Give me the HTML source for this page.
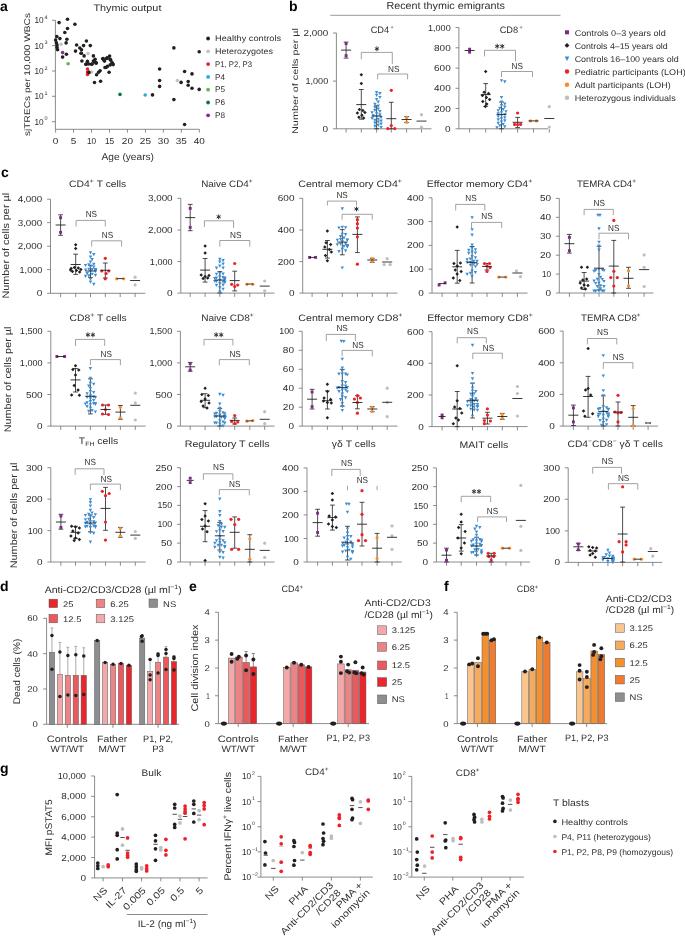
<!DOCTYPE html>
<html><head><meta charset="utf-8"><style>
html,body{margin:0;padding:0;background:#fff;}
svg{display:block;font-family:"Liberation Sans",sans-serif;text-rendering:geometricPrecision;will-change:transform;}
</style></head><body>
<svg width="685" height="937" viewBox="0 0 685 937">
<rect width="685" height="937" fill="#fff"/>
<text x="0.00" y="10.90" font-size="14" text-anchor="start" fill="#000" font-weight="bold">a</text>
<text x="93.40" y="11.30" font-size="9.3" text-anchor="start" fill="#2f2d2e" textLength="68.00" lengthAdjust="spacingAndGlyphs">Thymic output</text>
<text x="29.60" y="74.50" font-size="8.3" text-anchor="middle" fill="#2f2d2e" textLength="123.00" lengthAdjust="spacingAndGlyphs" transform="rotate(-90 29.60 74.50)">sjTRECs per 10,000 WBCs</text>
<line x1="55.40" y1="20.30" x2="55.40" y2="129.30" stroke="#6d6e71" stroke-width="0.8"/>
<line x1="55.40" y1="129.30" x2="199.40" y2="129.30" stroke="#6d6e71" stroke-width="0.8"/>
<line x1="52.00" y1="20.30" x2="55.40" y2="20.30" stroke="#6d6e71" stroke-width="0.8"/>
<text x="43.60" y="23.30" font-size="8.7" text-anchor="end" fill="#2f2d2e" textLength="9.22" lengthAdjust="spacingAndGlyphs">10</text>
<text x="44.40" y="19.00" font-size="5.2" text-anchor="start" fill="#2f2d2e" textLength="3.04" lengthAdjust="spacingAndGlyphs">4</text>
<line x1="52.00" y1="45.60" x2="55.40" y2="45.60" stroke="#6d6e71" stroke-width="0.8"/>
<text x="43.60" y="48.60" font-size="8.7" text-anchor="end" fill="#2f2d2e" textLength="9.22" lengthAdjust="spacingAndGlyphs">10</text>
<text x="44.40" y="44.30" font-size="5.2" text-anchor="start" fill="#2f2d2e" textLength="3.04" lengthAdjust="spacingAndGlyphs">3</text>
<line x1="52.00" y1="71.00" x2="55.40" y2="71.00" stroke="#6d6e71" stroke-width="0.8"/>
<text x="43.60" y="74.00" font-size="8.7" text-anchor="end" fill="#2f2d2e" textLength="9.22" lengthAdjust="spacingAndGlyphs">10</text>
<text x="44.40" y="69.70" font-size="5.2" text-anchor="start" fill="#2f2d2e" textLength="3.04" lengthAdjust="spacingAndGlyphs">2</text>
<line x1="52.00" y1="96.30" x2="55.40" y2="96.30" stroke="#6d6e71" stroke-width="0.8"/>
<text x="43.60" y="99.30" font-size="8.7" text-anchor="end" fill="#2f2d2e" textLength="9.22" lengthAdjust="spacingAndGlyphs">10</text>
<text x="44.40" y="95.00" font-size="5.2" text-anchor="start" fill="#2f2d2e" textLength="3.04" lengthAdjust="spacingAndGlyphs">1</text>
<line x1="52.00" y1="121.70" x2="55.40" y2="121.70" stroke="#6d6e71" stroke-width="0.8"/>
<text x="43.60" y="124.70" font-size="8.7" text-anchor="end" fill="#2f2d2e" textLength="9.22" lengthAdjust="spacingAndGlyphs">10</text>
<text x="44.40" y="120.40" font-size="5.2" text-anchor="start" fill="#2f2d2e" textLength="3.04" lengthAdjust="spacingAndGlyphs">0</text>
<line x1="55.60" y1="129.30" x2="55.60" y2="132.60" stroke="#6d6e71" stroke-width="0.8"/>
<text x="55.60" y="144.20" font-size="8.7" text-anchor="middle" fill="#2f2d2e" textLength="5.57" lengthAdjust="spacingAndGlyphs">0</text>
<line x1="73.56" y1="129.30" x2="73.56" y2="132.60" stroke="#6d6e71" stroke-width="0.8"/>
<text x="73.56" y="144.20" font-size="8.7" text-anchor="middle" fill="#2f2d2e" textLength="5.57" lengthAdjust="spacingAndGlyphs">5</text>
<line x1="91.53" y1="129.30" x2="91.53" y2="132.60" stroke="#6d6e71" stroke-width="0.8"/>
<text x="91.53" y="144.20" font-size="8.7" text-anchor="middle" fill="#2f2d2e" textLength="9.22" lengthAdjust="spacingAndGlyphs">10</text>
<line x1="109.50" y1="129.30" x2="109.50" y2="132.60" stroke="#6d6e71" stroke-width="0.8"/>
<text x="109.50" y="144.20" font-size="8.7" text-anchor="middle" fill="#2f2d2e" textLength="9.22" lengthAdjust="spacingAndGlyphs">15</text>
<line x1="127.46" y1="129.30" x2="127.46" y2="132.60" stroke="#6d6e71" stroke-width="0.8"/>
<text x="127.46" y="144.20" font-size="8.7" text-anchor="middle" fill="#2f2d2e" textLength="11.14" lengthAdjust="spacingAndGlyphs">20</text>
<line x1="145.43" y1="129.30" x2="145.43" y2="132.60" stroke="#6d6e71" stroke-width="0.8"/>
<text x="145.43" y="144.20" font-size="8.7" text-anchor="middle" fill="#2f2d2e" textLength="11.14" lengthAdjust="spacingAndGlyphs">25</text>
<line x1="163.39" y1="129.30" x2="163.39" y2="132.60" stroke="#6d6e71" stroke-width="0.8"/>
<text x="163.39" y="144.20" font-size="8.7" text-anchor="middle" fill="#2f2d2e" textLength="11.14" lengthAdjust="spacingAndGlyphs">30</text>
<line x1="181.35" y1="129.30" x2="181.35" y2="132.60" stroke="#6d6e71" stroke-width="0.8"/>
<text x="181.35" y="144.20" font-size="8.7" text-anchor="middle" fill="#2f2d2e" textLength="11.14" lengthAdjust="spacingAndGlyphs">35</text>
<line x1="199.32" y1="129.30" x2="199.32" y2="132.60" stroke="#6d6e71" stroke-width="0.8"/>
<text x="199.32" y="144.20" font-size="8.7" text-anchor="middle" fill="#2f2d2e" textLength="11.14" lengthAdjust="spacingAndGlyphs">40</text>
<text x="101.50" y="159.60" font-size="9.8" text-anchor="start" fill="#2f2d2e" textLength="52.50" lengthAdjust="spacingAndGlyphs">Age (years)</text>
<circle cx="59.10" cy="22.60" r="1.8" fill="#231f20"/>
<circle cx="67.50" cy="19.30" r="1.8" fill="#231f20"/>
<circle cx="74.90" cy="24.30" r="1.8" fill="#231f20"/>
<circle cx="67.50" cy="28.50" r="1.8" fill="#231f20"/>
<circle cx="64.80" cy="32.50" r="1.8" fill="#231f20"/>
<circle cx="56.80" cy="36.60" r="1.8" fill="#231f20"/>
<circle cx="59.90" cy="38.60" r="1.8" fill="#231f20"/>
<circle cx="66.90" cy="39.20" r="1.8" fill="#231f20"/>
<circle cx="66.10" cy="42.90" r="1.8" fill="#231f20"/>
<circle cx="55.60" cy="40.10" r="1.8" fill="#231f20"/>
<circle cx="56.40" cy="42.70" r="1.8" fill="#231f20"/>
<circle cx="57.00" cy="45.00" r="1.8" fill="#231f20"/>
<circle cx="57.00" cy="47.40" r="1.8" fill="#231f20"/>
<circle cx="57.60" cy="49.70" r="1.8" fill="#231f20"/>
<circle cx="66.40" cy="54.20" r="1.8" fill="#231f20"/>
<circle cx="62.60" cy="57.10" r="1.8" fill="#231f20"/>
<circle cx="76.60" cy="45.00" r="1.8" fill="#231f20"/>
<circle cx="86.40" cy="41.00" r="1.8" fill="#231f20"/>
<circle cx="90.30" cy="45.60" r="1.8" fill="#231f20"/>
<circle cx="83.60" cy="45.60" r="1.8" fill="#231f20"/>
<circle cx="79.80" cy="48.00" r="1.8" fill="#231f20"/>
<circle cx="81.50" cy="49.70" r="1.8" fill="#231f20"/>
<circle cx="75.50" cy="51.10" r="1.8" fill="#231f20"/>
<circle cx="81.30" cy="53.20" r="1.8" fill="#231f20"/>
<circle cx="84.10" cy="55.90" r="1.8" fill="#231f20"/>
<circle cx="93.40" cy="55.90" r="1.8" fill="#231f20"/>
<circle cx="81.90" cy="61.00" r="1.8" fill="#231f20"/>
<circle cx="87.40" cy="61.40" r="1.8" fill="#231f20"/>
<circle cx="86.20" cy="64.30" r="1.8" fill="#231f20"/>
<circle cx="91.50" cy="64.30" r="1.8" fill="#231f20"/>
<circle cx="94.40" cy="61.40" r="1.8" fill="#231f20"/>
<circle cx="96.10" cy="63.20" r="1.8" fill="#231f20"/>
<circle cx="103.20" cy="58.50" r="1.8" fill="#231f20"/>
<circle cx="107.20" cy="57.90" r="1.8" fill="#231f20"/>
<circle cx="109.60" cy="56.10" r="1.8" fill="#231f20"/>
<circle cx="110.70" cy="60.20" r="1.8" fill="#231f20"/>
<circle cx="112.50" cy="63.20" r="1.8" fill="#231f20"/>
<circle cx="110.20" cy="64.90" r="1.8" fill="#231f20"/>
<circle cx="106.00" cy="67.50" r="1.8" fill="#231f20"/>
<circle cx="104.10" cy="60.20" r="1.8" fill="#231f20"/>
<circle cx="81.10" cy="53.30" r="1.8" fill="#231f20"/>
<circle cx="85.80" cy="64.30" r="1.8" fill="#231f20"/>
<circle cx="88.70" cy="64.00" r="1.8" fill="#231f20"/>
<circle cx="92.20" cy="64.00" r="1.8" fill="#231f20"/>
<circle cx="93.40" cy="61.10" r="1.8" fill="#231f20"/>
<circle cx="95.10" cy="59.30" r="1.8" fill="#231f20"/>
<circle cx="96.30" cy="62.80" r="1.8" fill="#231f20"/>
<circle cx="102.70" cy="58.80" r="1.8" fill="#231f20"/>
<circle cx="104.50" cy="61.10" r="1.8" fill="#231f20"/>
<circle cx="106.80" cy="58.40" r="1.8" fill="#231f20"/>
<circle cx="110.30" cy="59.30" r="1.8" fill="#231f20"/>
<circle cx="112.00" cy="62.80" r="1.8" fill="#231f20"/>
<circle cx="113.20" cy="64.60" r="1.8" fill="#231f20"/>
<circle cx="107.40" cy="66.40" r="1.8" fill="#231f20"/>
<circle cx="105.00" cy="67.50" r="1.8" fill="#231f20"/>
<circle cx="88.90" cy="72.40" r="1.8" fill="#231f20"/>
<circle cx="96.60" cy="74.80" r="1.8" fill="#231f20"/>
<circle cx="100.10" cy="70.80" r="1.8" fill="#231f20"/>
<circle cx="98.60" cy="72.20" r="1.8" fill="#231f20"/>
<circle cx="109.10" cy="72.20" r="1.8" fill="#231f20"/>
<circle cx="94.50" cy="82.50" r="1.8" fill="#231f20"/>
<circle cx="100.60" cy="81.20" r="1.8" fill="#231f20"/>
<circle cx="173.90" cy="47.90" r="1.8" fill="#231f20"/>
<circle cx="199.20" cy="51.70" r="1.8" fill="#231f20"/>
<circle cx="159.60" cy="69.00" r="1.8" fill="#231f20"/>
<circle cx="184.60" cy="71.50" r="1.8" fill="#231f20"/>
<circle cx="192.00" cy="73.90" r="1.8" fill="#231f20"/>
<circle cx="159.60" cy="80.50" r="1.8" fill="#231f20"/>
<circle cx="159.60" cy="86.40" r="1.8" fill="#231f20"/>
<circle cx="181.10" cy="82.40" r="1.8" fill="#231f20"/>
<circle cx="188.20" cy="81.50" r="1.8" fill="#231f20"/>
<circle cx="188.20" cy="85.20" r="1.8" fill="#231f20"/>
<circle cx="192.00" cy="88.20" r="1.8" fill="#231f20"/>
<circle cx="199.20" cy="89.40" r="1.8" fill="#231f20"/>
<circle cx="152.50" cy="94.90" r="1.8" fill="#231f20"/>
<circle cx="173.90" cy="99.60" r="1.8" fill="#231f20"/>
<circle cx="184.60" cy="124.50" r="1.8" fill="#231f20"/>
<circle cx="61.10" cy="44.20" r="1.8" fill="#c2c3c5"/>
<circle cx="88.00" cy="53.60" r="1.8" fill="#c2c3c5"/>
<circle cx="91.60" cy="72.00" r="1.8" fill="#c2c3c5"/>
<circle cx="177.40" cy="80.50" r="1.8" fill="#c2c3c5"/>
<circle cx="62.60" cy="52.60" r="1.8" fill="#8b2a8b"/>
<circle cx="68.10" cy="63.70" r="1.8" fill="#62b657"/>
<circle cx="87.50" cy="69.00" r="1.8" fill="#ec2227"/>
<circle cx="87.50" cy="72.00" r="1.8" fill="#ec2227"/>
<circle cx="87.50" cy="74.50" r="1.8" fill="#ec2227"/>
<circle cx="88.90" cy="72.40" r="1.8" fill="#231f20"/>
<circle cx="120.00" cy="94.40" r="1.8" fill="#0b7a3e"/>
<circle cx="145.20" cy="95.00" r="1.8" fill="#27aae1"/>
<circle cx="208.10" cy="38.50" r="1.9" fill="#231f20"/>
<text x="215.10" y="41.20" font-size="8.2" text-anchor="start" fill="#2f2d2e" textLength="66.00" lengthAdjust="spacingAndGlyphs">Healthy controls</text>
<circle cx="208.10" cy="51.30" r="1.9" fill="#c2c3c5"/>
<text x="215.10" y="54.00" font-size="8.2" text-anchor="start" fill="#2f2d2e" textLength="58.00" lengthAdjust="spacingAndGlyphs">Heterozygotes</text>
<circle cx="208.10" cy="64.10" r="1.9" fill="#ec2227"/>
<text x="215.10" y="66.80" font-size="8.2" text-anchor="start" fill="#2f2d2e" textLength="37.00" lengthAdjust="spacingAndGlyphs">P1, P2, P3</text>
<circle cx="208.10" cy="76.90" r="1.9" fill="#27aae1"/>
<text x="215.10" y="79.60" font-size="8.2" text-anchor="start" fill="#2f2d2e">P4</text>
<circle cx="208.10" cy="89.70" r="1.9" fill="#62b657"/>
<text x="215.10" y="92.40" font-size="8.2" text-anchor="start" fill="#2f2d2e">P5</text>
<circle cx="208.10" cy="102.50" r="1.9" fill="#0b7a3e"/>
<text x="215.10" y="105.20" font-size="8.2" text-anchor="start" fill="#2f2d2e">P6</text>
<circle cx="208.10" cy="115.30" r="1.9" fill="#8b2a8b"/>
<text x="215.10" y="118.00" font-size="8.2" text-anchor="start" fill="#2f2d2e">P8</text>
<text x="289.00" y="10.90" font-size="14" text-anchor="start" fill="#000" font-weight="bold">b</text>
<text x="386.40" y="9.40" font-size="10.2" text-anchor="start" fill="#2f2d2e" textLength="118.60" lengthAdjust="spacingAndGlyphs">Recent thymic emigrants</text>
<line x1="330.30" y1="15.30" x2="560.50" y2="15.30" stroke="#808285" stroke-width="0.8"/>
<text x="298.40" y="81.00" font-size="8.3" text-anchor="middle" fill="#2f2d2e" textLength="106.00" lengthAdjust="spacingAndGlyphs" transform="rotate(-90 298.40 81.00)">Number of cells per µl</text>
<text x="370.70" y="33.30" font-size="9.3" text-anchor="start" fill="#2f2d2e" textLength="18.50" lengthAdjust="spacingAndGlyphs">CD4</text>
<text x="390.20" y="28.60" font-size="5.5" text-anchor="start" fill="#2f2d2e" textLength="3.60" lengthAdjust="spacingAndGlyphs">+</text>
<line x1="336.40" y1="33.00" x2="336.40" y2="128.80" stroke="#6d6e71" stroke-width="0.8"/>
<line x1="336.40" y1="128.80" x2="431.50" y2="128.80" stroke="#6d6e71" stroke-width="0.8"/>
<line x1="333.00" y1="33.00" x2="336.40" y2="33.00" stroke="#6d6e71" stroke-width="0.8"/>
<text x="328.20" y="36.05" font-size="8.7" text-anchor="end" fill="#2f2d2e" textLength="24.62" lengthAdjust="spacingAndGlyphs">2,000</text>
<line x1="333.00" y1="81.10" x2="336.40" y2="81.10" stroke="#6d6e71" stroke-width="0.8"/>
<text x="328.20" y="84.15" font-size="8.7" text-anchor="end" fill="#2f2d2e" textLength="22.71" lengthAdjust="spacingAndGlyphs">1,000</text>
<line x1="333.00" y1="128.80" x2="336.40" y2="128.80" stroke="#6d6e71" stroke-width="0.8"/>
<text x="328.20" y="131.85" font-size="8.7" text-anchor="end" fill="#2f2d2e" textLength="5.57" lengthAdjust="spacingAndGlyphs">0</text>
<line x1="346.10" y1="128.80" x2="346.10" y2="132.60" stroke="#6d6e71" stroke-width="0.8"/>
<line x1="361.30" y1="128.80" x2="361.30" y2="132.60" stroke="#6d6e71" stroke-width="0.8"/>
<line x1="376.60" y1="128.80" x2="376.60" y2="132.60" stroke="#6d6e71" stroke-width="0.8"/>
<line x1="391.30" y1="128.80" x2="391.30" y2="132.60" stroke="#6d6e71" stroke-width="0.8"/>
<line x1="406.60" y1="128.80" x2="406.60" y2="132.60" stroke="#6d6e71" stroke-width="0.8"/>
<line x1="421.50" y1="128.80" x2="421.50" y2="132.60" stroke="#6d6e71" stroke-width="0.8"/>
<line x1="346.10" y1="42.10" x2="346.10" y2="58.10" stroke="#231f20" stroke-width="0.8"/>
<line x1="343.70" y1="42.10" x2="348.50" y2="42.10" stroke="#231f20" stroke-width="0.8"/>
<line x1="343.70" y1="58.10" x2="348.50" y2="58.10" stroke="#231f20" stroke-width="0.8"/>
<rect x="344.65" y="42.15" width="2.90" height="2.90" fill="#7f2a84"/>
<rect x="344.65" y="54.15" width="2.90" height="2.90" fill="#7f2a84"/>
<line x1="341.10" y1="50.10" x2="351.10" y2="50.10" stroke="#231f20" stroke-width="0.9"/>
<line x1="361.30" y1="89.50" x2="361.30" y2="119.20" stroke="#231f20" stroke-width="0.8"/>
<line x1="358.90" y1="89.50" x2="363.70" y2="89.50" stroke="#231f20" stroke-width="0.8"/>
<line x1="358.90" y1="119.20" x2="363.70" y2="119.20" stroke="#231f20" stroke-width="0.8"/>
<polygon points="361.30,73.05 363.05,74.80 361.30,76.55 359.55,74.80" fill="#231f20"/>
<polygon points="361.30,81.65 363.05,83.40 361.30,85.15 359.55,83.40" fill="#231f20"/>
<polygon points="359.35,107.75 361.10,109.50 359.35,111.25 357.60,109.50" fill="#231f20"/>
<polygon points="362.86,108.75 364.61,110.50 362.86,112.25 361.11,110.50" fill="#231f20"/>
<polygon points="357.40,111.25 359.15,113.00 357.40,114.75 355.65,113.00" fill="#231f20"/>
<polygon points="364.94,110.75 366.69,112.50 364.94,114.25 363.19,112.50" fill="#231f20"/>
<polygon points="361.95,113.45 363.70,115.20 361.95,116.95 360.20,115.20" fill="#231f20"/>
<polygon points="358.96,115.55 360.71,117.30 358.96,119.05 357.21,117.30" fill="#231f20"/>
<polygon points="363.64,116.25 365.39,118.00 363.64,119.75 361.89,118.00" fill="#231f20"/>
<line x1="356.30" y1="104.60" x2="366.30" y2="104.60" stroke="#231f20" stroke-width="0.9"/>
<line x1="376.60" y1="105.80" x2="376.60" y2="128.80" stroke="#231f20" stroke-width="0.8"/>
<line x1="374.20" y1="105.80" x2="379.00" y2="105.80" stroke="#231f20" stroke-width="0.8"/>
<line x1="374.20" y1="128.80" x2="379.00" y2="128.80" stroke="#231f20" stroke-width="0.8"/>
<polygon points="374.90,90.96 378.30,90.96 376.60,94.10" fill="#3c8dd1"/>
<polygon points="378.20,92.06 381.60,92.06 379.90,95.20" fill="#3c8dd1"/>
<polygon points="374.90,93.76 378.30,93.76 376.60,96.90" fill="#3c8dd1"/>
<polygon points="378.20,95.96 381.60,95.96 379.90,99.10" fill="#3c8dd1"/>
<polygon points="374.90,98.06 378.30,98.06 376.60,101.20" fill="#3c8dd1"/>
<polygon points="376.55,100.56 379.95,100.56 378.25,103.70" fill="#3c8dd1"/>
<polygon points="373.25,102.76 376.65,102.76 374.95,105.90" fill="#3c8dd1"/>
<polygon points="376.55,104.56 379.95,104.56 378.25,107.70" fill="#3c8dd1"/>
<polygon points="373.25,106.06 376.65,106.06 374.95,109.20" fill="#3c8dd1"/>
<polygon points="376.55,107.56 379.95,107.56 378.25,110.70" fill="#3c8dd1"/>
<polygon points="373.25,108.96 376.65,108.96 374.95,112.10" fill="#3c8dd1"/>
<polygon points="378.20,110.06 381.60,110.06 379.90,113.20" fill="#3c8dd1"/>
<polygon points="370.40,111.16 373.80,111.16 372.10,114.30" fill="#3c8dd1"/>
<polygon points="374.90,112.16 378.30,112.16 376.60,115.30" fill="#3c8dd1"/>
<polygon points="378.20,113.36 381.60,113.36 379.90,116.50" fill="#3c8dd1"/>
<polygon points="371.60,114.26 375.00,114.26 373.30,117.40" fill="#3c8dd1"/>
<polygon points="374.90,115.16 378.30,115.16 376.60,118.30" fill="#3c8dd1"/>
<polygon points="379.40,116.06 382.80,116.06 381.10,119.20" fill="#3c8dd1"/>
<polygon points="370.40,116.96 373.80,116.96 372.10,120.10" fill="#3c8dd1"/>
<polygon points="376.55,117.76 379.95,117.76 378.25,120.90" fill="#3c8dd1"/>
<polygon points="373.25,118.76 376.65,118.76 374.95,121.90" fill="#3c8dd1"/>
<polygon points="379.40,119.56 382.80,119.56 381.10,122.70" fill="#3c8dd1"/>
<polygon points="376.55,120.56 379.95,120.56 378.25,123.70" fill="#3c8dd1"/>
<polygon points="373.25,121.56 376.65,121.56 374.95,124.70" fill="#3c8dd1"/>
<polygon points="379.40,122.56 382.80,122.56 381.10,125.70" fill="#3c8dd1"/>
<polygon points="376.55,123.76 379.95,123.76 378.25,126.90" fill="#3c8dd1"/>
<polygon points="373.25,124.86 376.65,124.86 374.95,128.00" fill="#3c8dd1"/>
<polygon points="379.40,125.96 382.80,125.96 381.10,129.10" fill="#3c8dd1"/>
<line x1="371.60" y1="116.00" x2="381.60" y2="116.00" stroke="#231f20" stroke-width="0.9"/>
<line x1="391.30" y1="102.30" x2="391.30" y2="128.80" stroke="#231f20" stroke-width="0.8"/>
<line x1="388.90" y1="102.30" x2="393.70" y2="102.30" stroke="#231f20" stroke-width="0.8"/>
<line x1="388.90" y1="128.80" x2="393.70" y2="128.80" stroke="#231f20" stroke-width="0.8"/>
<circle cx="391.30" cy="90.30" r="1.6" fill="#ec2227"/>
<circle cx="391.30" cy="125.60" r="1.6" fill="#ec2227"/>
<circle cx="387.80" cy="128.60" r="1.6" fill="#ec2227"/>
<circle cx="394.80" cy="128.60" r="1.6" fill="#ec2227"/>
<line x1="386.30" y1="118.70" x2="396.30" y2="118.70" stroke="#231f20" stroke-width="0.9"/>
<line x1="406.60" y1="116.60" x2="406.60" y2="122.60" stroke="#231f20" stroke-width="0.8"/>
<line x1="404.20" y1="116.60" x2="409.00" y2="116.60" stroke="#231f20" stroke-width="0.8"/>
<line x1="404.20" y1="122.60" x2="409.00" y2="122.60" stroke="#231f20" stroke-width="0.8"/>
<circle cx="406.60" cy="117.40" r="1.6" fill="#f58d2a"/>
<circle cx="406.60" cy="122.20" r="1.6" fill="#f58d2a"/>
<line x1="401.60" y1="119.50" x2="411.60" y2="119.50" stroke="#231f20" stroke-width="0.9"/>
<circle cx="421.50" cy="114.70" r="1.6" fill="#bcbec0"/>
<circle cx="421.50" cy="127.20" r="1.6" fill="#bcbec0"/>
<line x1="416.50" y1="121.10" x2="426.50" y2="121.10" stroke="#231f20" stroke-width="0.9"/>
<polyline points="361.30,59.30 361.30,52.40 392.30,52.40 392.30,64.10" fill="none" stroke="#8a8a8a" stroke-width="0.8"/>
<line x1="376.90" y1="46.40" x2="376.90" y2="51.20" stroke="#231f20" stroke-width="0.9"/>
<line x1="374.82" y1="47.60" x2="378.98" y2="50.00" stroke="#231f20" stroke-width="0.9"/>
<line x1="374.82" y1="50.00" x2="378.98" y2="47.60" stroke="#231f20" stroke-width="0.9"/>
<polyline points="377.70,79.30 377.70,74.00 407.60,74.00 407.60,79.30" fill="none" stroke="#8a8a8a" stroke-width="0.8"/>
<text x="393.80" y="71.80" font-size="8.8" text-anchor="middle" fill="#2f2d2e" textLength="11.40" lengthAdjust="spacingAndGlyphs">NS</text>
<text x="499.70" y="33.30" font-size="9.3" text-anchor="start" fill="#2f2d2e" textLength="18.50" lengthAdjust="spacingAndGlyphs">CD8</text>
<text x="519.30" y="28.60" font-size="5.5" text-anchor="start" fill="#2f2d2e" textLength="3.60" lengthAdjust="spacingAndGlyphs">+</text>
<line x1="458.90" y1="27.50" x2="458.90" y2="128.80" stroke="#6d6e71" stroke-width="0.8"/>
<line x1="458.90" y1="128.80" x2="548.00" y2="128.80" stroke="#6d6e71" stroke-width="0.8"/>
<line x1="455.50" y1="27.50" x2="458.90" y2="27.50" stroke="#6d6e71" stroke-width="0.8"/>
<text x="450.70" y="30.55" font-size="8.7" text-anchor="end" fill="#2f2d2e" textLength="22.71" lengthAdjust="spacingAndGlyphs">1,000</text>
<line x1="455.50" y1="47.80" x2="458.90" y2="47.80" stroke="#6d6e71" stroke-width="0.8"/>
<text x="450.70" y="50.85" font-size="8.7" text-anchor="end" fill="#2f2d2e" textLength="16.70" lengthAdjust="spacingAndGlyphs">800</text>
<line x1="455.50" y1="68.10" x2="458.90" y2="68.10" stroke="#6d6e71" stroke-width="0.8"/>
<text x="450.70" y="71.15" font-size="8.7" text-anchor="end" fill="#2f2d2e" textLength="16.70" lengthAdjust="spacingAndGlyphs">600</text>
<line x1="455.50" y1="88.30" x2="458.90" y2="88.30" stroke="#6d6e71" stroke-width="0.8"/>
<text x="450.70" y="91.35" font-size="8.7" text-anchor="end" fill="#2f2d2e" textLength="16.70" lengthAdjust="spacingAndGlyphs">400</text>
<line x1="455.50" y1="108.50" x2="458.90" y2="108.50" stroke="#6d6e71" stroke-width="0.8"/>
<text x="450.70" y="111.55" font-size="8.7" text-anchor="end" fill="#2f2d2e" textLength="16.70" lengthAdjust="spacingAndGlyphs">200</text>
<line x1="455.50" y1="128.80" x2="458.90" y2="128.80" stroke="#6d6e71" stroke-width="0.8"/>
<text x="450.70" y="131.85" font-size="8.7" text-anchor="end" fill="#2f2d2e" textLength="5.57" lengthAdjust="spacingAndGlyphs">0</text>
<line x1="469.60" y1="128.80" x2="469.60" y2="132.60" stroke="#6d6e71" stroke-width="0.8"/>
<line x1="485.70" y1="128.80" x2="485.70" y2="132.60" stroke="#6d6e71" stroke-width="0.8"/>
<line x1="501.50" y1="128.80" x2="501.50" y2="132.60" stroke="#6d6e71" stroke-width="0.8"/>
<line x1="517.60" y1="128.80" x2="517.60" y2="132.60" stroke="#6d6e71" stroke-width="0.8"/>
<line x1="533.50" y1="128.80" x2="533.50" y2="132.60" stroke="#6d6e71" stroke-width="0.8"/>
<line x1="549.30" y1="128.80" x2="549.30" y2="132.60" stroke="#6d6e71" stroke-width="0.8"/>
<rect x="468.15" y="47.75" width="2.90" height="2.90" fill="#7f2a84"/>
<rect x="468.15" y="50.75" width="2.90" height="2.90" fill="#7f2a84"/>
<line x1="464.60" y1="50.50" x2="474.60" y2="50.50" stroke="#231f20" stroke-width="0.9"/>
<line x1="485.70" y1="83.60" x2="485.70" y2="106.30" stroke="#231f20" stroke-width="0.8"/>
<line x1="483.30" y1="83.60" x2="488.10" y2="83.60" stroke="#231f20" stroke-width="0.8"/>
<line x1="483.30" y1="106.30" x2="488.10" y2="106.30" stroke="#231f20" stroke-width="0.8"/>
<polygon points="485.70,69.75 487.45,71.50 485.70,73.25 483.95,71.50" fill="#231f20"/>
<polygon points="484.14,90.45 485.89,92.20 484.14,93.95 482.39,92.20" fill="#231f20"/>
<polygon points="488.56,91.65 490.31,93.40 488.56,95.15 486.81,93.40" fill="#231f20"/>
<polygon points="482.45,93.75 484.20,95.50 482.45,97.25 480.70,95.50" fill="#231f20"/>
<polygon points="486.35,95.75 488.10,97.50 486.35,99.25 484.60,97.50" fill="#231f20"/>
<polygon points="489.60,97.75 491.35,99.50 489.60,101.25 487.85,99.50" fill="#231f20"/>
<polygon points="482.84,99.75 484.59,101.50 482.84,103.25 481.09,101.50" fill="#231f20"/>
<polygon points="486.74,102.25 488.49,104.00 486.74,105.75 484.99,104.00" fill="#231f20"/>
<polygon points="485.31,104.75 487.06,106.50 485.31,108.25 483.56,106.50" fill="#231f20"/>
<line x1="480.70" y1="94.60" x2="490.70" y2="94.60" stroke="#231f20" stroke-width="0.9"/>
<line x1="501.50" y1="102.10" x2="501.50" y2="128.80" stroke="#231f20" stroke-width="0.8"/>
<line x1="499.10" y1="102.10" x2="503.90" y2="102.10" stroke="#231f20" stroke-width="0.8"/>
<line x1="499.10" y1="128.80" x2="503.90" y2="128.80" stroke="#231f20" stroke-width="0.8"/>
<polygon points="499.80,79.16 503.20,79.16 501.50,82.30" fill="#3c8dd1"/>
<polygon points="503.10,80.36 506.50,80.36 504.80,83.50" fill="#3c8dd1"/>
<polygon points="499.80,96.06 503.20,96.06 501.50,99.20" fill="#3c8dd1"/>
<polygon points="499.80,100.56 503.20,100.56 501.50,103.70" fill="#3c8dd1"/>
<polygon points="503.10,102.56 506.50,102.56 504.80,105.70" fill="#3c8dd1"/>
<polygon points="499.80,104.06 503.20,104.06 501.50,107.20" fill="#3c8dd1"/>
<polygon points="503.10,105.56 506.50,105.56 504.80,108.70" fill="#3c8dd1"/>
<polygon points="498.15,106.76 501.55,106.76 499.85,109.90" fill="#3c8dd1"/>
<polygon points="501.45,108.06 504.85,108.06 503.15,111.20" fill="#3c8dd1"/>
<polygon points="496.50,109.16 499.90,109.16 498.20,112.30" fill="#3c8dd1"/>
<polygon points="504.30,110.16 507.70,110.16 506.00,113.30" fill="#3c8dd1"/>
<polygon points="499.80,111.16 503.20,111.16 501.50,114.30" fill="#3c8dd1"/>
<polygon points="496.50,112.16 499.90,112.16 498.20,115.30" fill="#3c8dd1"/>
<polygon points="503.10,113.16 506.50,113.16 504.80,116.30" fill="#3c8dd1"/>
<polygon points="499.80,114.16 503.20,114.16 501.50,117.30" fill="#3c8dd1"/>
<polygon points="496.50,115.16 499.90,115.16 498.20,118.30" fill="#3c8dd1"/>
<polygon points="503.10,116.16 506.50,116.16 504.80,119.30" fill="#3c8dd1"/>
<polygon points="499.80,117.26 503.20,117.26 501.50,120.40" fill="#3c8dd1"/>
<polygon points="496.50,118.36 499.90,118.36 498.20,121.50" fill="#3c8dd1"/>
<polygon points="503.10,119.36 506.50,119.36 504.80,122.50" fill="#3c8dd1"/>
<polygon points="499.80,120.56 503.20,120.56 501.50,123.70" fill="#3c8dd1"/>
<polygon points="496.50,121.76 499.90,121.76 498.20,124.90" fill="#3c8dd1"/>
<polygon points="501.45,122.96 504.85,122.96 503.15,126.10" fill="#3c8dd1"/>
<polygon points="498.15,124.16 501.55,124.16 499.85,127.30" fill="#3c8dd1"/>
<polygon points="503.10,125.36 506.50,125.36 504.80,128.50" fill="#3c8dd1"/>
<polygon points="495.30,126.36 498.70,126.36 497.00,129.50" fill="#3c8dd1"/>
<line x1="496.50" y1="114.40" x2="506.50" y2="114.40" stroke="#231f20" stroke-width="0.9"/>
<line x1="517.60" y1="117.40" x2="517.60" y2="127.60" stroke="#231f20" stroke-width="0.8"/>
<line x1="515.20" y1="117.40" x2="520.00" y2="117.40" stroke="#231f20" stroke-width="0.8"/>
<line x1="515.20" y1="127.60" x2="520.00" y2="127.60" stroke="#231f20" stroke-width="0.8"/>
<circle cx="517.60" cy="113.00" r="1.6" fill="#ec2227"/>
<circle cx="514.60" cy="124.40" r="1.6" fill="#ec2227"/>
<circle cx="517.60" cy="124.60" r="1.6" fill="#ec2227"/>
<circle cx="520.60" cy="124.40" r="1.6" fill="#ec2227"/>
<line x1="512.60" y1="122.30" x2="522.60" y2="122.30" stroke="#231f20" stroke-width="0.9"/>
<circle cx="530.50" cy="120.90" r="1.6" fill="#f58d2a"/>
<circle cx="536.50" cy="120.90" r="1.6" fill="#f58d2a"/>
<line x1="528.50" y1="120.90" x2="538.50" y2="120.90" stroke="#231f20" stroke-width="0.9"/>
<circle cx="549.30" cy="106.70" r="1.6" fill="#bcbec0"/>
<circle cx="549.30" cy="127.00" r="1.6" fill="#bcbec0"/>
<line x1="544.30" y1="118.50" x2="554.30" y2="118.50" stroke="#231f20" stroke-width="0.9"/>
<polyline points="484.50,56.40 484.50,50.30 515.50,50.30 515.50,61.30" fill="none" stroke="#8a8a8a" stroke-width="0.8"/>
<line x1="497.20" y1="43.90" x2="497.20" y2="48.70" stroke="#231f20" stroke-width="0.9"/>
<line x1="495.12" y1="45.10" x2="499.28" y2="47.50" stroke="#231f20" stroke-width="0.9"/>
<line x1="495.12" y1="47.50" x2="499.28" y2="45.10" stroke="#231f20" stroke-width="0.9"/>
<line x1="502.20" y1="43.90" x2="502.20" y2="48.70" stroke="#231f20" stroke-width="0.9"/>
<line x1="500.12" y1="45.10" x2="504.28" y2="47.50" stroke="#231f20" stroke-width="0.9"/>
<line x1="500.12" y1="47.50" x2="504.28" y2="45.10" stroke="#231f20" stroke-width="0.9"/>
<polyline points="501.50,77.10 501.50,71.50 532.50,71.50 532.50,77.10" fill="none" stroke="#8a8a8a" stroke-width="0.8"/>
<text x="517.20" y="69.30" font-size="8.8" text-anchor="middle" fill="#2f2d2e" textLength="11.40" lengthAdjust="spacingAndGlyphs">NS</text>
<rect x="564.97" y="30.27" width="4.06" height="4.06" fill="#7f2a84"/>
<text x="574.70" y="35.70" font-size="8.4" text-anchor="start" fill="#2f2d2e" textLength="91.00" lengthAdjust="spacingAndGlyphs">Controls 0–3 years old</text>
<polygon points="567.00,42.95 569.45,45.40 567.00,47.85 564.55,45.40" fill="#231f20"/>
<text x="574.70" y="48.80" font-size="8.4" text-anchor="start" fill="#2f2d2e" textLength="93.00" lengthAdjust="spacingAndGlyphs">Controls 4–15 years old</text>
<polygon points="564.62,56.48 569.38,56.48 567.00,60.88" fill="#3c8dd1"/>
<text x="574.70" y="61.90" font-size="8.4" text-anchor="start" fill="#2f2d2e" textLength="104.00" lengthAdjust="spacingAndGlyphs">Controls 16–100 years old</text>
<circle cx="567.00" cy="71.60" r="2.2399999999999998" fill="#ec2227"/>
<text x="574.70" y="75.00" font-size="8.4" text-anchor="start" fill="#2f2d2e" textLength="111.00" lengthAdjust="spacingAndGlyphs">Pediatric participants (LOH)</text>
<circle cx="567.00" cy="84.70" r="2.2399999999999998" fill="#f58d2a"/>
<text x="574.70" y="88.10" font-size="8.4" text-anchor="start" fill="#2f2d2e" textLength="96.00" lengthAdjust="spacingAndGlyphs">Adult participants (LOH)</text>
<circle cx="567.00" cy="97.80" r="2.2399999999999998" fill="#bcbec0"/>
<text x="574.70" y="101.20" font-size="8.4" text-anchor="start" fill="#2f2d2e" textLength="101.00" lengthAdjust="spacingAndGlyphs">Heterozygous individuals</text>
<text x="1.00" y="176.80" font-size="14" text-anchor="start" fill="#000" font-weight="bold">c</text>
<text x="8.60" y="245.70" font-size="9.6" text-anchor="middle" fill="#2f2d2e" textLength="105.80" lengthAdjust="spacingAndGlyphs" transform="rotate(-90 8.60 245.70)">Number of cells per µl</text>
<text x="10.90" y="379.40" font-size="9.6" text-anchor="middle" fill="#2f2d2e" textLength="105.80" lengthAdjust="spacingAndGlyphs" transform="rotate(-90 10.90 379.40)">Number of cells per µl</text>
<text x="17.20" y="515.40" font-size="9.6" text-anchor="middle" fill="#2f2d2e" textLength="105.80" lengthAdjust="spacingAndGlyphs" transform="rotate(-90 17.20 515.40)">Number of cells per µl</text>
<text x="69.00" y="187.00" font-size="9.3" text-anchor="start" fill="#2f2d2e" textLength="20.78" lengthAdjust="spacingAndGlyphs">CD4</text>
<text x="89.78" y="183.28" font-size="6.138000000000001" text-anchor="start" fill="#2f2d2e" textLength="4.00" lengthAdjust="spacingAndGlyphs">+</text>
<text x="96.67" y="187.00" font-size="9.3" text-anchor="start" fill="#2f2d2e" textLength="29.63" lengthAdjust="spacingAndGlyphs">T cells</text>
<line x1="50.50" y1="199.20" x2="50.50" y2="293.30" stroke="#6d6e71" stroke-width="0.8"/>
<line x1="50.50" y1="293.30" x2="145.30" y2="293.30" stroke="#6d6e71" stroke-width="0.8"/>
<line x1="47.10" y1="199.20" x2="50.50" y2="199.20" stroke="#6d6e71" stroke-width="0.8"/>
<text x="42.30" y="202.25" font-size="8.7" text-anchor="end" fill="#2f2d2e" textLength="24.62" lengthAdjust="spacingAndGlyphs">4,000</text>
<line x1="47.10" y1="222.60" x2="50.50" y2="222.60" stroke="#6d6e71" stroke-width="0.8"/>
<text x="42.30" y="225.65" font-size="8.7" text-anchor="end" fill="#2f2d2e" textLength="24.62" lengthAdjust="spacingAndGlyphs">3,000</text>
<line x1="47.10" y1="246.20" x2="50.50" y2="246.20" stroke="#6d6e71" stroke-width="0.8"/>
<text x="42.30" y="249.25" font-size="8.7" text-anchor="end" fill="#2f2d2e" textLength="24.62" lengthAdjust="spacingAndGlyphs">2,000</text>
<line x1="47.10" y1="269.60" x2="50.50" y2="269.60" stroke="#6d6e71" stroke-width="0.8"/>
<text x="42.30" y="272.65" font-size="8.7" text-anchor="end" fill="#2f2d2e" textLength="22.71" lengthAdjust="spacingAndGlyphs">1,000</text>
<line x1="47.10" y1="293.30" x2="50.50" y2="293.30" stroke="#6d6e71" stroke-width="0.8"/>
<text x="42.30" y="296.35" font-size="8.7" text-anchor="end" fill="#2f2d2e" textLength="5.57" lengthAdjust="spacingAndGlyphs">0</text>
<line x1="60.60" y1="293.30" x2="60.60" y2="297.10" stroke="#6d6e71" stroke-width="0.8"/>
<line x1="75.70" y1="293.30" x2="75.70" y2="297.10" stroke="#6d6e71" stroke-width="0.8"/>
<line x1="90.50" y1="293.30" x2="90.50" y2="297.10" stroke="#6d6e71" stroke-width="0.8"/>
<line x1="105.30" y1="293.30" x2="105.30" y2="297.10" stroke="#6d6e71" stroke-width="0.8"/>
<line x1="120.20" y1="293.30" x2="120.20" y2="297.10" stroke="#6d6e71" stroke-width="0.8"/>
<line x1="135.10" y1="293.30" x2="135.10" y2="297.10" stroke="#6d6e71" stroke-width="0.8"/>
<line x1="60.60" y1="214.80" x2="60.60" y2="235.30" stroke="#231f20" stroke-width="0.8"/>
<line x1="58.20" y1="214.80" x2="63.00" y2="214.80" stroke="#231f20" stroke-width="0.8"/>
<line x1="58.20" y1="235.30" x2="63.00" y2="235.30" stroke="#231f20" stroke-width="0.8"/>
<rect x="59.15" y="216.25" width="2.90" height="2.90" fill="#7f2a84"/>
<rect x="59.15" y="230.85" width="2.90" height="2.90" fill="#7f2a84"/>
<line x1="55.60" y1="225.00" x2="65.60" y2="225.00" stroke="#231f20" stroke-width="0.9"/>
<line x1="75.70" y1="254.20" x2="75.70" y2="274.40" stroke="#231f20" stroke-width="0.8"/>
<line x1="73.30" y1="254.20" x2="78.10" y2="254.20" stroke="#231f20" stroke-width="0.8"/>
<line x1="73.30" y1="274.40" x2="78.10" y2="274.40" stroke="#231f20" stroke-width="0.8"/>
<polygon points="75.70,242.95 77.45,244.70 75.70,246.45 73.95,244.70" fill="#231f20"/>
<polygon points="75.70,246.65 77.45,248.40 75.70,250.15 73.95,248.40" fill="#231f20"/>
<polygon points="71.15,266.75 72.90,268.50 71.15,270.25 69.40,268.50" fill="#231f20"/>
<polygon points="74.40,265.65 76.15,267.40 74.40,269.15 72.65,267.40" fill="#231f20"/>
<polygon points="78.30,266.25 80.05,268.00 78.30,269.75 76.55,268.00" fill="#231f20"/>
<polygon points="80.90,267.75 82.65,269.50 80.90,271.25 79.15,269.50" fill="#231f20"/>
<polygon points="72.45,269.75 74.20,271.50 72.45,273.25 70.70,271.50" fill="#231f20"/>
<polygon points="76.35,268.75 78.10,270.50 76.35,272.25 74.60,270.50" fill="#231f20"/>
<polygon points="79.60,270.25 81.35,272.00 79.60,273.75 77.85,272.00" fill="#231f20"/>
<polygon points="70.50,268.25 72.25,270.00 70.50,271.75 68.75,270.00" fill="#231f20"/>
<line x1="70.70" y1="264.50" x2="80.70" y2="264.50" stroke="#231f20" stroke-width="0.9"/>
<line x1="90.50" y1="265.20" x2="90.50" y2="277.60" stroke="#231f20" stroke-width="0.8"/>
<line x1="88.10" y1="265.20" x2="92.90" y2="265.20" stroke="#231f20" stroke-width="0.8"/>
<line x1="88.10" y1="277.60" x2="92.90" y2="277.60" stroke="#231f20" stroke-width="0.8"/>
<polygon points="88.80,251.36 92.20,251.36 90.50,254.50" fill="#3c8dd1"/>
<polygon points="92.10,253.06 95.50,253.06 93.80,256.20" fill="#3c8dd1"/>
<polygon points="88.80,255.56 92.20,255.56 90.50,258.70" fill="#3c8dd1"/>
<polygon points="90.45,258.06 93.85,258.06 92.15,261.20" fill="#3c8dd1"/>
<polygon points="88.80,260.56 92.20,260.56 90.50,263.70" fill="#3c8dd1"/>
<polygon points="93.80,269.96 97.20,269.96 95.50,273.10" fill="#3c8dd1"/>
<polygon points="83.85,274.87 87.25,274.87 85.55,278.01" fill="#3c8dd1"/>
<polygon points="92.10,265.60 95.50,265.60 93.80,268.74" fill="#3c8dd1"/>
<polygon points="93.75,273.77 97.15,273.77 95.45,276.92" fill="#3c8dd1"/>
<polygon points="93.80,268.45 97.20,268.45 95.50,271.60" fill="#3c8dd1"/>
<polygon points="83.85,268.44 87.25,268.44 85.55,271.59" fill="#3c8dd1"/>
<polygon points="88.80,277.63 92.20,277.63 90.50,280.77" fill="#3c8dd1"/>
<polygon points="88.80,270.22 92.20,270.22 90.50,273.37" fill="#3c8dd1"/>
<polygon points="93.80,269.37 97.20,269.37 95.50,272.52" fill="#3c8dd1"/>
<polygon points="90.45,272.66 93.85,272.66 92.15,275.80" fill="#3c8dd1"/>
<polygon points="87.15,274.34 90.55,274.34 88.85,277.49" fill="#3c8dd1"/>
<polygon points="93.80,269.42 97.20,269.42 95.50,272.57" fill="#3c8dd1"/>
<polygon points="85.50,272.05 88.90,272.05 87.20,275.20" fill="#3c8dd1"/>
<polygon points="88.80,265.42 92.20,265.42 90.50,268.56" fill="#3c8dd1"/>
<polygon points="90.45,268.00 93.85,268.00 92.15,271.14" fill="#3c8dd1"/>
<polygon points="87.15,267.69 90.55,267.69 88.85,270.84" fill="#3c8dd1"/>
<polygon points="83.85,263.89 87.25,263.89 85.55,267.04" fill="#3c8dd1"/>
<polygon points="87.15,263.14 90.55,263.14 88.85,266.29" fill="#3c8dd1"/>
<polygon points="92.10,262.64 95.50,262.64 93.80,265.79" fill="#3c8dd1"/>
<polygon points="93.80,268.54 97.20,268.54 95.50,271.69" fill="#3c8dd1"/>
<polygon points="93.80,268.82 97.20,268.82 95.50,271.97" fill="#3c8dd1"/>
<polygon points="93.75,268.19 97.15,268.19 95.45,271.34" fill="#3c8dd1"/>
<polygon points="88.80,280.56 92.20,280.56 90.50,283.70" fill="#3c8dd1"/>
<polygon points="92.10,282.75 95.50,282.75 93.80,285.90" fill="#3c8dd1"/>
<line x1="85.50" y1="271.00" x2="95.50" y2="271.00" stroke="#231f20" stroke-width="0.9"/>
<line x1="105.30" y1="263.00" x2="105.30" y2="278.00" stroke="#231f20" stroke-width="0.8"/>
<line x1="102.90" y1="263.00" x2="107.70" y2="263.00" stroke="#231f20" stroke-width="0.8"/>
<line x1="102.90" y1="278.00" x2="107.70" y2="278.00" stroke="#231f20" stroke-width="0.8"/>
<circle cx="105.30" cy="258.30" r="1.6" fill="#ec2227"/>
<circle cx="101.80" cy="271.00" r="1.6" fill="#ec2227"/>
<circle cx="108.80" cy="271.00" r="1.6" fill="#ec2227"/>
<circle cx="106.10" cy="273.50" r="1.6" fill="#ec2227"/>
<circle cx="105.30" cy="278.80" r="1.6" fill="#ec2227"/>
<line x1="100.30" y1="270.30" x2="110.30" y2="270.30" stroke="#231f20" stroke-width="0.9"/>
<circle cx="116.70" cy="278.80" r="1.6" fill="#f58d2a"/>
<circle cx="123.70" cy="278.80" r="1.6" fill="#f58d2a"/>
<line x1="116.70" y1="278.60" x2="123.70" y2="278.60" stroke="#231f20" stroke-width="0.9"/>
<circle cx="135.10" cy="277.20" r="1.6" fill="#bcbec0"/>
<circle cx="135.10" cy="284.90" r="1.6" fill="#bcbec0"/>
<line x1="130.10" y1="280.50" x2="140.10" y2="280.50" stroke="#231f20" stroke-width="0.9"/>
<polyline points="76.10,226.50 76.10,220.40 105.30,220.40 105.30,226.50" fill="none" stroke="#8a8a8a" stroke-width="0.8"/>
<text x="91.40" y="217.40" font-size="8.8" text-anchor="middle" fill="#2f2d2e" textLength="11.40" lengthAdjust="spacingAndGlyphs">NS</text>
<polyline points="91.70,246.60 91.70,240.80 121.60,240.80 121.60,246.60" fill="none" stroke="#8a8a8a" stroke-width="0.8"/>
<text x="107.50" y="238.30" font-size="8.8" text-anchor="middle" fill="#2f2d2e" textLength="11.40" lengthAdjust="spacingAndGlyphs">NS</text>
<text x="201.20" y="187.00" font-size="9.3" text-anchor="start" fill="#2f2d2e" textLength="47.61" lengthAdjust="spacingAndGlyphs">Naive CD4</text>
<text x="248.81" y="183.28" font-size="6.138000000000001" text-anchor="start" fill="#2f2d2e" textLength="3.79" lengthAdjust="spacingAndGlyphs">+</text>
<line x1="180.80" y1="198.30" x2="180.80" y2="293.10" stroke="#6d6e71" stroke-width="0.8"/>
<line x1="180.80" y1="293.10" x2="274.50" y2="293.10" stroke="#6d6e71" stroke-width="0.8"/>
<line x1="177.40" y1="198.30" x2="180.80" y2="198.30" stroke="#6d6e71" stroke-width="0.8"/>
<text x="172.60" y="201.35" font-size="8.7" text-anchor="end" fill="#2f2d2e" textLength="24.62" lengthAdjust="spacingAndGlyphs">3,000</text>
<line x1="177.40" y1="230.00" x2="180.80" y2="230.00" stroke="#6d6e71" stroke-width="0.8"/>
<text x="172.60" y="233.05" font-size="8.7" text-anchor="end" fill="#2f2d2e" textLength="24.62" lengthAdjust="spacingAndGlyphs">2,000</text>
<line x1="177.40" y1="261.60" x2="180.80" y2="261.60" stroke="#6d6e71" stroke-width="0.8"/>
<text x="172.60" y="264.65" font-size="8.7" text-anchor="end" fill="#2f2d2e" textLength="22.71" lengthAdjust="spacingAndGlyphs">1,000</text>
<line x1="177.40" y1="293.10" x2="180.80" y2="293.10" stroke="#6d6e71" stroke-width="0.8"/>
<text x="172.60" y="296.15" font-size="8.7" text-anchor="end" fill="#2f2d2e" textLength="5.57" lengthAdjust="spacingAndGlyphs">0</text>
<line x1="190.20" y1="293.10" x2="190.20" y2="296.90" stroke="#6d6e71" stroke-width="0.8"/>
<line x1="205.10" y1="293.10" x2="205.10" y2="296.90" stroke="#6d6e71" stroke-width="0.8"/>
<line x1="219.80" y1="293.10" x2="219.80" y2="296.90" stroke="#6d6e71" stroke-width="0.8"/>
<line x1="234.70" y1="293.10" x2="234.70" y2="296.90" stroke="#6d6e71" stroke-width="0.8"/>
<line x1="249.80" y1="293.10" x2="249.80" y2="296.90" stroke="#6d6e71" stroke-width="0.8"/>
<line x1="264.70" y1="293.10" x2="264.70" y2="296.90" stroke="#6d6e71" stroke-width="0.8"/>
<line x1="190.20" y1="204.40" x2="190.20" y2="230.70" stroke="#231f20" stroke-width="0.8"/>
<line x1="187.80" y1="204.40" x2="192.60" y2="204.40" stroke="#231f20" stroke-width="0.8"/>
<line x1="187.80" y1="230.70" x2="192.60" y2="230.70" stroke="#231f20" stroke-width="0.8"/>
<rect x="188.75" y="206.95" width="2.90" height="2.90" fill="#7f2a84"/>
<rect x="188.75" y="225.95" width="2.90" height="2.90" fill="#7f2a84"/>
<line x1="185.20" y1="217.60" x2="195.20" y2="217.60" stroke="#231f20" stroke-width="0.9"/>
<line x1="205.10" y1="258.50" x2="205.10" y2="282.10" stroke="#231f20" stroke-width="0.8"/>
<line x1="202.70" y1="258.50" x2="207.50" y2="258.50" stroke="#231f20" stroke-width="0.8"/>
<line x1="202.70" y1="282.10" x2="207.50" y2="282.10" stroke="#231f20" stroke-width="0.8"/>
<polygon points="205.10,244.25 206.85,246.00 205.10,247.75 203.35,246.00" fill="#231f20"/>
<polygon points="205.10,251.25 206.85,253.00 205.10,254.75 203.35,253.00" fill="#231f20"/>
<polygon points="201.20,273.25 202.95,275.00 201.20,276.75 199.45,275.00" fill="#231f20"/>
<polygon points="205.10,274.75 206.85,276.50 205.10,278.25 203.35,276.50" fill="#231f20"/>
<polygon points="209.00,273.75 210.75,275.50 209.00,277.25 207.25,275.50" fill="#231f20"/>
<polygon points="203.15,276.75 204.90,278.50 203.15,280.25 201.40,278.50" fill="#231f20"/>
<polygon points="207.70,276.25 209.45,278.00 207.70,279.75 205.95,278.00" fill="#231f20"/>
<line x1="200.10" y1="270.10" x2="210.10" y2="270.10" stroke="#231f20" stroke-width="0.9"/>
<line x1="219.80" y1="271.60" x2="219.80" y2="293.00" stroke="#231f20" stroke-width="0.8"/>
<line x1="217.40" y1="271.60" x2="222.20" y2="271.60" stroke="#231f20" stroke-width="0.8"/>
<line x1="217.40" y1="293.00" x2="222.20" y2="293.00" stroke="#231f20" stroke-width="0.8"/>
<polygon points="218.10,257.75 221.50,257.75 219.80,260.90" fill="#3c8dd1"/>
<polygon points="221.40,259.06 224.80,259.06 223.10,262.20" fill="#3c8dd1"/>
<polygon points="218.10,260.56 221.50,260.56 219.80,263.70" fill="#3c8dd1"/>
<polygon points="221.40,262.56 224.80,262.56 223.10,265.70" fill="#3c8dd1"/>
<polygon points="218.10,264.56 221.50,264.56 219.80,267.70" fill="#3c8dd1"/>
<polygon points="221.40,272.48 224.80,272.48 223.10,275.63" fill="#3c8dd1"/>
<polygon points="214.80,272.67 218.20,272.67 216.50,275.81" fill="#3c8dd1"/>
<polygon points="221.40,283.57 224.80,283.57 223.10,286.72" fill="#3c8dd1"/>
<polygon points="221.40,266.56 224.80,266.56 223.10,269.70" fill="#3c8dd1"/>
<polygon points="218.10,278.69 221.50,278.69 219.80,281.84" fill="#3c8dd1"/>
<polygon points="214.80,266.56 218.20,266.56 216.50,269.70" fill="#3c8dd1"/>
<polygon points="218.10,286.16 221.50,286.16 219.80,289.31" fill="#3c8dd1"/>
<polygon points="223.10,280.77 226.50,280.77 224.80,283.92" fill="#3c8dd1"/>
<polygon points="221.40,287.69 224.80,287.69 223.10,290.84" fill="#3c8dd1"/>
<polygon points="223.10,276.53 226.50,276.53 224.80,279.67" fill="#3c8dd1"/>
<polygon points="218.10,281.94 221.50,281.94 219.80,285.09" fill="#3c8dd1"/>
<polygon points="223.10,277.84 226.50,277.84 224.80,280.98" fill="#3c8dd1"/>
<polygon points="218.10,275.13 221.50,275.13 219.80,278.27" fill="#3c8dd1"/>
<polygon points="221.40,280.43 224.80,280.43 223.10,283.57" fill="#3c8dd1"/>
<polygon points="218.10,272.01 221.50,272.01 219.80,275.16" fill="#3c8dd1"/>
<polygon points="223.10,277.43 226.50,277.43 224.80,280.57" fill="#3c8dd1"/>
<polygon points="214.80,283.73 218.20,283.73 216.50,286.88" fill="#3c8dd1"/>
<polygon points="214.80,279.90 218.20,279.90 216.50,283.05" fill="#3c8dd1"/>
<polygon points="213.10,277.09 216.50,277.09 214.80,280.24" fill="#3c8dd1"/>
<polygon points="218.10,290.56 221.50,290.56 219.80,293.70" fill="#3c8dd1"/>
<polygon points="213.10,279.90 216.50,279.90 214.80,283.05" fill="#3c8dd1"/>
<polygon points="221.40,276.03 224.80,276.03 223.10,279.18" fill="#3c8dd1"/>
<polygon points="223.10,280.51 226.50,280.51 224.80,283.66" fill="#3c8dd1"/>
<polygon points="214.80,276.42 218.20,276.42 216.50,279.56" fill="#3c8dd1"/>
<line x1="214.80" y1="280.00" x2="224.80" y2="280.00" stroke="#231f20" stroke-width="0.9"/>
<line x1="234.70" y1="271.20" x2="234.70" y2="290.90" stroke="#231f20" stroke-width="0.8"/>
<line x1="232.30" y1="271.20" x2="237.10" y2="271.20" stroke="#231f20" stroke-width="0.8"/>
<line x1="232.30" y1="290.90" x2="237.10" y2="290.90" stroke="#231f20" stroke-width="0.8"/>
<circle cx="234.70" cy="263.50" r="1.6" fill="#ec2227"/>
<circle cx="231.70" cy="284.30" r="1.6" fill="#ec2227"/>
<circle cx="234.70" cy="286.50" r="1.6" fill="#ec2227"/>
<circle cx="237.70" cy="285.00" r="1.6" fill="#ec2227"/>
<line x1="229.70" y1="280.60" x2="239.70" y2="280.60" stroke="#231f20" stroke-width="0.9"/>
<circle cx="246.80" cy="284.30" r="1.6" fill="#f58d2a"/>
<circle cx="252.80" cy="284.30" r="1.6" fill="#f58d2a"/>
<line x1="246.30" y1="284.00" x2="253.30" y2="284.00" stroke="#231f20" stroke-width="0.9"/>
<circle cx="264.70" cy="281.00" r="1.6" fill="#bcbec0"/>
<circle cx="264.70" cy="290.90" r="1.6" fill="#bcbec0"/>
<line x1="259.70" y1="286.10" x2="269.70" y2="286.10" stroke="#231f20" stroke-width="0.9"/>
<polyline points="204.40,227.00 204.40,220.80 233.60,220.80 233.60,228.00" fill="none" stroke="#8a8a8a" stroke-width="0.8"/>
<line x1="218.70" y1="214.40" x2="218.70" y2="219.20" stroke="#231f20" stroke-width="0.9"/>
<line x1="216.62" y1="215.60" x2="220.78" y2="218.00" stroke="#231f20" stroke-width="0.9"/>
<line x1="216.62" y1="218.00" x2="220.78" y2="215.60" stroke="#231f20" stroke-width="0.9"/>
<polyline points="219.80,246.50 219.80,240.50 249.80,240.50 249.80,246.50" fill="none" stroke="#8a8a8a" stroke-width="0.8"/>
<text x="235.80" y="238.10" font-size="8.8" text-anchor="middle" fill="#2f2d2e" textLength="11.40" lengthAdjust="spacingAndGlyphs">NS</text>
<text x="298.30" y="187.00" font-size="9.3" text-anchor="start" fill="#2f2d2e" textLength="99.52" lengthAdjust="spacingAndGlyphs">Central memory CD4</text>
<text x="397.82" y="183.28" font-size="6.138000000000001" text-anchor="start" fill="#2f2d2e" textLength="4.08" lengthAdjust="spacingAndGlyphs">+</text>
<line x1="302.70" y1="198.30" x2="302.70" y2="293.10" stroke="#6d6e71" stroke-width="0.8"/>
<line x1="302.70" y1="293.10" x2="397.50" y2="293.10" stroke="#6d6e71" stroke-width="0.8"/>
<line x1="299.30" y1="198.30" x2="302.70" y2="198.30" stroke="#6d6e71" stroke-width="0.8"/>
<text x="294.50" y="201.35" font-size="8.7" text-anchor="end" fill="#2f2d2e" textLength="16.70" lengthAdjust="spacingAndGlyphs">600</text>
<line x1="299.30" y1="230.00" x2="302.70" y2="230.00" stroke="#6d6e71" stroke-width="0.8"/>
<text x="294.50" y="233.05" font-size="8.7" text-anchor="end" fill="#2f2d2e" textLength="16.70" lengthAdjust="spacingAndGlyphs">400</text>
<line x1="299.30" y1="261.60" x2="302.70" y2="261.60" stroke="#6d6e71" stroke-width="0.8"/>
<text x="294.50" y="264.65" font-size="8.7" text-anchor="end" fill="#2f2d2e" textLength="16.70" lengthAdjust="spacingAndGlyphs">200</text>
<line x1="299.30" y1="293.10" x2="302.70" y2="293.10" stroke="#6d6e71" stroke-width="0.8"/>
<text x="294.50" y="296.15" font-size="8.7" text-anchor="end" fill="#2f2d2e" textLength="5.57" lengthAdjust="spacingAndGlyphs">0</text>
<line x1="312.10" y1="293.10" x2="312.10" y2="296.90" stroke="#6d6e71" stroke-width="0.8"/>
<line x1="327.40" y1="293.10" x2="327.40" y2="296.90" stroke="#6d6e71" stroke-width="0.8"/>
<line x1="342.30" y1="293.10" x2="342.30" y2="296.90" stroke="#6d6e71" stroke-width="0.8"/>
<line x1="357.40" y1="293.10" x2="357.40" y2="296.90" stroke="#6d6e71" stroke-width="0.8"/>
<line x1="372.30" y1="293.10" x2="372.30" y2="296.90" stroke="#6d6e71" stroke-width="0.8"/>
<line x1="387.20" y1="293.10" x2="387.20" y2="296.90" stroke="#6d6e71" stroke-width="0.8"/>
<rect x="308.15" y="255.95" width="2.90" height="2.90" fill="#7f2a84"/>
<rect x="314.15" y="255.95" width="2.90" height="2.90" fill="#7f2a84"/>
<line x1="309.10" y1="257.40" x2="315.10" y2="257.40" stroke="#231f20" stroke-width="0.9"/>
<line x1="327.40" y1="240.50" x2="327.40" y2="258.10" stroke="#231f20" stroke-width="0.8"/>
<line x1="325.00" y1="240.50" x2="329.80" y2="240.50" stroke="#231f20" stroke-width="0.8"/>
<line x1="325.00" y1="258.10" x2="329.80" y2="258.10" stroke="#231f20" stroke-width="0.8"/>
<polygon points="327.40,229.35 329.15,231.10 327.40,232.85 325.65,231.10" fill="#231f20"/>
<polygon points="326.10,240.95 327.85,242.70 326.10,244.45 324.35,242.70" fill="#231f20"/>
<polygon points="330.65,242.75 332.40,244.50 330.65,246.25 328.90,244.50" fill="#231f20"/>
<polygon points="324.80,245.25 326.55,247.00 324.80,248.75 323.05,247.00" fill="#231f20"/>
<polygon points="329.35,247.75 331.10,249.50 329.35,251.25 327.60,249.50" fill="#231f20"/>
<polygon points="331.30,250.25 333.05,252.00 331.30,253.75 329.55,252.00" fill="#231f20"/>
<polygon points="325.45,253.75 327.20,255.50 325.45,257.25 323.70,255.50" fill="#231f20"/>
<polygon points="327.40,258.95 329.15,260.70 327.40,262.45 325.65,260.70" fill="#231f20"/>
<line x1="322.40" y1="249.30" x2="332.40" y2="249.30" stroke="#231f20" stroke-width="0.9"/>
<line x1="342.30" y1="229.60" x2="342.30" y2="254.80" stroke="#231f20" stroke-width="0.8"/>
<line x1="339.90" y1="229.60" x2="344.70" y2="229.60" stroke="#231f20" stroke-width="0.8"/>
<line x1="339.90" y1="254.80" x2="344.70" y2="254.80" stroke="#231f20" stroke-width="0.8"/>
<polygon points="340.60,207.36 344.00,207.36 342.30,210.50" fill="#3c8dd1"/>
<polygon points="345.55,238.38 348.95,238.38 347.25,241.53" fill="#3c8dd1"/>
<polygon points="345.60,244.90 349.00,244.90 347.30,248.05" fill="#3c8dd1"/>
<polygon points="335.65,238.63 339.05,238.63 337.35,241.78" fill="#3c8dd1"/>
<polygon points="338.95,237.88 342.35,237.88 340.65,241.02" fill="#3c8dd1"/>
<polygon points="340.60,232.65 344.00,232.65 342.30,235.79" fill="#3c8dd1"/>
<polygon points="345.60,238.74 349.00,238.74 347.30,241.89" fill="#3c8dd1"/>
<polygon points="337.30,250.01 340.70,250.01 339.00,253.15" fill="#3c8dd1"/>
<polygon points="345.60,244.16 349.00,244.16 347.30,247.31" fill="#3c8dd1"/>
<polygon points="343.90,249.37 347.30,249.37 345.60,252.51" fill="#3c8dd1"/>
<polygon points="338.95,242.67 342.35,242.67 340.65,245.82" fill="#3c8dd1"/>
<polygon points="345.60,243.91 349.00,243.91 347.30,247.06" fill="#3c8dd1"/>
<polygon points="343.90,242.13 347.30,242.13 345.60,245.28" fill="#3c8dd1"/>
<polygon points="337.30,226.39 340.70,226.39 339.00,229.54" fill="#3c8dd1"/>
<polygon points="340.60,247.82 344.00,247.82 342.30,250.97" fill="#3c8dd1"/>
<polygon points="345.60,244.86 349.00,244.86 347.30,248.00" fill="#3c8dd1"/>
<polygon points="342.25,244.79 345.65,244.79 343.95,247.94" fill="#3c8dd1"/>
<polygon points="343.90,226.18 347.30,226.18 345.60,229.32" fill="#3c8dd1"/>
<polygon points="340.60,225.73 344.00,225.73 342.30,228.88" fill="#3c8dd1"/>
<polygon points="343.90,232.99 347.30,232.99 345.60,236.14" fill="#3c8dd1"/>
<polygon points="342.25,236.58 345.65,236.58 343.95,239.72" fill="#3c8dd1"/>
<polygon points="335.65,243.15 339.05,243.15 337.35,246.30" fill="#3c8dd1"/>
<polygon points="340.60,240.16 344.00,240.16 342.30,243.31" fill="#3c8dd1"/>
<polygon points="345.60,244.98 349.00,244.98 347.30,248.13" fill="#3c8dd1"/>
<polygon points="338.95,235.10 342.35,235.10 340.65,238.24" fill="#3c8dd1"/>
<polygon points="340.60,266.45 344.00,266.45 342.30,269.60" fill="#3c8dd1"/>
<line x1="337.30" y1="242.10" x2="347.30" y2="242.10" stroke="#231f20" stroke-width="0.9"/>
<line x1="357.40" y1="216.90" x2="357.40" y2="252.60" stroke="#231f20" stroke-width="0.8"/>
<line x1="355.00" y1="216.90" x2="359.80" y2="216.90" stroke="#231f20" stroke-width="0.8"/>
<line x1="355.00" y1="252.60" x2="359.80" y2="252.60" stroke="#231f20" stroke-width="0.8"/>
<circle cx="357.40" cy="219.70" r="1.6" fill="#ec2227"/>
<circle cx="357.40" cy="223.70" r="1.6" fill="#ec2227"/>
<circle cx="357.40" cy="228.10" r="1.6" fill="#ec2227"/>
<circle cx="357.40" cy="236.80" r="1.6" fill="#ec2227"/>
<circle cx="357.40" cy="264.20" r="1.6" fill="#ec2227"/>
<line x1="352.40" y1="234.40" x2="362.40" y2="234.40" stroke="#231f20" stroke-width="0.9"/>
<line x1="372.30" y1="258.30" x2="372.30" y2="262.30" stroke="#231f20" stroke-width="0.8"/>
<line x1="369.90" y1="258.30" x2="374.70" y2="258.30" stroke="#231f20" stroke-width="0.8"/>
<line x1="369.90" y1="262.30" x2="374.70" y2="262.30" stroke="#231f20" stroke-width="0.8"/>
<circle cx="372.30" cy="258.70" r="1.6" fill="#f58d2a"/>
<circle cx="372.30" cy="261.30" r="1.6" fill="#f58d2a"/>
<line x1="367.30" y1="260.00" x2="377.30" y2="260.00" stroke="#231f20" stroke-width="0.9"/>
<circle cx="387.20" cy="258.70" r="1.6" fill="#bcbec0"/>
<circle cx="384.20" cy="264.60" r="1.6" fill="#bcbec0"/>
<circle cx="390.20" cy="264.60" r="1.6" fill="#bcbec0"/>
<line x1="382.20" y1="262.00" x2="392.20" y2="262.00" stroke="#231f20" stroke-width="0.9"/>
<polyline points="327.40,205.50 327.40,201.10 356.50,201.10 356.50,205.50" fill="none" stroke="#8a8a8a" stroke-width="0.8"/>
<text x="342.10" y="197.50" font-size="8.8" text-anchor="middle" fill="#2f2d2e" textLength="11.40" lengthAdjust="spacingAndGlyphs">NS</text>
<polyline points="342.10,219.70 342.10,214.30 372.30,214.30 372.30,219.70" fill="none" stroke="#8a8a8a" stroke-width="0.8"/>
<line x1="356.50" y1="206.60" x2="356.50" y2="211.40" stroke="#231f20" stroke-width="0.9"/>
<line x1="354.42" y1="207.80" x2="358.58" y2="210.20" stroke="#231f20" stroke-width="0.9"/>
<line x1="354.42" y1="210.20" x2="358.58" y2="207.80" stroke="#231f20" stroke-width="0.9"/>
<text x="426.80" y="187.00" font-size="9.3" text-anchor="start" fill="#2f2d2e" textLength="101.43" lengthAdjust="spacingAndGlyphs">Effector memory CD4</text>
<text x="528.23" y="183.28" font-size="6.138000000000001" text-anchor="start" fill="#2f2d2e" textLength="4.07" lengthAdjust="spacingAndGlyphs">+</text>
<line x1="432.00" y1="197.80" x2="432.00" y2="293.10" stroke="#6d6e71" stroke-width="0.8"/>
<line x1="432.00" y1="293.10" x2="527.50" y2="293.10" stroke="#6d6e71" stroke-width="0.8"/>
<line x1="428.60" y1="197.80" x2="432.00" y2="197.80" stroke="#6d6e71" stroke-width="0.8"/>
<text x="423.80" y="200.85" font-size="8.7" text-anchor="end" fill="#2f2d2e" textLength="16.70" lengthAdjust="spacingAndGlyphs">400</text>
<line x1="428.60" y1="221.50" x2="432.00" y2="221.50" stroke="#6d6e71" stroke-width="0.8"/>
<text x="423.80" y="224.55" font-size="8.7" text-anchor="end" fill="#2f2d2e" textLength="16.70" lengthAdjust="spacingAndGlyphs">300</text>
<line x1="428.60" y1="245.40" x2="432.00" y2="245.40" stroke="#6d6e71" stroke-width="0.8"/>
<text x="423.80" y="248.45" font-size="8.7" text-anchor="end" fill="#2f2d2e" textLength="16.70" lengthAdjust="spacingAndGlyphs">200</text>
<line x1="428.60" y1="269.20" x2="432.00" y2="269.20" stroke="#6d6e71" stroke-width="0.8"/>
<text x="423.80" y="272.25" font-size="8.7" text-anchor="end" fill="#2f2d2e" textLength="14.79" lengthAdjust="spacingAndGlyphs">100</text>
<line x1="428.60" y1="293.10" x2="432.00" y2="293.10" stroke="#6d6e71" stroke-width="0.8"/>
<text x="423.80" y="296.15" font-size="8.7" text-anchor="end" fill="#2f2d2e" textLength="5.57" lengthAdjust="spacingAndGlyphs">0</text>
<line x1="442.10" y1="293.10" x2="442.10" y2="296.90" stroke="#6d6e71" stroke-width="0.8"/>
<line x1="457.20" y1="293.10" x2="457.20" y2="296.90" stroke="#6d6e71" stroke-width="0.8"/>
<line x1="472.10" y1="293.10" x2="472.10" y2="296.90" stroke="#6d6e71" stroke-width="0.8"/>
<line x1="487.00" y1="293.10" x2="487.00" y2="296.90" stroke="#6d6e71" stroke-width="0.8"/>
<line x1="502.30" y1="293.10" x2="502.30" y2="296.90" stroke="#6d6e71" stroke-width="0.8"/>
<line x1="517.40" y1="293.10" x2="517.40" y2="296.90" stroke="#6d6e71" stroke-width="0.8"/>
<rect x="437.65" y="283.55" width="2.90" height="2.90" fill="#7f2a84"/>
<rect x="443.65" y="281.35" width="2.90" height="2.90" fill="#7f2a84"/>
<line x1="438.60" y1="283.60" x2="445.60" y2="283.60" stroke="#231f20" stroke-width="0.9"/>
<line x1="457.20" y1="250.40" x2="457.20" y2="283.20" stroke="#231f20" stroke-width="0.8"/>
<line x1="454.80" y1="250.40" x2="459.60" y2="250.40" stroke="#231f20" stroke-width="0.8"/>
<line x1="454.80" y1="283.20" x2="459.60" y2="283.20" stroke="#231f20" stroke-width="0.8"/>
<polygon points="457.20,225.25 458.95,227.00 457.20,228.75 455.45,227.00" fill="#231f20"/>
<polygon points="453.95,261.75 455.70,263.50 453.95,265.25 452.20,263.50" fill="#231f20"/>
<polygon points="460.45,261.25 462.20,263.00 460.45,264.75 458.70,263.00" fill="#231f20"/>
<polygon points="457.20,264.25 458.95,266.00 457.20,267.75 455.45,266.00" fill="#231f20"/>
<polygon points="455.25,268.25 457.00,270.00 455.25,271.75 453.50,270.00" fill="#231f20"/>
<polygon points="461.10,269.75 462.85,271.50 461.10,273.25 459.35,271.50" fill="#231f20"/>
<polygon points="457.20,272.25 458.95,274.00 457.20,275.75 455.45,274.00" fill="#231f20"/>
<polygon points="453.30,276.25 455.05,278.00 453.30,279.75 451.55,278.00" fill="#231f20"/>
<polygon points="459.80,278.75 461.55,280.50 459.80,282.25 458.05,280.50" fill="#231f20"/>
<line x1="452.20" y1="266.80" x2="462.20" y2="266.80" stroke="#231f20" stroke-width="0.9"/>
<line x1="472.10" y1="246.50" x2="472.10" y2="283.00" stroke="#231f20" stroke-width="0.8"/>
<line x1="469.70" y1="246.50" x2="474.50" y2="246.50" stroke="#231f20" stroke-width="0.8"/>
<line x1="469.70" y1="283.00" x2="474.50" y2="283.00" stroke="#231f20" stroke-width="0.8"/>
<polygon points="470.40,216.16 473.80,216.16 472.10,219.30" fill="#3c8dd1"/>
<polygon points="470.40,228.16 473.80,228.16 472.10,231.30" fill="#3c8dd1"/>
<polygon points="470.40,233.56 473.80,233.56 472.10,236.70" fill="#3c8dd1"/>
<polygon points="473.70,251.62 477.10,251.62 475.40,254.76" fill="#3c8dd1"/>
<polygon points="472.05,262.67 475.45,262.67 473.75,265.82" fill="#3c8dd1"/>
<polygon points="465.45,272.84 468.85,272.84 467.15,275.99" fill="#3c8dd1"/>
<polygon points="470.40,275.13 473.80,275.13 472.10,278.28" fill="#3c8dd1"/>
<polygon points="468.75,271.78 472.15,271.78 470.45,274.92" fill="#3c8dd1"/>
<polygon points="465.45,261.01 468.85,261.01 467.15,264.15" fill="#3c8dd1"/>
<polygon points="468.75,263.69 472.15,263.69 470.45,266.83" fill="#3c8dd1"/>
<polygon points="465.45,258.23 468.85,258.23 467.15,261.37" fill="#3c8dd1"/>
<polygon points="473.70,248.16 477.10,248.16 475.40,251.30" fill="#3c8dd1"/>
<polygon points="473.70,256.16 477.10,256.16 475.40,259.30" fill="#3c8dd1"/>
<polygon points="470.40,269.52 473.80,269.52 472.10,272.67" fill="#3c8dd1"/>
<polygon points="475.35,262.91 478.75,262.91 477.05,266.06" fill="#3c8dd1"/>
<polygon points="468.75,257.55 472.15,257.55 470.45,260.70" fill="#3c8dd1"/>
<polygon points="470.40,250.58 473.80,250.58 472.10,253.72" fill="#3c8dd1"/>
<polygon points="472.05,259.69 475.45,259.69 473.75,262.83" fill="#3c8dd1"/>
<polygon points="470.40,255.07 473.80,255.07 472.10,258.21" fill="#3c8dd1"/>
<polygon points="468.75,260.90 472.15,260.90 470.45,264.05" fill="#3c8dd1"/>
<polygon points="473.70,265.15 477.10,265.15 475.40,268.29" fill="#3c8dd1"/>
<polygon points="470.40,243.56 473.80,243.56 472.10,246.70" fill="#3c8dd1"/>
<polygon points="475.35,259.71 478.75,259.71 477.05,262.85" fill="#3c8dd1"/>
<polygon points="470.40,246.74 473.80,246.74 472.10,249.89" fill="#3c8dd1"/>
<polygon points="467.10,251.74 470.50,251.74 468.80,254.88" fill="#3c8dd1"/>
<polygon points="467.10,248.84 470.50,248.84 468.80,251.99" fill="#3c8dd1"/>
<polygon points="473.70,271.06 477.10,271.06 475.40,274.20" fill="#3c8dd1"/>
<line x1="467.10" y1="262.40" x2="477.10" y2="262.40" stroke="#231f20" stroke-width="0.9"/>
<line x1="487.00" y1="263.50" x2="487.00" y2="270.00" stroke="#231f20" stroke-width="0.8"/>
<line x1="484.60" y1="263.50" x2="489.40" y2="263.50" stroke="#231f20" stroke-width="0.8"/>
<line x1="484.60" y1="270.00" x2="489.40" y2="270.00" stroke="#231f20" stroke-width="0.8"/>
<circle cx="484.50" cy="263.50" r="1.6" fill="#ec2227"/>
<circle cx="489.50" cy="263.50" r="1.6" fill="#ec2227"/>
<circle cx="487.00" cy="266.00" r="1.6" fill="#ec2227"/>
<circle cx="490.00" cy="267.50" r="1.6" fill="#ec2227"/>
<circle cx="487.00" cy="271.50" r="1.6" fill="#ec2227"/>
<line x1="482.00" y1="266.40" x2="492.00" y2="266.40" stroke="#231f20" stroke-width="0.9"/>
<circle cx="498.70" cy="277.10" r="1.6" fill="#f58d2a"/>
<circle cx="505.90" cy="277.10" r="1.6" fill="#f58d2a"/>
<line x1="498.70" y1="277.10" x2="505.90" y2="277.10" stroke="#231f20" stroke-width="0.9"/>
<circle cx="516.40" cy="270.80" r="1.6" fill="#bcbec0"/>
<circle cx="520.40" cy="276.70" r="1.6" fill="#bcbec0"/>
<line x1="512.40" y1="273.00" x2="522.40" y2="273.00" stroke="#231f20" stroke-width="0.9"/>
<polyline points="455.70,210.50 455.70,204.40 484.80,204.40 484.80,210.50" fill="none" stroke="#8a8a8a" stroke-width="0.8"/>
<text x="471.00" y="200.80" font-size="8.8" text-anchor="middle" fill="#2f2d2e" textLength="11.40" lengthAdjust="spacingAndGlyphs">NS</text>
<polyline points="471.50,228.10 471.50,222.40 501.70,222.40 501.70,228.10" fill="none" stroke="#8a8a8a" stroke-width="0.8"/>
<text x="487.00" y="219.40" font-size="8.8" text-anchor="middle" fill="#2f2d2e" textLength="11.40" lengthAdjust="spacingAndGlyphs">NS</text>
<text x="576.90" y="187.20" font-size="9.3" text-anchor="start" fill="#2f2d2e" textLength="55.37" lengthAdjust="spacingAndGlyphs">TEMRA CD4</text>
<text x="632.27" y="183.48" font-size="6.138000000000001" text-anchor="start" fill="#2f2d2e" textLength="3.73" lengthAdjust="spacingAndGlyphs">+</text>
<line x1="559.30" y1="198.40" x2="559.30" y2="293.00" stroke="#6d6e71" stroke-width="0.8"/>
<line x1="559.30" y1="293.00" x2="653.50" y2="293.00" stroke="#6d6e71" stroke-width="0.8"/>
<line x1="555.90" y1="198.40" x2="559.30" y2="198.40" stroke="#6d6e71" stroke-width="0.8"/>
<text x="551.10" y="201.45" font-size="8.7" text-anchor="end" fill="#2f2d2e" textLength="11.14" lengthAdjust="spacingAndGlyphs">50</text>
<line x1="555.90" y1="217.30" x2="559.30" y2="217.30" stroke="#6d6e71" stroke-width="0.8"/>
<text x="551.10" y="220.35" font-size="8.7" text-anchor="end" fill="#2f2d2e" textLength="11.14" lengthAdjust="spacingAndGlyphs">40</text>
<line x1="555.90" y1="236.20" x2="559.30" y2="236.20" stroke="#6d6e71" stroke-width="0.8"/>
<text x="551.10" y="239.25" font-size="8.7" text-anchor="end" fill="#2f2d2e" textLength="11.14" lengthAdjust="spacingAndGlyphs">30</text>
<line x1="555.90" y1="255.20" x2="559.30" y2="255.20" stroke="#6d6e71" stroke-width="0.8"/>
<text x="551.10" y="258.25" font-size="8.7" text-anchor="end" fill="#2f2d2e" textLength="11.14" lengthAdjust="spacingAndGlyphs">20</text>
<line x1="555.90" y1="274.10" x2="559.30" y2="274.10" stroke="#6d6e71" stroke-width="0.8"/>
<text x="551.10" y="277.15" font-size="8.7" text-anchor="end" fill="#2f2d2e" textLength="9.22" lengthAdjust="spacingAndGlyphs">10</text>
<line x1="555.90" y1="293.00" x2="559.30" y2="293.00" stroke="#6d6e71" stroke-width="0.8"/>
<text x="551.10" y="296.05" font-size="8.7" text-anchor="end" fill="#2f2d2e" textLength="5.57" lengthAdjust="spacingAndGlyphs">0</text>
<line x1="569.40" y1="293.00" x2="569.40" y2="296.80" stroke="#6d6e71" stroke-width="0.8"/>
<line x1="584.10" y1="293.00" x2="584.10" y2="296.80" stroke="#6d6e71" stroke-width="0.8"/>
<line x1="599.00" y1="293.00" x2="599.00" y2="296.80" stroke="#6d6e71" stroke-width="0.8"/>
<line x1="613.80" y1="293.00" x2="613.80" y2="296.80" stroke="#6d6e71" stroke-width="0.8"/>
<line x1="628.50" y1="293.00" x2="628.50" y2="296.80" stroke="#6d6e71" stroke-width="0.8"/>
<line x1="644.10" y1="293.00" x2="644.10" y2="296.80" stroke="#6d6e71" stroke-width="0.8"/>
<line x1="569.40" y1="234.40" x2="569.40" y2="253.10" stroke="#231f20" stroke-width="0.8"/>
<line x1="567.00" y1="234.40" x2="571.80" y2="234.40" stroke="#231f20" stroke-width="0.8"/>
<line x1="567.00" y1="253.10" x2="571.80" y2="253.10" stroke="#231f20" stroke-width="0.8"/>
<rect x="567.95" y="235.95" width="2.90" height="2.90" fill="#7f2a84"/>
<rect x="567.95" y="249.25" width="2.90" height="2.90" fill="#7f2a84"/>
<line x1="564.40" y1="243.70" x2="574.40" y2="243.70" stroke="#231f20" stroke-width="0.9"/>
<line x1="584.10" y1="272.50" x2="584.10" y2="289.50" stroke="#231f20" stroke-width="0.8"/>
<line x1="581.70" y1="272.50" x2="586.50" y2="272.50" stroke="#231f20" stroke-width="0.8"/>
<line x1="581.70" y1="289.50" x2="586.50" y2="289.50" stroke="#231f20" stroke-width="0.8"/>
<polygon points="581.50,265.55 583.25,267.30 581.50,269.05 579.75,267.30" fill="#231f20"/>
<polygon points="587.35,265.55 589.10,267.30 587.35,269.05 585.60,267.30" fill="#231f20"/>
<polygon points="582.80,278.25 584.55,280.00 582.80,281.75 581.05,280.00" fill="#231f20"/>
<polygon points="586.70,277.25 588.45,279.00 586.70,280.75 584.95,279.00" fill="#231f20"/>
<polygon points="580.20,281.25 581.95,283.00 580.20,284.75 578.45,283.00" fill="#231f20"/>
<polygon points="584.10,283.25 585.85,285.00 584.10,286.75 582.35,285.00" fill="#231f20"/>
<polygon points="588.00,283.75 589.75,285.50 588.00,287.25 586.25,285.50" fill="#231f20"/>
<polygon points="581.50,286.25 583.25,288.00 581.50,289.75 579.75,288.00" fill="#231f20"/>
<polygon points="585.40,287.25 587.15,289.00 585.40,290.75 583.65,289.00" fill="#231f20"/>
<line x1="579.10" y1="281.10" x2="589.10" y2="281.10" stroke="#231f20" stroke-width="0.9"/>
<line x1="599.00" y1="246.30" x2="599.00" y2="290.00" stroke="#231f20" stroke-width="0.8"/>
<line x1="596.60" y1="246.30" x2="601.40" y2="246.30" stroke="#231f20" stroke-width="0.8"/>
<line x1="596.60" y1="290.00" x2="601.40" y2="290.00" stroke="#231f20" stroke-width="0.8"/>
<polygon points="596.30,213.75 599.70,213.75 598.00,216.90" fill="#3c8dd1"/>
<polygon points="598.30,213.75 601.70,213.75 600.00,216.90" fill="#3c8dd1"/>
<polygon points="597.30,227.36 600.70,227.36 599.00,230.50" fill="#3c8dd1"/>
<polygon points="597.30,240.66 600.70,240.66 599.00,243.80" fill="#3c8dd1"/>
<polygon points="597.30,244.56 600.70,244.56 599.00,247.70" fill="#3c8dd1"/>
<polygon points="597.30,248.56 600.70,248.56 599.00,251.70" fill="#3c8dd1"/>
<polygon points="594.00,268.93 597.40,268.93 595.70,272.07" fill="#3c8dd1"/>
<polygon points="598.95,284.14 602.35,284.14 600.65,287.29" fill="#3c8dd1"/>
<polygon points="597.30,289.56 600.70,289.56 599.00,292.70" fill="#3c8dd1"/>
<polygon points="598.95,275.68 602.35,275.68 600.65,278.82" fill="#3c8dd1"/>
<polygon points="597.30,267.93 600.70,267.93 599.00,271.07" fill="#3c8dd1"/>
<polygon points="602.30,279.93 605.70,279.93 604.00,283.08" fill="#3c8dd1"/>
<polygon points="602.25,285.10 605.65,285.10 603.95,288.24" fill="#3c8dd1"/>
<polygon points="600.60,289.56 604.00,289.56 602.30,292.70" fill="#3c8dd1"/>
<polygon points="602.30,269.00 605.70,269.00 604.00,272.15" fill="#3c8dd1"/>
<polygon points="600.60,268.27 604.00,268.27 602.30,271.42" fill="#3c8dd1"/>
<polygon points="598.95,287.26 602.35,287.26 600.65,290.41" fill="#3c8dd1"/>
<polygon points="595.65,285.06 599.05,285.06 597.35,288.20" fill="#3c8dd1"/>
<polygon points="594.00,289.56 597.40,289.56 595.70,292.70" fill="#3c8dd1"/>
<polygon points="602.30,289.56 605.70,289.56 604.00,292.70" fill="#3c8dd1"/>
<polygon points="592.35,279.59 595.75,279.59 594.05,282.73" fill="#3c8dd1"/>
<polygon points="600.60,277.95 604.00,277.95 602.30,281.09" fill="#3c8dd1"/>
<polygon points="592.30,289.56 595.70,289.56 594.00,292.70" fill="#3c8dd1"/>
<polygon points="595.65,277.81 599.05,277.81 597.35,280.96" fill="#3c8dd1"/>
<polygon points="597.30,273.10 600.70,273.10 599.00,276.24" fill="#3c8dd1"/>
<polygon points="592.30,269.74 595.70,269.74 594.00,272.89" fill="#3c8dd1"/>
<polygon points="597.30,281.46 600.70,281.46 599.00,284.61" fill="#3c8dd1"/>
<polygon points="594.00,281.94 597.40,281.94 595.70,285.08" fill="#3c8dd1"/>
<line x1="594.00" y1="268.20" x2="604.00" y2="268.20" stroke="#231f20" stroke-width="0.9"/>
<line x1="613.80" y1="240.40" x2="613.80" y2="293.00" stroke="#231f20" stroke-width="0.8"/>
<line x1="611.40" y1="240.40" x2="616.20" y2="240.40" stroke="#231f20" stroke-width="0.8"/>
<line x1="611.40" y1="293.00" x2="616.20" y2="293.00" stroke="#231f20" stroke-width="0.8"/>
<circle cx="613.80" cy="220.40" r="1.6" fill="#ec2227"/>
<circle cx="613.80" cy="271.30" r="1.6" fill="#ec2227"/>
<circle cx="610.80" cy="277.60" r="1.6" fill="#ec2227"/>
<circle cx="617.30" cy="277.60" r="1.6" fill="#ec2227"/>
<circle cx="613.80" cy="286.00" r="1.6" fill="#ec2227"/>
<line x1="608.80" y1="266.10" x2="618.80" y2="266.10" stroke="#231f20" stroke-width="0.9"/>
<line x1="628.50" y1="267.30" x2="628.50" y2="288.30" stroke="#231f20" stroke-width="0.8"/>
<line x1="626.10" y1="267.30" x2="630.90" y2="267.30" stroke="#231f20" stroke-width="0.8"/>
<line x1="626.10" y1="288.30" x2="630.90" y2="288.30" stroke="#231f20" stroke-width="0.8"/>
<circle cx="628.50" cy="270.80" r="1.6" fill="#f58d2a"/>
<circle cx="628.50" cy="285.80" r="1.6" fill="#f58d2a"/>
<line x1="623.50" y1="278.30" x2="633.50" y2="278.30" stroke="#231f20" stroke-width="0.9"/>
<circle cx="644.10" cy="254.90" r="1.6" fill="#bcbec0"/>
<circle cx="644.10" cy="267.30" r="1.6" fill="#bcbec0"/>
<circle cx="644.10" cy="286.50" r="1.6" fill="#bcbec0"/>
<line x1="639.10" y1="269.60" x2="649.10" y2="269.60" stroke="#231f20" stroke-width="0.9"/>
<polyline points="584.10,215.20 584.10,209.40 613.30,209.40 613.30,215.20" fill="none" stroke="#8a8a8a" stroke-width="0.8"/>
<text x="599.30" y="206.30" font-size="8.8" text-anchor="middle" fill="#2f2d2e" textLength="11.40" lengthAdjust="spacingAndGlyphs">NS</text>
<polyline points="599.00,239.30 599.00,233.20 628.50,233.20 628.50,239.30" fill="none" stroke="#8a8a8a" stroke-width="0.8"/>
<text x="613.80" y="231.30" font-size="8.8" text-anchor="middle" fill="#2f2d2e" textLength="11.40" lengthAdjust="spacingAndGlyphs">NS</text>
<text x="69.60" y="320.80" font-size="9.3" text-anchor="start" fill="#2f2d2e" textLength="20.67" lengthAdjust="spacingAndGlyphs">CD8</text>
<text x="90.27" y="317.08" font-size="6.138000000000001" text-anchor="start" fill="#2f2d2e" textLength="3.98" lengthAdjust="spacingAndGlyphs">+</text>
<text x="97.12" y="320.80" font-size="9.3" text-anchor="start" fill="#2f2d2e" textLength="29.48" lengthAdjust="spacingAndGlyphs">T cells</text>
<line x1="50.80" y1="331.30" x2="50.80" y2="426.10" stroke="#6d6e71" stroke-width="0.8"/>
<line x1="50.80" y1="426.10" x2="145.60" y2="426.10" stroke="#6d6e71" stroke-width="0.8"/>
<line x1="47.40" y1="331.30" x2="50.80" y2="331.30" stroke="#6d6e71" stroke-width="0.8"/>
<text x="42.60" y="334.35" font-size="8.7" text-anchor="end" fill="#2f2d2e" textLength="22.71" lengthAdjust="spacingAndGlyphs">1,500</text>
<line x1="47.40" y1="362.90" x2="50.80" y2="362.90" stroke="#6d6e71" stroke-width="0.8"/>
<text x="42.60" y="365.95" font-size="8.7" text-anchor="end" fill="#2f2d2e" textLength="22.71" lengthAdjust="spacingAndGlyphs">1,000</text>
<line x1="47.40" y1="394.50" x2="50.80" y2="394.50" stroke="#6d6e71" stroke-width="0.8"/>
<text x="42.60" y="397.55" font-size="8.7" text-anchor="end" fill="#2f2d2e" textLength="16.70" lengthAdjust="spacingAndGlyphs">500</text>
<line x1="47.40" y1="426.10" x2="50.80" y2="426.10" stroke="#6d6e71" stroke-width="0.8"/>
<text x="42.60" y="429.15" font-size="8.7" text-anchor="end" fill="#2f2d2e" textLength="5.57" lengthAdjust="spacingAndGlyphs">0</text>
<line x1="60.70" y1="426.10" x2="60.70" y2="429.90" stroke="#6d6e71" stroke-width="0.8"/>
<line x1="75.50" y1="426.10" x2="75.50" y2="429.90" stroke="#6d6e71" stroke-width="0.8"/>
<line x1="90.40" y1="426.10" x2="90.40" y2="429.90" stroke="#6d6e71" stroke-width="0.8"/>
<line x1="105.50" y1="426.10" x2="105.50" y2="429.90" stroke="#6d6e71" stroke-width="0.8"/>
<line x1="120.40" y1="426.10" x2="120.40" y2="429.90" stroke="#6d6e71" stroke-width="0.8"/>
<line x1="135.30" y1="426.10" x2="135.30" y2="429.90" stroke="#6d6e71" stroke-width="0.8"/>
<rect x="55.45" y="355.05" width="2.90" height="2.90" fill="#7f2a84"/>
<rect x="63.15" y="355.05" width="2.90" height="2.90" fill="#7f2a84"/>
<line x1="56.70" y1="356.50" x2="64.70" y2="356.50" stroke="#231f20" stroke-width="0.9"/>
<line x1="75.50" y1="368.50" x2="75.50" y2="392.00" stroke="#231f20" stroke-width="0.8"/>
<line x1="73.10" y1="368.50" x2="77.90" y2="368.50" stroke="#231f20" stroke-width="0.8"/>
<line x1="73.10" y1="392.00" x2="77.90" y2="392.00" stroke="#231f20" stroke-width="0.8"/>
<polygon points="75.50,363.95 77.25,365.70 75.50,367.45 73.75,365.70" fill="#231f20"/>
<polygon points="72.90,367.75 74.65,369.50 72.90,371.25 71.15,369.50" fill="#231f20"/>
<polygon points="78.75,368.25 80.50,370.00 78.75,371.75 77.00,370.00" fill="#231f20"/>
<polygon points="75.50,373.25 77.25,375.00 75.50,376.75 73.75,375.00" fill="#231f20"/>
<polygon points="74.20,383.65 75.95,385.40 74.20,387.15 72.45,385.40" fill="#231f20"/>
<polygon points="78.10,388.25 79.85,390.00 78.10,391.75 76.35,390.00" fill="#231f20"/>
<polygon points="71.60,393.25 73.35,395.00 71.60,396.75 69.85,395.00" fill="#231f20"/>
<polygon points="79.40,393.45 81.15,395.20 79.40,396.95 77.65,395.20" fill="#231f20"/>
<line x1="70.50" y1="379.90" x2="80.50" y2="379.90" stroke="#231f20" stroke-width="0.9"/>
<line x1="90.40" y1="378.80" x2="90.40" y2="413.90" stroke="#231f20" stroke-width="0.8"/>
<line x1="88.00" y1="378.80" x2="92.80" y2="378.80" stroke="#231f20" stroke-width="0.8"/>
<line x1="88.00" y1="413.90" x2="92.80" y2="413.90" stroke="#231f20" stroke-width="0.8"/>
<polygon points="88.70,367.06 92.10,367.06 90.40,370.20" fill="#3c8dd1"/>
<polygon points="88.70,376.86 92.10,376.86 90.40,380.00" fill="#3c8dd1"/>
<polygon points="85.40,395.85 88.80,395.85 87.10,398.99" fill="#3c8dd1"/>
<polygon points="90.35,409.08 93.75,409.08 92.05,412.22" fill="#3c8dd1"/>
<polygon points="88.70,390.10 92.10,390.10 90.40,393.24" fill="#3c8dd1"/>
<polygon points="88.70,381.86 92.10,381.86 90.40,385.01" fill="#3c8dd1"/>
<polygon points="92.00,398.90 95.40,398.90 93.70,402.05" fill="#3c8dd1"/>
<polygon points="93.70,402.05 97.10,402.05 95.40,405.19" fill="#3c8dd1"/>
<polygon points="88.70,400.10 92.10,400.10 90.40,403.25" fill="#3c8dd1"/>
<polygon points="85.40,401.26 88.80,401.26 87.10,404.40" fill="#3c8dd1"/>
<polygon points="93.70,396.12 97.10,396.12 95.40,399.26" fill="#3c8dd1"/>
<polygon points="85.40,392.22 88.80,392.22 87.10,395.36" fill="#3c8dd1"/>
<polygon points="92.00,390.94 95.40,390.94 93.70,394.09" fill="#3c8dd1"/>
<polygon points="92.00,395.44 95.40,395.44 93.70,398.58" fill="#3c8dd1"/>
<polygon points="88.70,394.13 92.10,394.13 90.40,397.27" fill="#3c8dd1"/>
<polygon points="85.40,404.98 88.80,404.98 87.10,408.13" fill="#3c8dd1"/>
<polygon points="83.70,402.47 87.10,402.47 85.40,405.61" fill="#3c8dd1"/>
<polygon points="88.70,386.93 92.10,386.93 90.40,390.07" fill="#3c8dd1"/>
<polygon points="88.70,403.16 92.10,403.16 90.40,406.30" fill="#3c8dd1"/>
<polygon points="88.70,397.16 92.10,397.16 90.40,400.30" fill="#3c8dd1"/>
<polygon points="88.70,406.65 92.10,406.65 90.40,409.80" fill="#3c8dd1"/>
<polygon points="87.05,409.86 90.45,409.86 88.75,413.01" fill="#3c8dd1"/>
<polygon points="92.00,402.03 95.40,402.03 93.70,405.18" fill="#3c8dd1"/>
<polygon points="92.00,382.65 95.40,382.65 93.70,385.80" fill="#3c8dd1"/>
<polygon points="93.70,402.85 97.10,402.85 95.40,405.99" fill="#3c8dd1"/>
<polygon points="87.05,384.46 90.45,384.46 88.75,387.61" fill="#3c8dd1"/>
<polygon points="93.65,410.48 97.05,410.48 95.35,413.62" fill="#3c8dd1"/>
<line x1="85.40" y1="396.30" x2="95.40" y2="396.30" stroke="#231f20" stroke-width="0.9"/>
<line x1="105.50" y1="405.00" x2="105.50" y2="414.30" stroke="#231f20" stroke-width="0.8"/>
<line x1="103.10" y1="405.00" x2="107.90" y2="405.00" stroke="#231f20" stroke-width="0.8"/>
<line x1="103.10" y1="414.30" x2="107.90" y2="414.30" stroke="#231f20" stroke-width="0.8"/>
<circle cx="102.50" cy="405.00" r="1.6" fill="#ec2227"/>
<circle cx="108.50" cy="405.00" r="1.6" fill="#ec2227"/>
<circle cx="105.50" cy="409.50" r="1.6" fill="#ec2227"/>
<circle cx="102.50" cy="414.00" r="1.6" fill="#ec2227"/>
<circle cx="108.50" cy="414.50" r="1.6" fill="#ec2227"/>
<line x1="100.50" y1="409.50" x2="110.50" y2="409.50" stroke="#231f20" stroke-width="0.9"/>
<line x1="120.40" y1="405.50" x2="120.40" y2="419.30" stroke="#231f20" stroke-width="0.8"/>
<line x1="118.00" y1="405.50" x2="122.80" y2="405.50" stroke="#231f20" stroke-width="0.8"/>
<line x1="118.00" y1="419.30" x2="122.80" y2="419.30" stroke="#231f20" stroke-width="0.8"/>
<circle cx="120.40" cy="407.30" r="1.6" fill="#f58d2a"/>
<circle cx="120.40" cy="417.80" r="1.6" fill="#f58d2a"/>
<line x1="115.40" y1="412.10" x2="125.40" y2="412.10" stroke="#231f20" stroke-width="0.9"/>
<circle cx="135.30" cy="393.10" r="1.6" fill="#bcbec0"/>
<circle cx="135.30" cy="402.90" r="1.6" fill="#bcbec0"/>
<circle cx="135.30" cy="420.00" r="1.6" fill="#bcbec0"/>
<line x1="130.30" y1="405.30" x2="140.30" y2="405.30" stroke="#231f20" stroke-width="0.9"/>
<polyline points="75.50,346.00 75.50,339.40 104.70,339.40 104.70,346.00" fill="none" stroke="#8a8a8a" stroke-width="0.8"/>
<line x1="87.90" y1="332.40" x2="87.90" y2="337.20" stroke="#231f20" stroke-width="0.9"/>
<line x1="85.82" y1="333.60" x2="89.98" y2="336.00" stroke="#231f20" stroke-width="0.9"/>
<line x1="85.82" y1="336.00" x2="89.98" y2="333.60" stroke="#231f20" stroke-width="0.9"/>
<line x1="92.90" y1="332.40" x2="92.90" y2="337.20" stroke="#231f20" stroke-width="0.9"/>
<line x1="90.82" y1="333.60" x2="94.98" y2="336.00" stroke="#231f20" stroke-width="0.9"/>
<line x1="90.82" y1="336.00" x2="94.98" y2="333.60" stroke="#231f20" stroke-width="0.9"/>
<polyline points="90.40,365.30 90.40,359.60 120.40,359.60 120.40,365.30" fill="none" stroke="#8a8a8a" stroke-width="0.8"/>
<text x="106.20" y="357.10" font-size="8.8" text-anchor="middle" fill="#2f2d2e" textLength="11.40" lengthAdjust="spacingAndGlyphs">NS</text>
<text x="201.20" y="320.80" font-size="9.3" text-anchor="start" fill="#2f2d2e" textLength="48.62" lengthAdjust="spacingAndGlyphs">Naive CD8</text>
<text x="249.82" y="317.08" font-size="6.138000000000001" text-anchor="start" fill="#2f2d2e" textLength="3.88" lengthAdjust="spacingAndGlyphs">+</text>
<line x1="180.40" y1="331.30" x2="180.40" y2="426.10" stroke="#6d6e71" stroke-width="0.8"/>
<line x1="180.40" y1="426.10" x2="274.50" y2="426.10" stroke="#6d6e71" stroke-width="0.8"/>
<line x1="177.00" y1="331.30" x2="180.40" y2="331.30" stroke="#6d6e71" stroke-width="0.8"/>
<text x="172.20" y="334.35" font-size="8.7" text-anchor="end" fill="#2f2d2e" textLength="22.71" lengthAdjust="spacingAndGlyphs">1,500</text>
<line x1="177.00" y1="362.90" x2="180.40" y2="362.90" stroke="#6d6e71" stroke-width="0.8"/>
<text x="172.20" y="365.95" font-size="8.7" text-anchor="end" fill="#2f2d2e" textLength="22.71" lengthAdjust="spacingAndGlyphs">1,000</text>
<line x1="177.00" y1="394.50" x2="180.40" y2="394.50" stroke="#6d6e71" stroke-width="0.8"/>
<text x="172.20" y="397.55" font-size="8.7" text-anchor="end" fill="#2f2d2e" textLength="16.70" lengthAdjust="spacingAndGlyphs">500</text>
<line x1="177.00" y1="426.10" x2="180.40" y2="426.10" stroke="#6d6e71" stroke-width="0.8"/>
<text x="172.20" y="429.15" font-size="8.7" text-anchor="end" fill="#2f2d2e" textLength="5.57" lengthAdjust="spacingAndGlyphs">0</text>
<line x1="190.20" y1="426.10" x2="190.20" y2="429.90" stroke="#6d6e71" stroke-width="0.8"/>
<line x1="205.10" y1="426.10" x2="205.10" y2="429.90" stroke="#6d6e71" stroke-width="0.8"/>
<line x1="219.80" y1="426.10" x2="219.80" y2="429.90" stroke="#6d6e71" stroke-width="0.8"/>
<line x1="234.70" y1="426.10" x2="234.70" y2="429.90" stroke="#6d6e71" stroke-width="0.8"/>
<line x1="249.80" y1="426.10" x2="249.80" y2="429.90" stroke="#6d6e71" stroke-width="0.8"/>
<line x1="264.70" y1="426.10" x2="264.70" y2="429.90" stroke="#6d6e71" stroke-width="0.8"/>
<line x1="190.20" y1="362.40" x2="190.20" y2="371.20" stroke="#231f20" stroke-width="0.8"/>
<line x1="187.80" y1="362.40" x2="192.60" y2="362.40" stroke="#231f20" stroke-width="0.8"/>
<line x1="187.80" y1="371.20" x2="192.60" y2="371.20" stroke="#231f20" stroke-width="0.8"/>
<rect x="188.75" y="362.05" width="2.90" height="2.90" fill="#7f2a84"/>
<rect x="188.75" y="368.55" width="2.90" height="2.90" fill="#7f2a84"/>
<line x1="185.20" y1="366.80" x2="195.20" y2="366.80" stroke="#231f20" stroke-width="0.9"/>
<line x1="205.10" y1="393.70" x2="205.10" y2="407.70" stroke="#231f20" stroke-width="0.8"/>
<line x1="202.70" y1="393.70" x2="207.50" y2="393.70" stroke="#231f20" stroke-width="0.8"/>
<line x1="202.70" y1="407.70" x2="207.50" y2="407.70" stroke="#231f20" stroke-width="0.8"/>
<polygon points="205.10,386.45 206.85,388.20 205.10,389.95 203.35,388.20" fill="#231f20"/>
<polygon points="201.85,392.75 203.60,394.50 201.85,396.25 200.10,394.50" fill="#231f20"/>
<polygon points="208.35,393.75 210.10,395.50 208.35,397.25 206.60,395.50" fill="#231f20"/>
<polygon points="205.10,397.25 206.85,399.00 205.10,400.75 203.35,399.00" fill="#231f20"/>
<polygon points="201.20,399.75 202.95,401.50 201.20,403.25 199.45,401.50" fill="#231f20"/>
<polygon points="209.00,401.25 210.75,403.00 209.00,404.75 207.25,403.00" fill="#231f20"/>
<polygon points="203.15,404.25 204.90,406.00 203.15,407.75 201.40,406.00" fill="#231f20"/>
<polygon points="207.05,406.25 208.80,408.00 207.05,409.75 205.30,408.00" fill="#231f20"/>
<line x1="200.10" y1="400.30" x2="210.10" y2="400.30" stroke="#231f20" stroke-width="0.9"/>
<line x1="219.80" y1="408.40" x2="219.80" y2="426.00" stroke="#231f20" stroke-width="0.8"/>
<line x1="217.40" y1="408.40" x2="222.20" y2="408.40" stroke="#231f20" stroke-width="0.8"/>
<line x1="217.40" y1="426.00" x2="222.20" y2="426.00" stroke="#231f20" stroke-width="0.8"/>
<polygon points="218.10,392.75 221.50,392.75 219.80,395.90" fill="#3c8dd1"/>
<polygon points="221.40,393.75 224.80,393.75 223.10,396.90" fill="#3c8dd1"/>
<polygon points="223.10,416.38 226.50,416.38 224.80,419.52" fill="#3c8dd1"/>
<polygon points="223.10,415.37 226.50,415.37 224.80,418.52" fill="#3c8dd1"/>
<polygon points="213.10,415.27 216.50,415.27 214.80,418.42" fill="#3c8dd1"/>
<polygon points="223.10,412.34 226.50,412.34 224.80,415.49" fill="#3c8dd1"/>
<polygon points="223.10,416.57 226.50,416.57 224.80,419.71" fill="#3c8dd1"/>
<polygon points="223.10,415.47 226.50,415.47 224.80,418.61" fill="#3c8dd1"/>
<polygon points="213.10,421.60 216.50,421.60 214.80,424.75" fill="#3c8dd1"/>
<polygon points="218.10,409.84 221.50,409.84 219.80,412.99" fill="#3c8dd1"/>
<polygon points="221.40,424.56 224.80,424.56 223.10,427.70" fill="#3c8dd1"/>
<polygon points="218.10,402.56 221.50,402.56 219.80,405.70" fill="#3c8dd1"/>
<polygon points="219.75,415.88 223.15,415.88 221.45,419.02" fill="#3c8dd1"/>
<polygon points="221.40,420.54 224.80,420.54 223.10,423.69" fill="#3c8dd1"/>
<polygon points="223.10,414.40 226.50,414.40 224.80,417.54" fill="#3c8dd1"/>
<polygon points="221.40,411.24 224.80,411.24 223.10,414.39" fill="#3c8dd1"/>
<polygon points="214.80,415.22 218.20,415.22 216.50,418.37" fill="#3c8dd1"/>
<polygon points="218.10,419.50 221.50,419.50 219.80,422.65" fill="#3c8dd1"/>
<polygon points="218.10,422.58 221.50,422.58 219.80,425.73" fill="#3c8dd1"/>
<polygon points="218.10,406.82 221.50,406.82 219.80,409.97" fill="#3c8dd1"/>
<polygon points="223.10,416.71 226.50,416.71 224.80,419.85" fill="#3c8dd1"/>
<polygon points="214.80,411.82 218.20,411.82 216.50,414.96" fill="#3c8dd1"/>
<polygon points="214.80,421.42 218.20,421.42 216.50,424.56" fill="#3c8dd1"/>
<polygon points="213.10,412.56 216.50,412.56 214.80,415.71" fill="#3c8dd1"/>
<polygon points="223.10,416.26 226.50,416.26 224.80,419.41" fill="#3c8dd1"/>
<polygon points="223.10,421.58 226.50,421.58 224.80,424.72" fill="#3c8dd1"/>
<polygon points="218.10,413.60 221.50,413.60 219.80,416.75" fill="#3c8dd1"/>
<polygon points="223.10,416.63 226.50,416.63 224.80,419.78" fill="#3c8dd1"/>
<line x1="214.80" y1="416.00" x2="224.80" y2="416.00" stroke="#231f20" stroke-width="0.9"/>
<line x1="234.70" y1="418.00" x2="234.70" y2="424.00" stroke="#231f20" stroke-width="0.8"/>
<line x1="232.30" y1="418.00" x2="237.10" y2="418.00" stroke="#231f20" stroke-width="0.8"/>
<line x1="232.30" y1="424.00" x2="237.10" y2="424.00" stroke="#231f20" stroke-width="0.8"/>
<circle cx="234.70" cy="415.60" r="1.6" fill="#ec2227"/>
<circle cx="231.70" cy="421.50" r="1.6" fill="#ec2227"/>
<circle cx="234.70" cy="423.50" r="1.6" fill="#ec2227"/>
<circle cx="237.70" cy="422.00" r="1.6" fill="#ec2227"/>
<line x1="229.70" y1="420.40" x2="239.70" y2="420.40" stroke="#231f20" stroke-width="0.9"/>
<circle cx="246.80" cy="421.20" r="1.6" fill="#f58d2a"/>
<circle cx="252.80" cy="420.50" r="1.6" fill="#f58d2a"/>
<line x1="246.30" y1="420.90" x2="253.30" y2="420.90" stroke="#231f20" stroke-width="0.9"/>
<circle cx="264.70" cy="411.70" r="1.6" fill="#bcbec0"/>
<circle cx="264.70" cy="423.70" r="1.6" fill="#bcbec0"/>
<line x1="259.70" y1="419.30" x2="269.70" y2="419.30" stroke="#231f20" stroke-width="0.9"/>
<polyline points="204.00,345.50 204.00,339.40 232.90,339.40 232.90,345.50" fill="none" stroke="#8a8a8a" stroke-width="0.8"/>
<line x1="216.20" y1="332.40" x2="216.20" y2="337.20" stroke="#231f20" stroke-width="0.9"/>
<line x1="214.12" y1="333.60" x2="218.28" y2="336.00" stroke="#231f20" stroke-width="0.9"/>
<line x1="214.12" y1="336.00" x2="218.28" y2="333.60" stroke="#231f20" stroke-width="0.9"/>
<line x1="221.20" y1="332.40" x2="221.20" y2="337.20" stroke="#231f20" stroke-width="0.9"/>
<line x1="219.12" y1="333.60" x2="223.28" y2="336.00" stroke="#231f20" stroke-width="0.9"/>
<line x1="219.12" y1="336.00" x2="223.28" y2="333.60" stroke="#231f20" stroke-width="0.9"/>
<polyline points="219.30,365.30 219.30,359.60 249.30,359.60 249.30,365.30" fill="none" stroke="#8a8a8a" stroke-width="0.8"/>
<text x="235.10" y="357.10" font-size="8.8" text-anchor="middle" fill="#2f2d2e" textLength="11.40" lengthAdjust="spacingAndGlyphs">NS</text>
<text x="298.30" y="320.80" font-size="9.3" text-anchor="start" fill="#2f2d2e" textLength="100.09" lengthAdjust="spacingAndGlyphs">Central memory CD8</text>
<text x="398.39" y="317.08" font-size="6.138000000000001" text-anchor="start" fill="#2f2d2e" textLength="4.11" lengthAdjust="spacingAndGlyphs">+</text>
<line x1="302.20" y1="331.30" x2="302.20" y2="426.10" stroke="#6d6e71" stroke-width="0.8"/>
<line x1="302.20" y1="426.10" x2="397.50" y2="426.10" stroke="#6d6e71" stroke-width="0.8"/>
<line x1="298.80" y1="331.30" x2="302.20" y2="331.30" stroke="#6d6e71" stroke-width="0.8"/>
<text x="294.00" y="334.35" font-size="8.7" text-anchor="end" fill="#2f2d2e" textLength="14.79" lengthAdjust="spacingAndGlyphs">100</text>
<line x1="298.80" y1="350.30" x2="302.20" y2="350.30" stroke="#6d6e71" stroke-width="0.8"/>
<text x="294.00" y="353.35" font-size="8.7" text-anchor="end" fill="#2f2d2e" textLength="11.14" lengthAdjust="spacingAndGlyphs">80</text>
<line x1="298.80" y1="369.30" x2="302.20" y2="369.30" stroke="#6d6e71" stroke-width="0.8"/>
<text x="294.00" y="372.35" font-size="8.7" text-anchor="end" fill="#2f2d2e" textLength="11.14" lengthAdjust="spacingAndGlyphs">60</text>
<line x1="298.80" y1="388.20" x2="302.20" y2="388.20" stroke="#6d6e71" stroke-width="0.8"/>
<text x="294.00" y="391.25" font-size="8.7" text-anchor="end" fill="#2f2d2e" textLength="11.14" lengthAdjust="spacingAndGlyphs">40</text>
<line x1="298.80" y1="407.20" x2="302.20" y2="407.20" stroke="#6d6e71" stroke-width="0.8"/>
<text x="294.00" y="410.25" font-size="8.7" text-anchor="end" fill="#2f2d2e" textLength="11.14" lengthAdjust="spacingAndGlyphs">20</text>
<line x1="298.80" y1="426.10" x2="302.20" y2="426.10" stroke="#6d6e71" stroke-width="0.8"/>
<text x="294.00" y="429.15" font-size="8.7" text-anchor="end" fill="#2f2d2e" textLength="5.57" lengthAdjust="spacingAndGlyphs">0</text>
<line x1="312.10" y1="426.10" x2="312.10" y2="429.90" stroke="#6d6e71" stroke-width="0.8"/>
<line x1="327.40" y1="426.10" x2="327.40" y2="429.90" stroke="#6d6e71" stroke-width="0.8"/>
<line x1="342.30" y1="426.10" x2="342.30" y2="429.90" stroke="#6d6e71" stroke-width="0.8"/>
<line x1="357.40" y1="426.10" x2="357.40" y2="429.90" stroke="#6d6e71" stroke-width="0.8"/>
<line x1="372.30" y1="426.10" x2="372.30" y2="429.90" stroke="#6d6e71" stroke-width="0.8"/>
<line x1="387.20" y1="426.10" x2="387.20" y2="429.90" stroke="#6d6e71" stroke-width="0.8"/>
<line x1="312.10" y1="389.30" x2="312.10" y2="409.00" stroke="#231f20" stroke-width="0.8"/>
<line x1="309.70" y1="389.30" x2="314.50" y2="389.30" stroke="#231f20" stroke-width="0.8"/>
<line x1="309.70" y1="409.00" x2="314.50" y2="409.00" stroke="#231f20" stroke-width="0.8"/>
<rect x="310.65" y="390.55" width="2.90" height="2.90" fill="#7f2a84"/>
<rect x="310.65" y="405.15" width="2.90" height="2.90" fill="#7f2a84"/>
<line x1="307.10" y1="399.20" x2="317.10" y2="399.20" stroke="#231f20" stroke-width="0.9"/>
<line x1="327.40" y1="390.90" x2="327.40" y2="409.00" stroke="#231f20" stroke-width="0.8"/>
<line x1="325.00" y1="390.90" x2="329.80" y2="390.90" stroke="#231f20" stroke-width="0.8"/>
<line x1="325.00" y1="409.00" x2="329.80" y2="409.00" stroke="#231f20" stroke-width="0.8"/>
<polygon points="327.40,382.55 329.15,384.30 327.40,386.05 325.65,384.30" fill="#231f20"/>
<polygon points="327.40,389.75 329.15,391.50 327.40,393.25 325.65,391.50" fill="#231f20"/>
<polygon points="324.15,396.25 325.90,398.00 324.15,399.75 322.40,398.00" fill="#231f20"/>
<polygon points="330.65,397.75 332.40,399.50 330.65,401.25 328.90,399.50" fill="#231f20"/>
<polygon points="327.40,400.75 329.15,402.50 327.40,404.25 325.65,402.50" fill="#231f20"/>
<polygon points="323.50,399.25 325.25,401.00 323.50,402.75 321.75,401.00" fill="#231f20"/>
<polygon points="331.30,401.25 333.05,403.00 331.30,404.75 329.55,403.00" fill="#231f20"/>
<polygon points="327.40,416.05 329.15,417.80 327.40,419.55 325.65,417.80" fill="#231f20"/>
<line x1="322.40" y1="400.70" x2="332.40" y2="400.70" stroke="#231f20" stroke-width="0.9"/>
<line x1="342.30" y1="369.40" x2="342.30" y2="406.20" stroke="#231f20" stroke-width="0.8"/>
<line x1="339.90" y1="369.40" x2="344.70" y2="369.40" stroke="#231f20" stroke-width="0.8"/>
<line x1="339.90" y1="406.20" x2="344.70" y2="406.20" stroke="#231f20" stroke-width="0.8"/>
<polygon points="339.60,339.75 343.00,339.75 341.30,342.90" fill="#3c8dd1"/>
<polygon points="342.10,340.06 345.50,340.06 343.80,343.20" fill="#3c8dd1"/>
<polygon points="340.60,357.66 344.00,357.66 342.30,360.80" fill="#3c8dd1"/>
<polygon points="340.60,366.56 344.00,366.56 342.30,369.70" fill="#3c8dd1"/>
<polygon points="340.60,369.56 344.00,369.56 342.30,372.70" fill="#3c8dd1"/>
<polygon points="340.60,372.56 344.00,372.56 342.30,375.70" fill="#3c8dd1"/>
<polygon points="345.60,386.12 349.00,386.12 347.30,389.27" fill="#3c8dd1"/>
<polygon points="343.90,396.37 347.30,396.37 345.60,399.52" fill="#3c8dd1"/>
<polygon points="335.60,386.57 339.00,386.57 337.30,389.72" fill="#3c8dd1"/>
<polygon points="337.30,390.09 340.70,390.09 339.00,393.24" fill="#3c8dd1"/>
<polygon points="345.60,373.41 349.00,373.41 347.30,376.56" fill="#3c8dd1"/>
<polygon points="337.30,386.07 340.70,386.07 339.00,389.21" fill="#3c8dd1"/>
<polygon points="340.60,384.56 344.00,384.56 342.30,387.70" fill="#3c8dd1"/>
<polygon points="338.95,398.02 342.35,398.02 340.65,401.16" fill="#3c8dd1"/>
<polygon points="345.60,390.17 349.00,390.17 347.30,393.32" fill="#3c8dd1"/>
<polygon points="340.60,388.39 344.00,388.39 342.30,391.53" fill="#3c8dd1"/>
<polygon points="343.90,381.12 347.30,381.12 345.60,384.27" fill="#3c8dd1"/>
<polygon points="340.60,380.03 344.00,380.03 342.30,383.18" fill="#3c8dd1"/>
<polygon points="343.90,388.47 347.30,388.47 345.60,391.61" fill="#3c8dd1"/>
<polygon points="340.60,401.92 344.00,401.92 342.30,405.07" fill="#3c8dd1"/>
<polygon points="343.90,372.56 347.30,372.56 345.60,375.70" fill="#3c8dd1"/>
<polygon points="337.30,372.56 340.70,372.56 339.00,375.70" fill="#3c8dd1"/>
<polygon points="340.60,408.88 344.00,408.88 342.30,412.03" fill="#3c8dd1"/>
<polygon points="340.60,405.05 344.00,405.05 342.30,408.20" fill="#3c8dd1"/>
<polygon points="340.60,395.35 344.00,395.35 342.30,398.50" fill="#3c8dd1"/>
<polygon points="340.60,392.51 344.00,392.51 342.30,395.65" fill="#3c8dd1"/>
<polygon points="343.90,384.62 347.30,384.62 345.60,387.76" fill="#3c8dd1"/>
<line x1="337.30" y1="387.60" x2="347.30" y2="387.60" stroke="#231f20" stroke-width="0.9"/>
<line x1="357.40" y1="395.70" x2="357.40" y2="408.80" stroke="#231f20" stroke-width="0.8"/>
<line x1="355.00" y1="395.70" x2="359.80" y2="395.70" stroke="#231f20" stroke-width="0.8"/>
<line x1="355.00" y1="408.80" x2="359.80" y2="408.80" stroke="#231f20" stroke-width="0.8"/>
<circle cx="357.40" cy="395.70" r="1.6" fill="#ec2227"/>
<circle cx="354.40" cy="399.00" r="1.6" fill="#ec2227"/>
<circle cx="360.40" cy="398.00" r="1.6" fill="#ec2227"/>
<circle cx="357.40" cy="402.50" r="1.6" fill="#ec2227"/>
<circle cx="357.40" cy="413.20" r="1.6" fill="#ec2227"/>
<line x1="352.40" y1="402.50" x2="362.40" y2="402.50" stroke="#231f20" stroke-width="0.9"/>
<line x1="372.30" y1="406.60" x2="372.30" y2="411.70" stroke="#231f20" stroke-width="0.8"/>
<line x1="369.90" y1="406.60" x2="374.70" y2="406.60" stroke="#231f20" stroke-width="0.8"/>
<line x1="369.90" y1="411.70" x2="374.70" y2="411.70" stroke="#231f20" stroke-width="0.8"/>
<circle cx="372.30" cy="407.30" r="1.6" fill="#f58d2a"/>
<circle cx="372.30" cy="411.50" r="1.6" fill="#f58d2a"/>
<line x1="367.30" y1="409.00" x2="377.30" y2="409.00" stroke="#231f20" stroke-width="0.9"/>
<circle cx="387.20" cy="388.20" r="1.6" fill="#bcbec0"/>
<circle cx="387.20" cy="402.30" r="1.6" fill="#bcbec0"/>
<circle cx="387.20" cy="416.70" r="1.6" fill="#bcbec0"/>
<line x1="382.20" y1="402.30" x2="392.20" y2="402.30" stroke="#231f20" stroke-width="0.9"/>
<polyline points="326.30,341.00 326.30,334.40 355.40,334.40 355.40,341.00" fill="none" stroke="#8a8a8a" stroke-width="0.8"/>
<text x="342.10" y="331.40" font-size="8.8" text-anchor="middle" fill="#2f2d2e" textLength="11.40" lengthAdjust="spacingAndGlyphs">NS</text>
<polyline points="342.10,356.30 342.10,350.40 372.30,350.40 372.30,356.30" fill="none" stroke="#8a8a8a" stroke-width="0.8"/>
<text x="358.00" y="348.30" font-size="8.8" text-anchor="middle" fill="#2f2d2e" textLength="11.40" lengthAdjust="spacingAndGlyphs">NS</text>
<text x="427.20" y="320.80" font-size="9.3" text-anchor="start" fill="#2f2d2e" textLength="101.52" lengthAdjust="spacingAndGlyphs">Effector memory CD8</text>
<text x="528.72" y="317.08" font-size="6.138000000000001" text-anchor="start" fill="#2f2d2e" textLength="4.08" lengthAdjust="spacingAndGlyphs">+</text>
<line x1="432.00" y1="331.70" x2="432.00" y2="426.60" stroke="#6d6e71" stroke-width="0.8"/>
<line x1="432.00" y1="426.60" x2="527.50" y2="426.60" stroke="#6d6e71" stroke-width="0.8"/>
<line x1="428.60" y1="331.70" x2="432.00" y2="331.70" stroke="#6d6e71" stroke-width="0.8"/>
<text x="423.80" y="334.75" font-size="8.7" text-anchor="end" fill="#2f2d2e" textLength="16.70" lengthAdjust="spacingAndGlyphs">600</text>
<line x1="428.60" y1="363.30" x2="432.00" y2="363.30" stroke="#6d6e71" stroke-width="0.8"/>
<text x="423.80" y="366.35" font-size="8.7" text-anchor="end" fill="#2f2d2e" textLength="16.70" lengthAdjust="spacingAndGlyphs">400</text>
<line x1="428.60" y1="395.00" x2="432.00" y2="395.00" stroke="#6d6e71" stroke-width="0.8"/>
<text x="423.80" y="398.05" font-size="8.7" text-anchor="end" fill="#2f2d2e" textLength="16.70" lengthAdjust="spacingAndGlyphs">200</text>
<line x1="428.60" y1="426.60" x2="432.00" y2="426.60" stroke="#6d6e71" stroke-width="0.8"/>
<text x="423.80" y="429.65" font-size="8.7" text-anchor="end" fill="#2f2d2e" textLength="5.57" lengthAdjust="spacingAndGlyphs">0</text>
<line x1="442.10" y1="426.60" x2="442.10" y2="430.40" stroke="#6d6e71" stroke-width="0.8"/>
<line x1="457.20" y1="426.60" x2="457.20" y2="430.40" stroke="#6d6e71" stroke-width="0.8"/>
<line x1="472.50" y1="426.60" x2="472.50" y2="430.40" stroke="#6d6e71" stroke-width="0.8"/>
<line x1="487.40" y1="426.60" x2="487.40" y2="430.40" stroke="#6d6e71" stroke-width="0.8"/>
<line x1="502.30" y1="426.60" x2="502.30" y2="430.40" stroke="#6d6e71" stroke-width="0.8"/>
<line x1="517.40" y1="426.60" x2="517.40" y2="430.40" stroke="#6d6e71" stroke-width="0.8"/>
<rect x="440.65" y="413.55" width="2.90" height="2.90" fill="#7f2a84"/>
<rect x="440.65" y="416.35" width="2.90" height="2.90" fill="#7f2a84"/>
<line x1="438.60" y1="416.50" x2="445.60" y2="416.50" stroke="#231f20" stroke-width="0.9"/>
<line x1="457.20" y1="391.50" x2="457.20" y2="426.60" stroke="#231f20" stroke-width="0.8"/>
<line x1="454.80" y1="391.50" x2="459.60" y2="391.50" stroke="#231f20" stroke-width="0.8"/>
<line x1="454.80" y1="426.60" x2="459.60" y2="426.60" stroke="#231f20" stroke-width="0.8"/>
<polygon points="457.20,363.95 458.95,365.70 457.20,367.45 455.45,365.70" fill="#231f20"/>
<polygon points="457.20,398.95 458.95,400.70 457.20,402.45 455.45,400.70" fill="#231f20"/>
<polygon points="454.60,405.25 456.35,407.00 454.60,408.75 452.85,407.00" fill="#231f20"/>
<polygon points="459.80,406.75 461.55,408.50 459.80,410.25 458.05,408.50" fill="#231f20"/>
<polygon points="461.75,411.25 463.50,413.00 461.75,414.75 460.00,413.00" fill="#231f20"/>
<polygon points="455.90,416.25 457.65,418.00 455.90,419.75 454.15,418.00" fill="#231f20"/>
<polygon points="458.50,418.25 460.25,420.00 458.50,421.75 456.75,420.00" fill="#231f20"/>
<polygon points="453.30,421.95 455.05,423.70 453.30,425.45 451.55,423.70" fill="#231f20"/>
<line x1="452.20" y1="409.00" x2="462.20" y2="409.00" stroke="#231f20" stroke-width="0.9"/>
<line x1="472.50" y1="383.20" x2="472.50" y2="418.00" stroke="#231f20" stroke-width="0.8"/>
<line x1="470.10" y1="383.20" x2="474.90" y2="383.20" stroke="#231f20" stroke-width="0.8"/>
<line x1="470.10" y1="418.00" x2="474.90" y2="418.00" stroke="#231f20" stroke-width="0.8"/>
<polygon points="470.80,343.86 474.20,343.86 472.50,347.00" fill="#3c8dd1"/>
<polygon points="470.80,371.95 474.20,371.95 472.50,375.10" fill="#3c8dd1"/>
<polygon points="470.80,377.36 474.20,377.36 472.50,380.50" fill="#3c8dd1"/>
<polygon points="470.80,382.56 474.20,382.56 472.50,385.70" fill="#3c8dd1"/>
<polygon points="470.80,386.56 474.20,386.56 472.50,389.70" fill="#3c8dd1"/>
<polygon points="470.80,395.32 474.20,395.32 472.50,398.47" fill="#3c8dd1"/>
<polygon points="474.10,389.94 477.50,389.94 475.80,393.09" fill="#3c8dd1"/>
<polygon points="469.15,392.54 472.55,392.54 470.85,395.69" fill="#3c8dd1"/>
<polygon points="472.45,399.52 475.85,399.52 474.15,402.66" fill="#3c8dd1"/>
<polygon points="470.80,389.56 474.20,389.56 472.50,392.70" fill="#3c8dd1"/>
<polygon points="470.80,414.75 474.20,414.75 472.50,417.90" fill="#3c8dd1"/>
<polygon points="475.75,399.62 479.15,399.62 477.45,402.76" fill="#3c8dd1"/>
<polygon points="469.15,404.26 472.55,404.26 470.85,407.41" fill="#3c8dd1"/>
<polygon points="465.85,400.19 469.25,400.19 467.55,403.34" fill="#3c8dd1"/>
<polygon points="472.45,405.79 475.85,405.79 474.15,408.93" fill="#3c8dd1"/>
<polygon points="469.15,398.06 472.55,398.06 470.85,401.21" fill="#3c8dd1"/>
<polygon points="475.80,405.27 479.20,405.27 477.50,408.41" fill="#3c8dd1"/>
<polygon points="475.80,405.23 479.20,405.23 477.50,408.37" fill="#3c8dd1"/>
<polygon points="465.85,404.30 469.25,404.30 467.55,407.45" fill="#3c8dd1"/>
<polygon points="474.10,397.28 477.50,397.28 475.80,400.42" fill="#3c8dd1"/>
<polygon points="475.75,408.68 479.15,408.68 477.45,411.82" fill="#3c8dd1"/>
<polygon points="469.15,401.33 472.55,401.33 470.85,404.47" fill="#3c8dd1"/>
<polygon points="472.45,403.02 475.85,403.02 474.15,406.17" fill="#3c8dd1"/>
<polygon points="475.75,403.03 479.15,403.03 477.45,406.18" fill="#3c8dd1"/>
<polygon points="472.45,408.62 475.85,408.62 474.15,411.77" fill="#3c8dd1"/>
<polygon points="472.45,392.16 475.85,392.16 474.15,395.31" fill="#3c8dd1"/>
<polygon points="469.15,407.63 472.55,407.63 470.85,410.77" fill="#3c8dd1"/>
<line x1="467.50" y1="400.30" x2="477.50" y2="400.30" stroke="#231f20" stroke-width="0.9"/>
<line x1="487.40" y1="412.30" x2="487.40" y2="424.00" stroke="#231f20" stroke-width="0.8"/>
<line x1="485.00" y1="412.30" x2="489.80" y2="412.30" stroke="#231f20" stroke-width="0.8"/>
<line x1="485.00" y1="424.00" x2="489.80" y2="424.00" stroke="#231f20" stroke-width="0.8"/>
<circle cx="487.40" cy="408.80" r="1.6" fill="#ec2227"/>
<circle cx="487.40" cy="415.00" r="1.6" fill="#ec2227"/>
<circle cx="484.40" cy="420.50" r="1.6" fill="#ec2227"/>
<circle cx="490.40" cy="421.00" r="1.6" fill="#ec2227"/>
<circle cx="484.40" cy="423.70" r="1.6" fill="#ec2227"/>
<line x1="482.40" y1="418.20" x2="492.40" y2="418.20" stroke="#231f20" stroke-width="0.9"/>
<line x1="502.30" y1="413.40" x2="502.30" y2="419.30" stroke="#231f20" stroke-width="0.8"/>
<line x1="499.90" y1="413.40" x2="504.70" y2="413.40" stroke="#231f20" stroke-width="0.8"/>
<line x1="499.90" y1="419.30" x2="504.70" y2="419.30" stroke="#231f20" stroke-width="0.8"/>
<circle cx="502.30" cy="414.40" r="1.6" fill="#f58d2a"/>
<circle cx="502.30" cy="418.20" r="1.6" fill="#f58d2a"/>
<line x1="497.30" y1="416.50" x2="507.30" y2="416.50" stroke="#231f20" stroke-width="0.9"/>
<circle cx="517.40" cy="386.50" r="1.6" fill="#bcbec0"/>
<circle cx="517.40" cy="393.50" r="1.6" fill="#bcbec0"/>
<circle cx="517.40" cy="416.00" r="1.6" fill="#bcbec0"/>
<line x1="512.40" y1="398.50" x2="522.40" y2="398.50" stroke="#231f20" stroke-width="0.9"/>
<polyline points="457.20,343.40 457.20,337.70 486.30,337.70 486.30,343.40" fill="none" stroke="#8a8a8a" stroke-width="0.8"/>
<text x="472.80" y="334.30" font-size="8.8" text-anchor="middle" fill="#2f2d2e" textLength="11.40" lengthAdjust="spacingAndGlyphs">NS</text>
<polyline points="472.80,359.10 472.80,353.20 502.30,353.20 502.30,359.10" fill="none" stroke="#8a8a8a" stroke-width="0.8"/>
<text x="488.50" y="351.20" font-size="8.8" text-anchor="middle" fill="#2f2d2e" textLength="11.40" lengthAdjust="spacingAndGlyphs">NS</text>
<text x="581.00" y="321.00" font-size="9.3" text-anchor="start" fill="#2f2d2e" textLength="55.84" lengthAdjust="spacingAndGlyphs">TEMRA CD8</text>
<text x="636.84" y="317.28" font-size="6.138000000000001" text-anchor="start" fill="#2f2d2e" textLength="3.76" lengthAdjust="spacingAndGlyphs">+</text>
<line x1="563.10" y1="331.10" x2="563.10" y2="426.10" stroke="#6d6e71" stroke-width="0.8"/>
<line x1="563.10" y1="426.10" x2="658.10" y2="426.10" stroke="#6d6e71" stroke-width="0.8"/>
<line x1="559.70" y1="331.10" x2="563.10" y2="331.10" stroke="#6d6e71" stroke-width="0.8"/>
<text x="554.90" y="334.15" font-size="8.7" text-anchor="end" fill="#2f2d2e" textLength="16.70" lengthAdjust="spacingAndGlyphs">600</text>
<line x1="559.70" y1="362.80" x2="563.10" y2="362.80" stroke="#6d6e71" stroke-width="0.8"/>
<text x="554.90" y="365.85" font-size="8.7" text-anchor="end" fill="#2f2d2e" textLength="16.70" lengthAdjust="spacingAndGlyphs">400</text>
<line x1="559.70" y1="394.40" x2="563.10" y2="394.40" stroke="#6d6e71" stroke-width="0.8"/>
<text x="554.90" y="397.45" font-size="8.7" text-anchor="end" fill="#2f2d2e" textLength="16.70" lengthAdjust="spacingAndGlyphs">200</text>
<line x1="559.70" y1="426.10" x2="563.10" y2="426.10" stroke="#6d6e71" stroke-width="0.8"/>
<text x="554.90" y="429.15" font-size="8.7" text-anchor="end" fill="#2f2d2e" textLength="5.57" lengthAdjust="spacingAndGlyphs">0</text>
<line x1="573.40" y1="426.10" x2="573.40" y2="429.90" stroke="#6d6e71" stroke-width="0.8"/>
<line x1="588.10" y1="426.10" x2="588.10" y2="429.90" stroke="#6d6e71" stroke-width="0.8"/>
<line x1="603.30" y1="426.10" x2="603.30" y2="429.90" stroke="#6d6e71" stroke-width="0.8"/>
<line x1="618.00" y1="426.10" x2="618.00" y2="429.90" stroke="#6d6e71" stroke-width="0.8"/>
<line x1="633.20" y1="426.10" x2="633.20" y2="429.90" stroke="#6d6e71" stroke-width="0.8"/>
<line x1="648.10" y1="426.10" x2="648.10" y2="429.90" stroke="#6d6e71" stroke-width="0.8"/>
<line x1="573.40" y1="405.10" x2="573.40" y2="425.50" stroke="#231f20" stroke-width="0.8"/>
<line x1="571.00" y1="405.10" x2="575.80" y2="405.10" stroke="#231f20" stroke-width="0.8"/>
<line x1="571.00" y1="425.50" x2="575.80" y2="425.50" stroke="#231f20" stroke-width="0.8"/>
<rect x="571.95" y="406.45" width="2.90" height="2.90" fill="#7f2a84"/>
<rect x="571.95" y="420.45" width="2.90" height="2.90" fill="#7f2a84"/>
<line x1="568.40" y1="415.20" x2="578.40" y2="415.20" stroke="#231f20" stroke-width="0.9"/>
<line x1="588.10" y1="376.40" x2="588.10" y2="417.30" stroke="#231f20" stroke-width="0.8"/>
<line x1="585.70" y1="376.40" x2="590.50" y2="376.40" stroke="#231f20" stroke-width="0.8"/>
<line x1="585.70" y1="417.30" x2="590.50" y2="417.30" stroke="#231f20" stroke-width="0.8"/>
<polygon points="588.10,346.85 589.85,348.60 588.10,350.35 586.35,348.60" fill="#231f20"/>
<polygon points="588.10,386.75 589.85,388.50 588.10,390.25 586.35,388.50" fill="#231f20"/>
<polygon points="585.50,388.25 587.25,390.00 585.50,391.75 583.75,390.00" fill="#231f20"/>
<polygon points="590.70,393.25 592.45,395.00 590.70,396.75 588.95,395.00" fill="#231f20"/>
<polygon points="583.55,409.25 585.30,411.00 583.55,412.75 581.80,411.00" fill="#231f20"/>
<polygon points="592.65,411.95 594.40,413.70 592.65,415.45 590.90,413.70" fill="#231f20"/>
<polygon points="584.85,414.55 586.60,416.30 584.85,418.05 583.10,416.30" fill="#231f20"/>
<line x1="583.10" y1="396.50" x2="593.10" y2="396.50" stroke="#231f20" stroke-width="0.9"/>
<line x1="603.30" y1="395.80" x2="603.30" y2="426.00" stroke="#231f20" stroke-width="0.8"/>
<line x1="600.90" y1="395.80" x2="605.70" y2="395.80" stroke="#231f20" stroke-width="0.8"/>
<line x1="600.90" y1="426.00" x2="605.70" y2="426.00" stroke="#231f20" stroke-width="0.8"/>
<polygon points="601.60,354.16 605.00,354.16 603.30,357.30" fill="#3c8dd1"/>
<polygon points="601.60,374.45 605.00,374.45 603.30,377.60" fill="#3c8dd1"/>
<polygon points="601.60,389.16 605.00,389.16 603.30,392.30" fill="#3c8dd1"/>
<polygon points="601.60,394.36 605.00,394.36 603.30,397.50" fill="#3c8dd1"/>
<polygon points="601.60,417.62 605.00,417.62 603.30,420.77" fill="#3c8dd1"/>
<polygon points="601.60,421.11 605.00,421.11 603.30,424.26" fill="#3c8dd1"/>
<polygon points="606.60,407.65 610.00,407.65 608.30,410.79" fill="#3c8dd1"/>
<polygon points="598.30,406.99 601.70,406.99 600.00,410.13" fill="#3c8dd1"/>
<polygon points="596.60,415.00 600.00,415.00 598.30,418.14" fill="#3c8dd1"/>
<polygon points="599.95,423.82 603.35,423.82 601.65,426.97" fill="#3c8dd1"/>
<polygon points="606.60,415.33 610.00,415.33 608.30,418.47" fill="#3c8dd1"/>
<polygon points="601.60,405.27 605.00,405.27 603.30,408.42" fill="#3c8dd1"/>
<polygon points="596.60,407.79 600.00,407.79 598.30,410.93" fill="#3c8dd1"/>
<polygon points="606.60,412.40 610.00,412.40 608.30,415.55" fill="#3c8dd1"/>
<polygon points="604.90,418.81 608.30,418.81 606.60,421.96" fill="#3c8dd1"/>
<polygon points="596.60,412.68 600.00,412.68 598.30,415.83" fill="#3c8dd1"/>
<polygon points="601.60,410.44 605.00,410.44 603.30,413.58" fill="#3c8dd1"/>
<polygon points="604.90,411.30 608.30,411.30 606.60,414.44" fill="#3c8dd1"/>
<polygon points="601.60,413.84 605.00,413.84 603.30,416.98" fill="#3c8dd1"/>
<polygon points="606.60,408.01 610.00,408.01 608.30,411.15" fill="#3c8dd1"/>
<polygon points="606.60,412.76 610.00,412.76 608.30,415.91" fill="#3c8dd1"/>
<polygon points="606.60,414.46 610.00,414.46 608.30,417.60" fill="#3c8dd1"/>
<polygon points="604.90,423.20 608.30,423.20 606.60,426.35" fill="#3c8dd1"/>
<polygon points="598.30,412.39 601.70,412.39 600.00,415.54" fill="#3c8dd1"/>
<polygon points="598.30,418.91 601.70,418.91 600.00,422.06" fill="#3c8dd1"/>
<polygon points="604.90,406.20 608.30,406.20 606.60,409.34" fill="#3c8dd1"/>
<line x1="598.30" y1="411.40" x2="608.30" y2="411.40" stroke="#231f20" stroke-width="0.9"/>
<line x1="618.00" y1="402.00" x2="618.00" y2="426.00" stroke="#231f20" stroke-width="0.8"/>
<line x1="615.60" y1="402.00" x2="620.40" y2="402.00" stroke="#231f20" stroke-width="0.8"/>
<line x1="615.60" y1="426.00" x2="620.40" y2="426.00" stroke="#231f20" stroke-width="0.8"/>
<circle cx="618.00" cy="395.30" r="1.6" fill="#ec2227"/>
<circle cx="615.00" cy="412.00" r="1.6" fill="#ec2227"/>
<circle cx="618.00" cy="413.00" r="1.6" fill="#ec2227"/>
<circle cx="621.00" cy="412.50" r="1.6" fill="#ec2227"/>
<circle cx="618.00" cy="421.90" r="1.6" fill="#ec2227"/>
<line x1="613.00" y1="412.10" x2="623.00" y2="412.10" stroke="#231f20" stroke-width="0.9"/>
<line x1="633.20" y1="405.60" x2="633.20" y2="426.00" stroke="#231f20" stroke-width="0.8"/>
<line x1="630.80" y1="405.60" x2="635.60" y2="405.60" stroke="#231f20" stroke-width="0.8"/>
<line x1="630.80" y1="426.00" x2="635.60" y2="426.00" stroke="#231f20" stroke-width="0.8"/>
<circle cx="633.20" cy="408.60" r="1.6" fill="#f58d2a"/>
<circle cx="633.20" cy="425.70" r="1.6" fill="#f58d2a"/>
<line x1="628.20" y1="417.30" x2="638.20" y2="417.30" stroke="#231f20" stroke-width="0.9"/>
<circle cx="646.10" cy="422.80" r="1.1199999999999999" fill="#bcbec0"/>
<circle cx="650.10" cy="423.20" r="1.1199999999999999" fill="#bcbec0"/>
<line x1="645.10" y1="423.00" x2="651.10" y2="423.00" stroke="#231f20" stroke-width="0.9"/>
<polyline points="587.40,344.40 587.40,338.50 616.80,338.50 616.80,344.40" fill="none" stroke="#8a8a8a" stroke-width="0.8"/>
<text x="602.80" y="334.70" font-size="8.8" text-anchor="middle" fill="#2f2d2e" textLength="11.40" lengthAdjust="spacingAndGlyphs">NS</text>
<polyline points="603.30,368.90 603.30,362.60 632.90,362.60 632.90,368.90" fill="none" stroke="#8a8a8a" stroke-width="0.8"/>
<text x="618.40" y="360.00" font-size="8.8" text-anchor="middle" fill="#2f2d2e" textLength="11.40" lengthAdjust="spacingAndGlyphs">NS</text>
<text x="78.80" y="444.20" font-size="9.3" text-anchor="start" fill="#2f2d2e" textLength="6.39" lengthAdjust="spacingAndGlyphs">T</text>
<text x="85.19" y="446.25" font-size="6.138000000000001" text-anchor="start" fill="#2f2d2e" textLength="9.20" lengthAdjust="spacingAndGlyphs">FH</text>
<text x="97.29" y="444.20" font-size="9.3" text-anchor="start" fill="#2f2d2e" textLength="20.91" lengthAdjust="spacingAndGlyphs">cells</text>
<line x1="50.80" y1="467.70" x2="50.80" y2="562.00" stroke="#6d6e71" stroke-width="0.8"/>
<line x1="50.80" y1="562.00" x2="145.60" y2="562.00" stroke="#6d6e71" stroke-width="0.8"/>
<line x1="47.40" y1="467.70" x2="50.80" y2="467.70" stroke="#6d6e71" stroke-width="0.8"/>
<text x="42.60" y="470.75" font-size="8.7" text-anchor="end" fill="#2f2d2e" textLength="16.70" lengthAdjust="spacingAndGlyphs">300</text>
<line x1="47.40" y1="499.10" x2="50.80" y2="499.10" stroke="#6d6e71" stroke-width="0.8"/>
<text x="42.60" y="502.15" font-size="8.7" text-anchor="end" fill="#2f2d2e" textLength="16.70" lengthAdjust="spacingAndGlyphs">200</text>
<line x1="47.40" y1="530.60" x2="50.80" y2="530.60" stroke="#6d6e71" stroke-width="0.8"/>
<text x="42.60" y="533.65" font-size="8.7" text-anchor="end" fill="#2f2d2e" textLength="14.79" lengthAdjust="spacingAndGlyphs">100</text>
<line x1="47.40" y1="562.00" x2="50.80" y2="562.00" stroke="#6d6e71" stroke-width="0.8"/>
<text x="42.60" y="565.05" font-size="8.7" text-anchor="end" fill="#2f2d2e" textLength="5.57" lengthAdjust="spacingAndGlyphs">0</text>
<line x1="60.90" y1="562.00" x2="60.90" y2="565.80" stroke="#6d6e71" stroke-width="0.8"/>
<line x1="75.50" y1="562.00" x2="75.50" y2="565.80" stroke="#6d6e71" stroke-width="0.8"/>
<line x1="90.40" y1="562.00" x2="90.40" y2="565.80" stroke="#6d6e71" stroke-width="0.8"/>
<line x1="105.50" y1="562.00" x2="105.50" y2="565.80" stroke="#6d6e71" stroke-width="0.8"/>
<line x1="120.40" y1="562.00" x2="120.40" y2="565.80" stroke="#6d6e71" stroke-width="0.8"/>
<line x1="135.30" y1="562.00" x2="135.30" y2="565.80" stroke="#6d6e71" stroke-width="0.8"/>
<line x1="60.90" y1="514.30" x2="60.90" y2="529.20" stroke="#231f20" stroke-width="0.8"/>
<line x1="58.50" y1="514.30" x2="63.30" y2="514.30" stroke="#231f20" stroke-width="0.8"/>
<line x1="58.50" y1="529.20" x2="63.30" y2="529.20" stroke="#231f20" stroke-width="0.8"/>
<rect x="59.45" y="514.55" width="2.90" height="2.90" fill="#7f2a84"/>
<rect x="59.45" y="525.95" width="2.90" height="2.90" fill="#7f2a84"/>
<line x1="55.90" y1="522.00" x2="65.90" y2="522.00" stroke="#231f20" stroke-width="0.9"/>
<line x1="75.50" y1="526.30" x2="75.50" y2="538.40" stroke="#231f20" stroke-width="0.8"/>
<line x1="73.10" y1="526.30" x2="77.90" y2="526.30" stroke="#231f20" stroke-width="0.8"/>
<line x1="73.10" y1="538.40" x2="77.90" y2="538.40" stroke="#231f20" stroke-width="0.8"/>
<polygon points="71.60,524.55 73.35,526.30 71.60,528.05 69.85,526.30" fill="#231f20"/>
<polygon points="75.50,525.25 77.25,527.00 75.50,528.75 73.75,527.00" fill="#231f20"/>
<polygon points="79.40,526.25 81.15,528.00 79.40,529.75 77.65,528.00" fill="#231f20"/>
<polygon points="72.90,529.25 74.65,531.00 72.90,532.75 71.15,531.00" fill="#231f20"/>
<polygon points="78.10,531.25 79.85,533.00 78.10,534.75 76.35,533.00" fill="#231f20"/>
<polygon points="70.95,534.25 72.70,536.00 70.95,537.75 69.20,536.00" fill="#231f20"/>
<polygon points="75.50,536.25 77.25,538.00 75.50,539.75 73.75,538.00" fill="#231f20"/>
<polygon points="79.40,537.75 81.15,539.50 79.40,541.25 77.65,539.50" fill="#231f20"/>
<polygon points="74.20,538.85 75.95,540.60 74.20,542.35 72.45,540.60" fill="#231f20"/>
<line x1="70.50" y1="532.30" x2="80.50" y2="532.30" stroke="#231f20" stroke-width="0.9"/>
<line x1="90.40" y1="514.90" x2="90.40" y2="531.80" stroke="#231f20" stroke-width="0.8"/>
<line x1="88.00" y1="514.90" x2="92.80" y2="514.90" stroke="#231f20" stroke-width="0.8"/>
<line x1="88.00" y1="531.80" x2="92.80" y2="531.80" stroke="#231f20" stroke-width="0.8"/>
<polygon points="88.70,498.16 92.10,498.16 90.40,501.30" fill="#3c8dd1"/>
<polygon points="88.70,501.06 92.10,501.06 90.40,504.20" fill="#3c8dd1"/>
<polygon points="88.70,504.56 92.10,504.56 90.40,507.70" fill="#3c8dd1"/>
<polygon points="88.70,540.55 92.10,540.55 90.40,543.70" fill="#3c8dd1"/>
<polygon points="93.65,513.14 97.05,513.14 95.35,516.28" fill="#3c8dd1"/>
<polygon points="83.70,525.33 87.10,525.33 85.40,528.47" fill="#3c8dd1"/>
<polygon points="88.70,520.33 92.10,520.33 90.40,523.48" fill="#3c8dd1"/>
<polygon points="88.70,515.08 92.10,515.08 90.40,518.23" fill="#3c8dd1"/>
<polygon points="87.05,517.68 90.45,517.68 88.75,520.82" fill="#3c8dd1"/>
<polygon points="83.75,518.14 87.15,518.14 85.45,521.29" fill="#3c8dd1"/>
<polygon points="83.70,521.71 87.10,521.71 85.40,524.86" fill="#3c8dd1"/>
<polygon points="93.70,525.84 97.10,525.84 95.40,528.99" fill="#3c8dd1"/>
<polygon points="88.70,531.17 92.10,531.17 90.40,534.31" fill="#3c8dd1"/>
<polygon points="92.00,524.25 95.40,524.25 93.70,527.39" fill="#3c8dd1"/>
<polygon points="92.00,531.77 95.40,531.77 93.70,534.91" fill="#3c8dd1"/>
<polygon points="88.70,526.11 92.10,526.11 90.40,529.26" fill="#3c8dd1"/>
<polygon points="88.70,523.11 92.10,523.11 90.40,526.26" fill="#3c8dd1"/>
<polygon points="92.00,520.34 95.40,520.34 93.70,523.49" fill="#3c8dd1"/>
<polygon points="83.75,513.94 87.15,513.94 85.45,517.09" fill="#3c8dd1"/>
<polygon points="88.70,508.76 92.10,508.76 90.40,511.91" fill="#3c8dd1"/>
<polygon points="93.70,521.46 97.10,521.46 95.40,524.60" fill="#3c8dd1"/>
<polygon points="85.40,520.70 88.80,520.70 87.10,523.85" fill="#3c8dd1"/>
<polygon points="85.40,524.82 88.80,524.82 87.10,527.97" fill="#3c8dd1"/>
<polygon points="93.70,524.90 97.10,524.90 95.40,528.04" fill="#3c8dd1"/>
<polygon points="90.35,511.46 93.75,511.46 92.05,514.61" fill="#3c8dd1"/>
<polygon points="92.00,516.08 95.40,516.08 93.70,519.23" fill="#3c8dd1"/>
<polygon points="87.05,512.64 90.45,512.64 88.75,515.79" fill="#3c8dd1"/>
<line x1="85.40" y1="523.00" x2="95.40" y2="523.00" stroke="#231f20" stroke-width="0.9"/>
<line x1="105.50" y1="487.40" x2="105.50" y2="530.30" stroke="#231f20" stroke-width="0.8"/>
<line x1="103.10" y1="487.40" x2="107.90" y2="487.40" stroke="#231f20" stroke-width="0.8"/>
<line x1="103.10" y1="530.30" x2="107.90" y2="530.30" stroke="#231f20" stroke-width="0.8"/>
<circle cx="102.30" cy="491.30" r="1.6" fill="#ec2227"/>
<circle cx="109.20" cy="493.50" r="1.6" fill="#ec2227"/>
<circle cx="105.50" cy="495.70" r="1.6" fill="#ec2227"/>
<circle cx="105.50" cy="522.00" r="1.6" fill="#ec2227"/>
<circle cx="105.50" cy="540.10" r="1.6" fill="#ec2227"/>
<line x1="100.50" y1="508.40" x2="110.50" y2="508.40" stroke="#231f20" stroke-width="0.9"/>
<line x1="120.40" y1="527.40" x2="120.40" y2="537.30" stroke="#231f20" stroke-width="0.8"/>
<line x1="118.00" y1="527.40" x2="122.80" y2="527.40" stroke="#231f20" stroke-width="0.8"/>
<line x1="118.00" y1="537.30" x2="122.80" y2="537.30" stroke="#231f20" stroke-width="0.8"/>
<circle cx="120.40" cy="528.50" r="1.6" fill="#f58d2a"/>
<circle cx="120.40" cy="535.80" r="1.6" fill="#f58d2a"/>
<line x1="115.40" y1="532.30" x2="125.40" y2="532.30" stroke="#231f20" stroke-width="0.9"/>
<circle cx="135.30" cy="531.50" r="1.6" fill="#bcbec0"/>
<circle cx="135.30" cy="538.40" r="1.6" fill="#bcbec0"/>
<line x1="130.30" y1="535.10" x2="140.30" y2="535.10" stroke="#231f20" stroke-width="0.9"/>
<polyline points="75.10,474.90 75.10,468.80 104.00,468.80 104.00,474.90" fill="none" stroke="#8a8a8a" stroke-width="0.8"/>
<text x="90.20" y="464.70" font-size="8.8" text-anchor="middle" fill="#2f2d2e" textLength="11.40" lengthAdjust="spacingAndGlyphs">NS</text>
<polyline points="90.40,490.20 90.40,484.10 120.40,484.10 120.40,490.20" fill="none" stroke="#8a8a8a" stroke-width="0.8"/>
<text x="106.20" y="481.60" font-size="8.8" text-anchor="middle" fill="#2f2d2e" textLength="11.40" lengthAdjust="spacingAndGlyphs">NS</text>
<text x="184.70" y="447.30" font-size="9.3" text-anchor="start" fill="#2f2d2e" textLength="85.00" lengthAdjust="spacingAndGlyphs">Regulatory T cells</text>
<line x1="180.40" y1="467.70" x2="180.40" y2="562.00" stroke="#6d6e71" stroke-width="0.8"/>
<line x1="180.40" y1="562.00" x2="274.50" y2="562.00" stroke="#6d6e71" stroke-width="0.8"/>
<line x1="177.00" y1="467.70" x2="180.40" y2="467.70" stroke="#6d6e71" stroke-width="0.8"/>
<text x="172.20" y="470.75" font-size="8.7" text-anchor="end" fill="#2f2d2e" textLength="16.70" lengthAdjust="spacingAndGlyphs">250</text>
<line x1="177.00" y1="486.60" x2="180.40" y2="486.60" stroke="#6d6e71" stroke-width="0.8"/>
<text x="172.20" y="489.65" font-size="8.7" text-anchor="end" fill="#2f2d2e" textLength="16.70" lengthAdjust="spacingAndGlyphs">200</text>
<line x1="177.00" y1="505.40" x2="180.40" y2="505.40" stroke="#6d6e71" stroke-width="0.8"/>
<text x="172.20" y="508.45" font-size="8.7" text-anchor="end" fill="#2f2d2e" textLength="14.79" lengthAdjust="spacingAndGlyphs">150</text>
<line x1="177.00" y1="524.30" x2="180.40" y2="524.30" stroke="#6d6e71" stroke-width="0.8"/>
<text x="172.20" y="527.35" font-size="8.7" text-anchor="end" fill="#2f2d2e" textLength="14.79" lengthAdjust="spacingAndGlyphs">100</text>
<line x1="177.00" y1="543.10" x2="180.40" y2="543.10" stroke="#6d6e71" stroke-width="0.8"/>
<text x="172.20" y="546.15" font-size="8.7" text-anchor="end" fill="#2f2d2e" textLength="11.14" lengthAdjust="spacingAndGlyphs">50</text>
<line x1="177.00" y1="562.00" x2="180.40" y2="562.00" stroke="#6d6e71" stroke-width="0.8"/>
<text x="172.20" y="565.05" font-size="8.7" text-anchor="end" fill="#2f2d2e" textLength="5.57" lengthAdjust="spacingAndGlyphs">0</text>
<line x1="190.20" y1="562.00" x2="190.20" y2="565.80" stroke="#6d6e71" stroke-width="0.8"/>
<line x1="205.10" y1="562.00" x2="205.10" y2="565.80" stroke="#6d6e71" stroke-width="0.8"/>
<line x1="219.80" y1="562.00" x2="219.80" y2="565.80" stroke="#6d6e71" stroke-width="0.8"/>
<line x1="234.70" y1="562.00" x2="234.70" y2="565.80" stroke="#6d6e71" stroke-width="0.8"/>
<line x1="249.80" y1="562.00" x2="249.80" y2="565.80" stroke="#6d6e71" stroke-width="0.8"/>
<line x1="264.70" y1="562.00" x2="264.70" y2="565.80" stroke="#6d6e71" stroke-width="0.8"/>
<rect x="188.75" y="476.75" width="2.90" height="2.90" fill="#7f2a84"/>
<rect x="188.75" y="481.15" width="2.90" height="2.90" fill="#7f2a84"/>
<line x1="186.70" y1="480.40" x2="193.70" y2="480.40" stroke="#231f20" stroke-width="0.9"/>
<line x1="205.10" y1="510.60" x2="205.10" y2="541.70" stroke="#231f20" stroke-width="0.8"/>
<line x1="202.70" y1="510.60" x2="207.50" y2="510.60" stroke="#231f20" stroke-width="0.8"/>
<line x1="202.70" y1="541.70" x2="207.50" y2="541.70" stroke="#231f20" stroke-width="0.8"/>
<polygon points="205.10,502.05 206.85,503.80 205.10,505.55 203.35,503.80" fill="#231f20"/>
<polygon points="205.10,514.25 206.85,516.00 205.10,517.75 203.35,516.00" fill="#231f20"/>
<polygon points="201.85,517.75 203.60,519.50 201.85,521.25 200.10,519.50" fill="#231f20"/>
<polygon points="208.35,519.25 210.10,521.00 208.35,522.75 206.60,521.00" fill="#231f20"/>
<polygon points="205.10,524.25 206.85,526.00 205.10,527.75 203.35,526.00" fill="#231f20"/>
<polygon points="202.50,527.25 204.25,529.00 202.50,530.75 200.75,529.00" fill="#231f20"/>
<polygon points="207.05,530.05 208.80,531.80 207.05,533.55 205.30,531.80" fill="#231f20"/>
<polygon points="205.10,558.85 206.85,560.60 205.10,562.35 203.35,560.60" fill="#231f20"/>
<line x1="200.10" y1="526.30" x2="210.10" y2="526.30" stroke="#231f20" stroke-width="0.9"/>
<line x1="219.80" y1="522.40" x2="219.80" y2="550.00" stroke="#231f20" stroke-width="0.8"/>
<line x1="217.40" y1="522.40" x2="222.20" y2="522.40" stroke="#231f20" stroke-width="0.8"/>
<line x1="217.40" y1="550.00" x2="222.20" y2="550.00" stroke="#231f20" stroke-width="0.8"/>
<polygon points="218.10,497.56 221.50,497.56 219.80,500.70" fill="#3c8dd1"/>
<polygon points="218.10,510.06 221.50,510.06 219.80,513.20" fill="#3c8dd1"/>
<polygon points="218.10,514.05 221.50,514.05 219.80,517.20" fill="#3c8dd1"/>
<polygon points="218.10,520.01 221.50,520.01 219.80,523.15" fill="#3c8dd1"/>
<polygon points="218.10,550.73 221.50,550.73 219.80,553.87" fill="#3c8dd1"/>
<polygon points="221.40,539.21 224.80,539.21 223.10,542.35" fill="#3c8dd1"/>
<polygon points="221.40,530.07 224.80,530.07 223.10,533.21" fill="#3c8dd1"/>
<polygon points="223.05,544.91 226.45,544.91 224.75,548.06" fill="#3c8dd1"/>
<polygon points="223.05,525.80 226.45,525.80 224.75,528.95" fill="#3c8dd1"/>
<polygon points="221.40,556.55 224.80,556.55 223.10,559.70" fill="#3c8dd1"/>
<polygon points="213.15,541.74 216.55,541.74 214.85,544.88" fill="#3c8dd1"/>
<polygon points="218.10,535.27 221.50,535.27 219.80,538.41" fill="#3c8dd1"/>
<polygon points="219.75,543.67 223.15,543.67 221.45,546.81" fill="#3c8dd1"/>
<polygon points="216.45,524.31 219.85,524.31 218.15,527.45" fill="#3c8dd1"/>
<polygon points="223.10,541.37 226.50,541.37 224.80,544.51" fill="#3c8dd1"/>
<polygon points="223.10,545.83 226.50,545.83 224.80,548.97" fill="#3c8dd1"/>
<polygon points="213.15,545.75 216.55,545.75 214.85,548.89" fill="#3c8dd1"/>
<polygon points="218.10,541.18 221.50,541.18 219.80,544.32" fill="#3c8dd1"/>
<polygon points="219.75,525.66 223.15,525.66 221.45,528.80" fill="#3c8dd1"/>
<polygon points="214.80,539.22 218.20,539.22 216.50,542.37" fill="#3c8dd1"/>
<polygon points="219.75,522.77 223.15,522.77 221.45,525.91" fill="#3c8dd1"/>
<polygon points="218.10,538.27 221.50,538.27 219.80,541.42" fill="#3c8dd1"/>
<polygon points="214.80,530.20 218.20,530.20 216.50,533.35" fill="#3c8dd1"/>
<polygon points="218.10,528.81 221.50,528.81 219.80,531.95" fill="#3c8dd1"/>
<polygon points="216.45,543.85 219.85,543.85 218.15,547.00" fill="#3c8dd1"/>
<polygon points="218.10,555.84 221.50,555.84 219.80,558.99" fill="#3c8dd1"/>
<polygon points="221.40,551.08 224.80,551.08 223.10,554.23" fill="#3c8dd1"/>
<line x1="214.80" y1="535.80" x2="224.80" y2="535.80" stroke="#231f20" stroke-width="0.9"/>
<line x1="234.70" y1="516.90" x2="234.70" y2="548.20" stroke="#231f20" stroke-width="0.8"/>
<line x1="232.30" y1="516.90" x2="237.10" y2="516.90" stroke="#231f20" stroke-width="0.8"/>
<line x1="232.30" y1="548.20" x2="237.10" y2="548.20" stroke="#231f20" stroke-width="0.8"/>
<circle cx="231.00" cy="519.30" r="1.6" fill="#ec2227"/>
<circle cx="238.60" cy="519.30" r="1.6" fill="#ec2227"/>
<circle cx="234.70" cy="524.60" r="1.6" fill="#ec2227"/>
<circle cx="231.70" cy="549.30" r="1.6" fill="#ec2227"/>
<circle cx="238.60" cy="549.30" r="1.6" fill="#ec2227"/>
<line x1="229.70" y1="532.30" x2="239.70" y2="532.30" stroke="#231f20" stroke-width="0.9"/>
<line x1="249.80" y1="534.70" x2="249.80" y2="562.00" stroke="#231f20" stroke-width="0.8"/>
<line x1="247.40" y1="534.70" x2="252.20" y2="534.70" stroke="#231f20" stroke-width="0.8"/>
<line x1="247.40" y1="562.00" x2="252.20" y2="562.00" stroke="#231f20" stroke-width="0.8"/>
<circle cx="249.80" cy="538.80" r="1.6" fill="#f58d2a"/>
<circle cx="249.80" cy="559.20" r="1.6" fill="#f58d2a"/>
<line x1="244.80" y1="549.30" x2="254.80" y2="549.30" stroke="#231f20" stroke-width="0.9"/>
<circle cx="264.70" cy="543.20" r="1.6" fill="#bcbec0"/>
<circle cx="264.70" cy="557.40" r="1.6" fill="#bcbec0"/>
<line x1="259.70" y1="550.40" x2="269.70" y2="550.40" stroke="#231f20" stroke-width="0.9"/>
<polyline points="203.40,479.90 203.40,473.80 232.90,473.80 232.90,479.90" fill="none" stroke="#8a8a8a" stroke-width="0.8"/>
<text x="218.70" y="470.20" font-size="8.8" text-anchor="middle" fill="#2f2d2e" textLength="11.40" lengthAdjust="spacingAndGlyphs">NS</text>
<polyline points="219.30,495.30 219.30,489.60 249.30,489.60 249.30,495.30" fill="none" stroke="#8a8a8a" stroke-width="0.8"/>
<text x="234.70" y="487.10" font-size="8.8" text-anchor="middle" fill="#2f2d2e" textLength="11.40" lengthAdjust="spacingAndGlyphs">NS</text>
<text x="331.80" y="447.10" font-size="9.3" text-anchor="start" fill="#2f2d2e" textLength="43.80" lengthAdjust="spacingAndGlyphs">γδ T cells</text>
<line x1="307.00" y1="467.90" x2="307.00" y2="562.00" stroke="#6d6e71" stroke-width="0.8"/>
<line x1="307.00" y1="562.00" x2="401.90" y2="562.00" stroke="#6d6e71" stroke-width="0.8"/>
<line x1="303.60" y1="467.90" x2="307.00" y2="467.90" stroke="#6d6e71" stroke-width="0.8"/>
<text x="298.80" y="470.95" font-size="8.7" text-anchor="end" fill="#2f2d2e" textLength="16.70" lengthAdjust="spacingAndGlyphs">400</text>
<line x1="303.60" y1="491.40" x2="307.00" y2="491.40" stroke="#6d6e71" stroke-width="0.8"/>
<text x="298.80" y="494.45" font-size="8.7" text-anchor="end" fill="#2f2d2e" textLength="16.70" lengthAdjust="spacingAndGlyphs">300</text>
<line x1="303.60" y1="514.90" x2="307.00" y2="514.90" stroke="#6d6e71" stroke-width="0.8"/>
<text x="298.80" y="517.95" font-size="8.7" text-anchor="end" fill="#2f2d2e" textLength="16.70" lengthAdjust="spacingAndGlyphs">200</text>
<line x1="303.60" y1="538.50" x2="307.00" y2="538.50" stroke="#6d6e71" stroke-width="0.8"/>
<text x="298.80" y="541.55" font-size="8.7" text-anchor="end" fill="#2f2d2e" textLength="14.79" lengthAdjust="spacingAndGlyphs">100</text>
<line x1="303.60" y1="562.00" x2="307.00" y2="562.00" stroke="#6d6e71" stroke-width="0.8"/>
<text x="298.80" y="565.05" font-size="8.7" text-anchor="end" fill="#2f2d2e" textLength="5.57" lengthAdjust="spacingAndGlyphs">0</text>
<line x1="317.60" y1="562.00" x2="317.60" y2="565.80" stroke="#6d6e71" stroke-width="0.8"/>
<line x1="332.40" y1="562.00" x2="332.40" y2="565.80" stroke="#6d6e71" stroke-width="0.8"/>
<line x1="347.50" y1="562.00" x2="347.50" y2="565.80" stroke="#6d6e71" stroke-width="0.8"/>
<line x1="362.00" y1="562.00" x2="362.00" y2="565.80" stroke="#6d6e71" stroke-width="0.8"/>
<line x1="377.10" y1="562.00" x2="377.10" y2="565.80" stroke="#6d6e71" stroke-width="0.8"/>
<line x1="392.00" y1="562.00" x2="392.00" y2="565.80" stroke="#6d6e71" stroke-width="0.8"/>
<line x1="317.60" y1="509.30" x2="317.60" y2="536.20" stroke="#231f20" stroke-width="0.8"/>
<line x1="315.20" y1="509.30" x2="320.00" y2="509.30" stroke="#231f20" stroke-width="0.8"/>
<line x1="315.20" y1="536.20" x2="320.00" y2="536.20" stroke="#231f20" stroke-width="0.8"/>
<rect x="316.15" y="511.75" width="2.90" height="2.90" fill="#7f2a84"/>
<rect x="316.15" y="531.05" width="2.90" height="2.90" fill="#7f2a84"/>
<line x1="312.60" y1="522.60" x2="322.60" y2="522.60" stroke="#231f20" stroke-width="0.9"/>
<line x1="332.40" y1="505.10" x2="332.40" y2="530.10" stroke="#231f20" stroke-width="0.8"/>
<line x1="330.00" y1="505.10" x2="334.80" y2="505.10" stroke="#231f20" stroke-width="0.8"/>
<line x1="330.00" y1="530.10" x2="334.80" y2="530.10" stroke="#231f20" stroke-width="0.8"/>
<polygon points="332.40,491.75 334.15,493.50 332.40,495.25 330.65,493.50" fill="#231f20"/>
<polygon points="332.40,498.25 334.15,500.00 332.40,501.75 330.65,500.00" fill="#231f20"/>
<polygon points="329.15,514.25 330.90,516.00 329.15,517.75 327.40,516.00" fill="#231f20"/>
<polygon points="335.65,515.25 337.40,517.00 335.65,518.75 333.90,517.00" fill="#231f20"/>
<polygon points="332.40,518.25 334.15,520.00 332.40,521.75 330.65,520.00" fill="#231f20"/>
<polygon points="328.50,522.25 330.25,524.00 328.50,525.75 326.75,524.00" fill="#231f20"/>
<polygon points="332.40,524.75 334.15,526.50 332.40,528.25 330.65,526.50" fill="#231f20"/>
<polygon points="336.30,525.65 338.05,527.40 336.30,529.15 334.55,527.40" fill="#231f20"/>
<line x1="327.40" y1="517.60" x2="337.40" y2="517.60" stroke="#231f20" stroke-width="0.9"/>
<line x1="347.50" y1="526.30" x2="347.50" y2="560.00" stroke="#231f20" stroke-width="0.8"/>
<line x1="345.10" y1="526.30" x2="349.90" y2="526.30" stroke="#231f20" stroke-width="0.8"/>
<line x1="345.10" y1="560.00" x2="349.90" y2="560.00" stroke="#231f20" stroke-width="0.8"/>
<polygon points="344.80,502.56 348.20,502.56 346.50,505.70" fill="#3c8dd1"/>
<polygon points="347.30,502.86 350.70,502.86 349.00,506.00" fill="#3c8dd1"/>
<polygon points="345.80,510.66 349.20,510.66 347.50,513.80" fill="#3c8dd1"/>
<polygon points="345.80,527.55 349.20,527.55 347.50,530.70" fill="#3c8dd1"/>
<polygon points="345.80,531.55 349.20,531.55 347.50,534.70" fill="#3c8dd1"/>
<polygon points="345.80,538.54 349.20,538.54 347.50,541.68" fill="#3c8dd1"/>
<polygon points="342.50,536.44 345.90,536.44 344.20,539.58" fill="#3c8dd1"/>
<polygon points="347.45,548.70 350.85,548.70 349.15,551.84" fill="#3c8dd1"/>
<polygon points="350.80,543.41 354.20,543.41 352.50,546.55" fill="#3c8dd1"/>
<polygon points="345.80,555.67 349.20,555.67 347.50,558.81" fill="#3c8dd1"/>
<polygon points="344.15,549.39 347.55,549.39 345.85,552.54" fill="#3c8dd1"/>
<polygon points="340.85,541.43 344.25,541.43 342.55,544.57" fill="#3c8dd1"/>
<polygon points="350.75,549.99 354.15,549.99 352.45,553.14" fill="#3c8dd1"/>
<polygon points="345.80,546.19 349.20,546.19 347.50,549.34" fill="#3c8dd1"/>
<polygon points="344.15,540.76 347.55,540.76 345.85,543.90" fill="#3c8dd1"/>
<polygon points="350.80,550.93 354.20,550.93 352.50,554.07" fill="#3c8dd1"/>
<polygon points="349.10,540.49 352.50,540.49 350.80,543.64" fill="#3c8dd1"/>
<polygon points="349.10,557.65 352.50,557.65 350.80,560.80" fill="#3c8dd1"/>
<polygon points="350.80,550.85 354.20,550.85 352.50,554.00" fill="#3c8dd1"/>
<polygon points="350.80,542.19 354.20,542.19 352.50,545.34" fill="#3c8dd1"/>
<polygon points="345.80,543.39 349.20,543.39 347.50,546.53" fill="#3c8dd1"/>
<polygon points="340.85,550.48 344.25,550.48 342.55,553.63" fill="#3c8dd1"/>
<polygon points="345.80,535.03 349.20,535.03 347.50,538.17" fill="#3c8dd1"/>
<polygon points="342.50,543.97 345.90,543.97 344.20,547.11" fill="#3c8dd1"/>
<polygon points="349.10,535.06 352.50,535.06 350.80,538.20" fill="#3c8dd1"/>
<polygon points="350.80,545.57 354.20,545.57 352.50,548.71" fill="#3c8dd1"/>
<polygon points="340.80,544.51 344.20,544.51 342.50,547.65" fill="#3c8dd1"/>
<line x1="342.50" y1="542.80" x2="352.50" y2="542.80" stroke="#231f20" stroke-width="0.9"/>
<line x1="362.00" y1="502.30" x2="362.00" y2="546.00" stroke="#231f20" stroke-width="0.8"/>
<line x1="359.60" y1="502.30" x2="364.40" y2="502.30" stroke="#231f20" stroke-width="0.8"/>
<line x1="359.60" y1="546.00" x2="364.40" y2="546.00" stroke="#231f20" stroke-width="0.8"/>
<circle cx="362.00" cy="490.70" r="1.6" fill="#ec2227"/>
<circle cx="362.00" cy="514.30" r="1.6" fill="#ec2227"/>
<circle cx="362.00" cy="534.70" r="1.6" fill="#ec2227"/>
<circle cx="358.50" cy="540.60" r="1.6" fill="#ec2227"/>
<circle cx="365.50" cy="540.60" r="1.6" fill="#ec2227"/>
<line x1="357.00" y1="524.20" x2="367.00" y2="524.20" stroke="#231f20" stroke-width="0.9"/>
<line x1="377.10" y1="533.40" x2="377.10" y2="562.00" stroke="#231f20" stroke-width="0.8"/>
<line x1="374.70" y1="533.40" x2="379.50" y2="533.40" stroke="#231f20" stroke-width="0.8"/>
<line x1="374.70" y1="562.00" x2="379.50" y2="562.00" stroke="#231f20" stroke-width="0.8"/>
<circle cx="377.10" cy="537.70" r="1.6" fill="#f58d2a"/>
<circle cx="377.10" cy="558.50" r="1.6" fill="#f58d2a"/>
<line x1="372.10" y1="548.20" x2="382.10" y2="548.20" stroke="#231f20" stroke-width="0.9"/>
<circle cx="392.00" cy="525.90" r="1.6" fill="#bcbec0"/>
<circle cx="392.00" cy="535.80" r="1.6" fill="#bcbec0"/>
<circle cx="392.00" cy="549.30" r="1.6" fill="#bcbec0"/>
<line x1="387.00" y1="537.30" x2="397.00" y2="537.30" stroke="#231f20" stroke-width="0.9"/>
<polyline points="331.80,476.00 331.80,469.40 360.20,469.40 360.20,476.00" fill="none" stroke="#8a8a8a" stroke-width="0.8"/>
<text x="346.70" y="465.80" font-size="8.8" text-anchor="middle" fill="#2f2d2e" textLength="11.40" lengthAdjust="spacingAndGlyphs">NS</text>
<line x1="347.50" y1="485.80" x2="347.50" y2="490.20" stroke="#8a8a8a" stroke-width="0.8"/>
<line x1="377.10" y1="485.80" x2="377.10" y2="490.20" stroke="#8a8a8a" stroke-width="0.8"/>
<text x="362.40" y="482.90" font-size="8.8" text-anchor="middle" fill="#2f2d2e" textLength="11.40" lengthAdjust="spacingAndGlyphs">NS</text>
<text x="459.60" y="447.50" font-size="9.3" text-anchor="start" fill="#2f2d2e" textLength="48.60" lengthAdjust="spacingAndGlyphs">MAIT cells</text>
<line x1="436.40" y1="467.90" x2="436.40" y2="562.00" stroke="#6d6e71" stroke-width="0.8"/>
<line x1="436.40" y1="562.00" x2="530.10" y2="562.00" stroke="#6d6e71" stroke-width="0.8"/>
<line x1="433.00" y1="467.90" x2="436.40" y2="467.90" stroke="#6d6e71" stroke-width="0.8"/>
<text x="428.20" y="470.95" font-size="8.7" text-anchor="end" fill="#2f2d2e" textLength="16.70" lengthAdjust="spacingAndGlyphs">250</text>
<line x1="433.00" y1="486.70" x2="436.40" y2="486.70" stroke="#6d6e71" stroke-width="0.8"/>
<text x="428.20" y="489.75" font-size="8.7" text-anchor="end" fill="#2f2d2e" textLength="16.70" lengthAdjust="spacingAndGlyphs">200</text>
<line x1="433.00" y1="505.50" x2="436.40" y2="505.50" stroke="#6d6e71" stroke-width="0.8"/>
<text x="428.20" y="508.55" font-size="8.7" text-anchor="end" fill="#2f2d2e" textLength="14.79" lengthAdjust="spacingAndGlyphs">150</text>
<line x1="433.00" y1="524.30" x2="436.40" y2="524.30" stroke="#6d6e71" stroke-width="0.8"/>
<text x="428.20" y="527.35" font-size="8.7" text-anchor="end" fill="#2f2d2e" textLength="14.79" lengthAdjust="spacingAndGlyphs">100</text>
<line x1="433.00" y1="543.10" x2="436.40" y2="543.10" stroke="#6d6e71" stroke-width="0.8"/>
<text x="428.20" y="546.15" font-size="8.7" text-anchor="end" fill="#2f2d2e" textLength="11.14" lengthAdjust="spacingAndGlyphs">50</text>
<line x1="433.00" y1="562.00" x2="436.40" y2="562.00" stroke="#6d6e71" stroke-width="0.8"/>
<text x="428.20" y="565.05" font-size="8.7" text-anchor="end" fill="#2f2d2e" textLength="5.57" lengthAdjust="spacingAndGlyphs">0</text>
<line x1="446.50" y1="562.00" x2="446.50" y2="565.80" stroke="#6d6e71" stroke-width="0.8"/>
<line x1="461.20" y1="562.00" x2="461.20" y2="565.80" stroke="#6d6e71" stroke-width="0.8"/>
<line x1="476.50" y1="562.00" x2="476.50" y2="565.80" stroke="#6d6e71" stroke-width="0.8"/>
<line x1="491.20" y1="562.00" x2="491.20" y2="565.80" stroke="#6d6e71" stroke-width="0.8"/>
<line x1="506.00" y1="562.00" x2="506.00" y2="565.80" stroke="#6d6e71" stroke-width="0.8"/>
<line x1="520.90" y1="562.00" x2="520.90" y2="565.80" stroke="#6d6e71" stroke-width="0.8"/>
<line x1="446.50" y1="548.20" x2="446.50" y2="562.00" stroke="#231f20" stroke-width="0.8"/>
<line x1="444.10" y1="548.20" x2="448.90" y2="548.20" stroke="#231f20" stroke-width="0.8"/>
<line x1="444.10" y1="562.00" x2="448.90" y2="562.00" stroke="#231f20" stroke-width="0.8"/>
<rect x="445.05" y="548.55" width="2.90" height="2.90" fill="#7f2a84"/>
<rect x="445.05" y="558.85" width="2.90" height="2.90" fill="#7f2a84"/>
<line x1="441.50" y1="555.20" x2="451.50" y2="555.20" stroke="#231f20" stroke-width="0.9"/>
<line x1="461.20" y1="524.60" x2="461.20" y2="551.10" stroke="#231f20" stroke-width="0.8"/>
<line x1="458.80" y1="524.60" x2="463.60" y2="524.60" stroke="#231f20" stroke-width="0.8"/>
<line x1="458.80" y1="551.10" x2="463.60" y2="551.10" stroke="#231f20" stroke-width="0.8"/>
<polygon points="461.20,512.55 462.95,514.30 461.20,516.05 459.45,514.30" fill="#231f20"/>
<polygon points="461.20,520.25 462.95,522.00 461.20,523.75 459.45,522.00" fill="#231f20"/>
<polygon points="458.60,525.75 460.35,527.50 458.60,529.25 456.85,527.50" fill="#231f20"/>
<polygon points="465.10,529.75 466.85,531.50 465.10,533.25 463.35,531.50" fill="#231f20"/>
<polygon points="457.95,536.25 459.70,538.00 457.95,539.75 456.20,538.00" fill="#231f20"/>
<polygon points="464.45,541.25 466.20,543.00 464.45,544.75 462.70,543.00" fill="#231f20"/>
<polygon points="461.20,546.25 462.95,548.00 461.20,549.75 459.45,548.00" fill="#231f20"/>
<polygon points="461.20,551.95 462.95,553.70 461.20,555.45 459.45,553.70" fill="#231f20"/>
<line x1="456.20" y1="538.00" x2="466.20" y2="538.00" stroke="#231f20" stroke-width="0.9"/>
<line x1="476.50" y1="537.30" x2="476.50" y2="555.00" stroke="#231f20" stroke-width="0.8"/>
<line x1="474.10" y1="537.30" x2="478.90" y2="537.30" stroke="#231f20" stroke-width="0.8"/>
<line x1="474.10" y1="555.00" x2="478.90" y2="555.00" stroke="#231f20" stroke-width="0.8"/>
<polygon points="474.80,524.85 478.20,524.85 476.50,528.00" fill="#3c8dd1"/>
<polygon points="478.10,526.05 481.50,526.05 479.80,529.20" fill="#3c8dd1"/>
<polygon points="473.15,527.55 476.55,527.55 474.85,530.70" fill="#3c8dd1"/>
<polygon points="471.50,538.18 474.90,538.18 473.20,541.32" fill="#3c8dd1"/>
<polygon points="474.80,542.57 478.20,542.57 476.50,545.71" fill="#3c8dd1"/>
<polygon points="476.45,547.91 479.85,547.91 478.15,551.06" fill="#3c8dd1"/>
<polygon points="474.80,539.60 478.20,539.60 476.50,542.75" fill="#3c8dd1"/>
<polygon points="478.10,537.91 481.50,537.91 479.80,541.06" fill="#3c8dd1"/>
<polygon points="479.80,544.12 483.20,544.12 481.50,547.27" fill="#3c8dd1"/>
<polygon points="474.80,530.55 478.20,530.55 476.50,533.70" fill="#3c8dd1"/>
<polygon points="474.80,554.47 478.20,554.47 476.50,557.61" fill="#3c8dd1"/>
<polygon points="474.80,550.81 478.20,550.81 476.50,553.95" fill="#3c8dd1"/>
<polygon points="479.75,549.33 483.15,549.33 481.45,552.47" fill="#3c8dd1"/>
<polygon points="474.80,545.61 478.20,545.61 476.50,548.76" fill="#3c8dd1"/>
<polygon points="469.80,551.20 473.20,551.20 471.50,554.34" fill="#3c8dd1"/>
<polygon points="471.50,551.03 474.90,551.03 473.20,554.18" fill="#3c8dd1"/>
<polygon points="469.80,544.50 473.20,544.50 471.50,547.65" fill="#3c8dd1"/>
<polygon points="479.80,538.66 483.20,538.66 481.50,541.81" fill="#3c8dd1"/>
<polygon points="469.80,539.82 473.20,539.82 471.50,542.96" fill="#3c8dd1"/>
<polygon points="471.50,543.59 474.90,543.59 473.20,546.73" fill="#3c8dd1"/>
<polygon points="474.80,536.72 478.20,536.72 476.50,539.87" fill="#3c8dd1"/>
<polygon points="473.15,548.26 476.55,548.26 474.85,551.41" fill="#3c8dd1"/>
<polygon points="479.80,551.34 483.20,551.34 481.50,554.49" fill="#3c8dd1"/>
<polygon points="474.80,533.78 478.20,533.78 476.50,536.93" fill="#3c8dd1"/>
<polygon points="479.80,551.58 483.20,551.58 481.50,554.72" fill="#3c8dd1"/>
<polygon points="479.80,540.13 483.20,540.13 481.50,543.27" fill="#3c8dd1"/>
<polygon points="478.10,542.72 481.50,542.72 479.80,545.86" fill="#3c8dd1"/>
<line x1="471.50" y1="546.00" x2="481.50" y2="546.00" stroke="#231f20" stroke-width="0.9"/>
<line x1="491.20" y1="553.30" x2="491.20" y2="562.00" stroke="#231f20" stroke-width="0.8"/>
<line x1="488.80" y1="553.30" x2="493.60" y2="553.30" stroke="#231f20" stroke-width="0.8"/>
<line x1="488.80" y1="562.00" x2="493.60" y2="562.00" stroke="#231f20" stroke-width="0.8"/>
<circle cx="488.20" cy="553.30" r="1.6" fill="#ec2227"/>
<circle cx="494.20" cy="553.30" r="1.6" fill="#ec2227"/>
<circle cx="488.70" cy="556.60" r="1.6" fill="#ec2227"/>
<circle cx="493.70" cy="556.60" r="1.6" fill="#ec2227"/>
<circle cx="491.20" cy="560.00" r="1.6" fill="#ec2227"/>
<line x1="486.20" y1="555.90" x2="496.20" y2="555.90" stroke="#231f20" stroke-width="0.9"/>
<circle cx="502.40" cy="548.20" r="1.6" fill="#f58d2a"/>
<circle cx="509.60" cy="548.20" r="1.6" fill="#f58d2a"/>
<line x1="502.40" y1="548.20" x2="509.60" y2="548.20" stroke="#231f20" stroke-width="0.9"/>
<circle cx="520.90" cy="485.40" r="1.6" fill="#bcbec0"/>
<circle cx="520.90" cy="526.30" r="1.6" fill="#bcbec0"/>
<circle cx="520.90" cy="550.40" r="1.6" fill="#bcbec0"/>
<line x1="515.90" y1="520.40" x2="525.90" y2="520.40" stroke="#231f20" stroke-width="0.9"/>
<polyline points="461.20,502.30 461.20,496.30 490.70,496.30 490.70,502.30" fill="none" stroke="#8a8a8a" stroke-width="0.8"/>
<line x1="474.00" y1="489.10" x2="474.00" y2="493.90" stroke="#231f20" stroke-width="0.9"/>
<line x1="471.92" y1="490.30" x2="476.08" y2="492.70" stroke="#231f20" stroke-width="0.9"/>
<line x1="471.92" y1="492.70" x2="476.08" y2="490.30" stroke="#231f20" stroke-width="0.9"/>
<line x1="479.00" y1="489.10" x2="479.00" y2="493.90" stroke="#231f20" stroke-width="0.9"/>
<line x1="476.92" y1="490.30" x2="481.08" y2="492.70" stroke="#231f20" stroke-width="0.9"/>
<line x1="476.92" y1="492.70" x2="481.08" y2="490.30" stroke="#231f20" stroke-width="0.9"/>
<polyline points="477.60,522.00 477.60,516.90 506.50,516.90 506.50,522.00" fill="none" stroke="#8a8a8a" stroke-width="0.8"/>
<text x="492.50" y="514.00" font-size="8.8" text-anchor="middle" fill="#2f2d2e" textLength="11.40" lengthAdjust="spacingAndGlyphs">NS</text>
<text x="567.50" y="446.80" font-size="9.3" text-anchor="start" fill="#2f2d2e" textLength="20.60" lengthAdjust="spacingAndGlyphs">CD4</text>
<text x="588.10" y="443.08" font-size="6.138000000000001" text-anchor="start" fill="#2f2d2e" textLength="3.97" lengthAdjust="spacingAndGlyphs">−</text>
<text x="592.07" y="446.80" font-size="9.3" text-anchor="start" fill="#2f2d2e" textLength="20.60" lengthAdjust="spacingAndGlyphs">CD8</text>
<text x="612.67" y="443.08" font-size="6.138000000000001" text-anchor="start" fill="#2f2d2e" textLength="3.97" lengthAdjust="spacingAndGlyphs">−</text>
<text x="619.50" y="446.80" font-size="9.3" text-anchor="start" fill="#2f2d2e" textLength="43.30" lengthAdjust="spacingAndGlyphs">γδ T cells</text>
<line x1="568.20" y1="467.80" x2="568.20" y2="562.40" stroke="#6d6e71" stroke-width="0.8"/>
<line x1="568.20" y1="562.40" x2="662.30" y2="562.40" stroke="#6d6e71" stroke-width="0.8"/>
<line x1="564.80" y1="467.80" x2="568.20" y2="467.80" stroke="#6d6e71" stroke-width="0.8"/>
<text x="560.00" y="470.85" font-size="8.7" text-anchor="end" fill="#2f2d2e" textLength="16.70" lengthAdjust="spacingAndGlyphs">300</text>
<line x1="564.80" y1="499.30" x2="568.20" y2="499.30" stroke="#6d6e71" stroke-width="0.8"/>
<text x="560.00" y="502.35" font-size="8.7" text-anchor="end" fill="#2f2d2e" textLength="16.70" lengthAdjust="spacingAndGlyphs">200</text>
<line x1="564.80" y1="530.90" x2="568.20" y2="530.90" stroke="#6d6e71" stroke-width="0.8"/>
<text x="560.00" y="533.95" font-size="8.7" text-anchor="end" fill="#2f2d2e" textLength="14.79" lengthAdjust="spacingAndGlyphs">100</text>
<line x1="564.80" y1="562.40" x2="568.20" y2="562.40" stroke="#6d6e71" stroke-width="0.8"/>
<text x="560.00" y="565.45" font-size="8.7" text-anchor="end" fill="#2f2d2e" textLength="5.57" lengthAdjust="spacingAndGlyphs">0</text>
<line x1="578.30" y1="562.40" x2="578.30" y2="566.20" stroke="#6d6e71" stroke-width="0.8"/>
<line x1="592.70" y1="562.40" x2="592.70" y2="566.20" stroke="#6d6e71" stroke-width="0.8"/>
<line x1="607.90" y1="562.40" x2="607.90" y2="566.20" stroke="#6d6e71" stroke-width="0.8"/>
<line x1="622.60" y1="562.40" x2="622.60" y2="566.20" stroke="#6d6e71" stroke-width="0.8"/>
<line x1="637.80" y1="562.40" x2="637.80" y2="566.20" stroke="#6d6e71" stroke-width="0.8"/>
<line x1="652.80" y1="562.40" x2="652.80" y2="566.20" stroke="#6d6e71" stroke-width="0.8"/>
<line x1="578.30" y1="543.30" x2="578.30" y2="550.50" stroke="#231f20" stroke-width="0.8"/>
<line x1="575.90" y1="543.30" x2="580.70" y2="543.30" stroke="#231f20" stroke-width="0.8"/>
<line x1="575.90" y1="550.50" x2="580.70" y2="550.50" stroke="#231f20" stroke-width="0.8"/>
<rect x="576.85" y="542.55" width="2.90" height="2.90" fill="#7f2a84"/>
<rect x="576.85" y="548.35" width="2.90" height="2.90" fill="#7f2a84"/>
<line x1="573.30" y1="546.80" x2="583.30" y2="546.80" stroke="#231f20" stroke-width="0.9"/>
<polygon points="588.80,545.05 590.55,546.80 588.80,548.55 587.05,546.80" fill="#231f20"/>
<polygon points="592.70,545.75 594.45,547.50 592.70,549.25 590.95,547.50" fill="#231f20"/>
<polygon points="596.60,546.25 598.35,548.00 596.60,549.75 594.85,548.00" fill="#231f20"/>
<polygon points="590.10,548.75 591.85,550.50 590.10,552.25 588.35,550.50" fill="#231f20"/>
<polygon points="595.30,549.25 597.05,551.00 595.30,552.75 593.55,551.00" fill="#231f20"/>
<polygon points="592.70,551.75 594.45,553.50 592.70,555.25 590.95,553.50" fill="#231f20"/>
<polygon points="590.10,553.25 591.85,555.00 590.10,556.75 588.35,555.00" fill="#231f20"/>
<polygon points="595.30,555.55 597.05,557.30 595.30,559.05 593.55,557.30" fill="#231f20"/>
<line x1="587.70" y1="551.00" x2="597.70" y2="551.00" stroke="#231f20" stroke-width="0.9"/>
<polygon points="606.20,548.85 609.60,548.85 607.90,552.00" fill="#3c8dd1"/>
<polygon points="611.20,558.15 614.60,558.15 612.90,561.30" fill="#3c8dd1"/>
<polygon points="606.20,557.14 609.60,557.14 607.90,560.28" fill="#3c8dd1"/>
<polygon points="607.85,554.39 611.25,554.39 609.55,557.53" fill="#3c8dd1"/>
<polygon points="611.20,559.18 614.60,559.18 612.90,562.33" fill="#3c8dd1"/>
<polygon points="611.20,557.76 614.60,557.76 612.90,560.91" fill="#3c8dd1"/>
<polygon points="611.20,557.90 614.60,557.90 612.90,561.04" fill="#3c8dd1"/>
<polygon points="611.20,557.49 614.60,557.49 612.90,560.63" fill="#3c8dd1"/>
<polygon points="611.20,560.55 614.60,560.55 612.90,563.70" fill="#3c8dd1"/>
<polygon points="611.20,559.28 614.60,559.28 612.90,562.42" fill="#3c8dd1"/>
<polygon points="606.20,560.01 609.60,560.01 607.90,563.15" fill="#3c8dd1"/>
<polygon points="611.20,556.42 614.60,556.42 612.90,559.56" fill="#3c8dd1"/>
<polygon points="602.90,556.02 606.30,556.02 604.60,559.16" fill="#3c8dd1"/>
<polygon points="611.15,554.66 614.55,554.66 612.85,557.81" fill="#3c8dd1"/>
<polygon points="611.20,556.51 614.60,556.51 612.90,559.66" fill="#3c8dd1"/>
<polygon points="607.85,551.55 611.25,551.55 609.55,554.70" fill="#3c8dd1"/>
<polygon points="611.20,560.55 614.60,560.55 612.90,563.70" fill="#3c8dd1"/>
<polygon points="611.20,557.44 614.60,557.44 612.90,560.58" fill="#3c8dd1"/>
<polygon points="611.20,557.31 614.60,557.31 612.90,560.45" fill="#3c8dd1"/>
<polygon points="611.20,559.18 614.60,559.18 612.90,562.32" fill="#3c8dd1"/>
<polygon points="601.20,556.21 604.60,556.21 602.90,559.36" fill="#3c8dd1"/>
<polygon points="611.20,557.70 614.60,557.70 612.90,560.84" fill="#3c8dd1"/>
<polygon points="611.20,558.97 614.60,558.97 612.90,562.11" fill="#3c8dd1"/>
<polygon points="604.55,553.35 607.95,553.35 606.25,556.50" fill="#3c8dd1"/>
<polygon points="611.20,560.55 614.60,560.55 612.90,563.70" fill="#3c8dd1"/>
<polygon points="611.20,557.44 614.60,557.44 612.90,560.59" fill="#3c8dd1"/>
<polygon points="601.20,558.58 604.60,558.58 602.90,561.72" fill="#3c8dd1"/>
<line x1="602.90" y1="558.50" x2="612.90" y2="558.50" stroke="#231f20" stroke-width="0.9"/>
<line x1="622.60" y1="507.10" x2="622.60" y2="562.00" stroke="#231f20" stroke-width="0.8"/>
<line x1="620.20" y1="507.10" x2="625.00" y2="507.10" stroke="#231f20" stroke-width="0.8"/>
<line x1="620.20" y1="562.00" x2="625.00" y2="562.00" stroke="#231f20" stroke-width="0.8"/>
<circle cx="622.60" cy="486.80" r="1.6" fill="#ec2227"/>
<circle cx="619.10" cy="541.70" r="1.6" fill="#ec2227"/>
<circle cx="626.10" cy="541.70" r="1.6" fill="#ec2227"/>
<circle cx="626.10" cy="544.90" r="1.6" fill="#ec2227"/>
<circle cx="622.60" cy="551.90" r="1.6" fill="#ec2227"/>
<line x1="617.60" y1="534.00" x2="627.60" y2="534.00" stroke="#231f20" stroke-width="0.9"/>
<circle cx="634.20" cy="559.20" r="1.6" fill="#f58d2a"/>
<circle cx="641.40" cy="559.20" r="1.6" fill="#f58d2a"/>
<line x1="634.20" y1="559.20" x2="641.40" y2="559.20" stroke="#231f20" stroke-width="0.9"/>
<circle cx="650.80" cy="548.70" r="1.6" fill="#bcbec0"/>
<circle cx="652.80" cy="556.10" r="1.6" fill="#bcbec0"/>
<line x1="647.80" y1="551.50" x2="657.80" y2="551.50" stroke="#231f20" stroke-width="0.9"/>
<polyline points="592.70,473.70 592.70,467.40 621.50,467.40 621.50,473.70" fill="none" stroke="#8a8a8a" stroke-width="0.8"/>
<text x="607.50" y="464.30" font-size="8.8" text-anchor="middle" fill="#2f2d2e" textLength="11.40" lengthAdjust="spacingAndGlyphs">NS</text>
<polyline points="608.40,489.60 608.40,483.70 637.80,483.70 637.80,489.60" fill="none" stroke="#8a8a8a" stroke-width="0.8"/>
<text x="623.60" y="481.10" font-size="8.8" text-anchor="middle" fill="#2f2d2e" textLength="11.40" lengthAdjust="spacingAndGlyphs">NS</text>
<text x="0.00" y="590.80" font-size="14" text-anchor="start" fill="#000" font-weight="bold">d</text>
<text x="44.70" y="592.50" font-size="9.6" text-anchor="start" fill="#2f2d2e" textLength="125.56" lengthAdjust="spacingAndGlyphs">Anti-CD2/CD3/CD28 (µl ml</text>
<text x="170.26" y="588.66" font-size="6.336" text-anchor="start" fill="#2f2d2e" textLength="7.93" lengthAdjust="spacingAndGlyphs">−1</text>
<text x="178.19" y="592.50" font-size="9.6" text-anchor="start" fill="#2f2d2e" textLength="3.51" lengthAdjust="spacingAndGlyphs">)</text>
<rect x="49.00" y="599.20" width="8.60" height="8.40" fill="#e8262b" stroke="#58595b" stroke-width="0.5"/>
<text x="63.10" y="606.80" font-size="8.2" text-anchor="start" fill="#2f2d2e" textLength="10.49" lengthAdjust="spacingAndGlyphs">25</text>
<rect x="49.00" y="614.40" width="8.60" height="8.40" fill="#ea5a5d" stroke="#58595b" stroke-width="0.5"/>
<text x="63.10" y="622.00" font-size="8.2" text-anchor="start" fill="#2f2d2e" textLength="18.35" lengthAdjust="spacingAndGlyphs">12.5</text>
<rect x="96.20" y="599.20" width="8.60" height="8.40" fill="#ec8486" stroke="#58595b" stroke-width="0.5"/>
<text x="110.30" y="606.80" font-size="8.2" text-anchor="start" fill="#2f2d2e" textLength="18.35" lengthAdjust="spacingAndGlyphs">6.25</text>
<rect x="96.20" y="614.40" width="8.60" height="8.40" fill="#f3a8aa" stroke="#58595b" stroke-width="0.5"/>
<text x="110.30" y="622.00" font-size="8.2" text-anchor="start" fill="#2f2d2e" textLength="23.60" lengthAdjust="spacingAndGlyphs">3.125</text>
<rect x="149.00" y="599.00" width="8.60" height="8.40" fill="#8d8e90" stroke="#58595b" stroke-width="0.5"/>
<text x="163.10" y="606.60" font-size="8.2" text-anchor="start" fill="#2f2d2e" textLength="13.10" lengthAdjust="spacingAndGlyphs">NS</text>
<line x1="46.60" y1="618.10" x2="46.60" y2="724.30" stroke="#6d6e71" stroke-width="0.8"/>
<line x1="46.60" y1="724.30" x2="179.00" y2="724.30" stroke="#6d6e71" stroke-width="0.8"/>
<line x1="43.20" y1="724.30" x2="46.60" y2="724.30" stroke="#6d6e71" stroke-width="0.8"/>
<text x="37.80" y="727.20" font-size="8.3" text-anchor="end" fill="#2f2d2e" textLength="5.31" lengthAdjust="spacingAndGlyphs">0</text>
<line x1="43.20" y1="688.97" x2="46.60" y2="688.97" stroke="#6d6e71" stroke-width="0.8"/>
<text x="37.80" y="691.87" font-size="8.3" text-anchor="end" fill="#2f2d2e" textLength="10.62" lengthAdjust="spacingAndGlyphs">20</text>
<line x1="43.20" y1="653.63" x2="46.60" y2="653.63" stroke="#6d6e71" stroke-width="0.8"/>
<text x="37.80" y="656.53" font-size="8.3" text-anchor="end" fill="#2f2d2e" textLength="10.62" lengthAdjust="spacingAndGlyphs">40</text>
<line x1="43.20" y1="618.30" x2="46.60" y2="618.30" stroke="#6d6e71" stroke-width="0.8"/>
<text x="37.80" y="621.20" font-size="8.3" text-anchor="end" fill="#2f2d2e" textLength="10.62" lengthAdjust="spacingAndGlyphs">60</text>
<text x="19.60" y="671.50" font-size="9.6" text-anchor="middle" fill="#2f2d2e" textLength="65.50" lengthAdjust="spacingAndGlyphs" transform="rotate(-90 19.60 671.50)">Dead cells (%)</text>
<line x1="67.30" y1="724.30" x2="67.30" y2="727.80" stroke="#6d6e71" stroke-width="0.8"/>
<line x1="112.90" y1="724.30" x2="112.90" y2="727.80" stroke="#6d6e71" stroke-width="0.8"/>
<line x1="158.10" y1="724.30" x2="158.10" y2="727.80" stroke="#6d6e71" stroke-width="0.8"/>
<line x1="51.95" y1="628.00" x2="51.95" y2="652.20" stroke="#939598" stroke-width="0.8"/>
<line x1="50.50" y1="628.00" x2="53.40" y2="628.00" stroke="#939598" stroke-width="0.8"/>
<rect x="49.30" y="652.20" width="5.30" height="72.10" fill="#8d8e90" stroke="#58595b" stroke-width="0.5"/>
<circle cx="51.95" cy="635.60" r="1.75" fill="#231f20"/>
<circle cx="51.95" cy="669.20" r="1.75" fill="#231f20"/>
<line x1="59.90" y1="642.40" x2="59.90" y2="674.50" stroke="#939598" stroke-width="0.8"/>
<line x1="58.45" y1="642.40" x2="61.35" y2="642.40" stroke="#939598" stroke-width="0.8"/>
<rect x="57.25" y="674.50" width="5.30" height="49.80" fill="#f3a8aa" stroke="#58595b" stroke-width="0.5"/>
<circle cx="59.90" cy="652.00" r="1.75" fill="#231f20"/>
<circle cx="59.90" cy="696.40" r="1.75" fill="#231f20"/>
<line x1="67.85" y1="647.30" x2="67.85" y2="675.30" stroke="#939598" stroke-width="0.8"/>
<line x1="66.40" y1="647.30" x2="69.30" y2="647.30" stroke="#939598" stroke-width="0.8"/>
<rect x="65.20" y="675.30" width="5.30" height="49.00" fill="#ec8486" stroke="#58595b" stroke-width="0.5"/>
<circle cx="67.85" cy="655.40" r="1.75" fill="#231f20"/>
<circle cx="67.85" cy="695.10" r="1.75" fill="#231f20"/>
<line x1="75.80" y1="646.40" x2="75.80" y2="675.30" stroke="#939598" stroke-width="0.8"/>
<line x1="74.35" y1="646.40" x2="77.25" y2="646.40" stroke="#939598" stroke-width="0.8"/>
<rect x="73.15" y="675.30" width="5.30" height="49.00" fill="#ea5a5d" stroke="#58595b" stroke-width="0.5"/>
<circle cx="75.80" cy="654.80" r="1.75" fill="#231f20"/>
<circle cx="75.80" cy="695.50" r="1.75" fill="#231f20"/>
<line x1="83.75" y1="647.80" x2="83.75" y2="675.30" stroke="#939598" stroke-width="0.8"/>
<line x1="82.30" y1="647.80" x2="85.20" y2="647.80" stroke="#939598" stroke-width="0.8"/>
<rect x="81.10" y="675.30" width="5.30" height="49.00" fill="#e8262b" stroke="#58595b" stroke-width="0.5"/>
<circle cx="83.75" cy="656.00" r="1.75" fill="#231f20"/>
<circle cx="83.75" cy="694.60" r="1.75" fill="#231f20"/>
<rect x="94.50" y="640.60" width="5.30" height="83.70" fill="#8d8e90" stroke="#58595b" stroke-width="0.5"/>
<circle cx="97.15" cy="640.60" r="1.75" fill="#231f20"/>
<rect x="102.45" y="662.50" width="5.30" height="61.80" fill="#f3a8aa" stroke="#58595b" stroke-width="0.5"/>
<circle cx="105.10" cy="662.50" r="1.75" fill="#231f20"/>
<rect x="110.40" y="664.30" width="5.30" height="60.00" fill="#ec8486" stroke="#58595b" stroke-width="0.5"/>
<circle cx="113.05" cy="664.30" r="1.75" fill="#231f20"/>
<rect x="118.35" y="663.40" width="5.30" height="60.90" fill="#ea5a5d" stroke="#58595b" stroke-width="0.5"/>
<circle cx="121.00" cy="663.40" r="1.75" fill="#231f20"/>
<rect x="126.30" y="665.30" width="5.30" height="59.00" fill="#e8262b" stroke="#58595b" stroke-width="0.5"/>
<circle cx="128.95" cy="665.30" r="1.75" fill="#231f20"/>
<rect x="139.50" y="638.10" width="5.30" height="86.20" fill="#8d8e90" stroke="#58595b" stroke-width="0.5"/>
<circle cx="142.15" cy="635.70" r="1.75" fill="#231f20"/>
<circle cx="142.15" cy="641.20" r="1.75" fill="#231f20"/>
<line x1="150.10" y1="659.50" x2="150.10" y2="671.30" stroke="#939598" stroke-width="0.8"/>
<line x1="148.65" y1="659.50" x2="151.55" y2="659.50" stroke="#939598" stroke-width="0.8"/>
<rect x="147.45" y="671.30" width="5.30" height="53.00" fill="#f3a8aa" stroke="#58595b" stroke-width="0.5"/>
<circle cx="150.10" cy="659.50" r="1.75" fill="#231f20"/>
<circle cx="150.10" cy="675.00" r="1.75" fill="#231f20"/>
<circle cx="150.10" cy="679.80" r="1.75" fill="#231f20"/>
<line x1="158.05" y1="653.00" x2="158.05" y2="662.20" stroke="#939598" stroke-width="0.8"/>
<line x1="156.60" y1="653.00" x2="159.50" y2="653.00" stroke="#939598" stroke-width="0.8"/>
<rect x="155.40" y="662.20" width="5.30" height="62.10" fill="#ec8486" stroke="#58595b" stroke-width="0.5"/>
<circle cx="158.05" cy="653.90" r="1.75" fill="#231f20"/>
<circle cx="158.05" cy="655.60" r="1.75" fill="#231f20"/>
<circle cx="158.05" cy="673.10" r="1.75" fill="#231f20"/>
<line x1="166.00" y1="646.60" x2="166.00" y2="657.10" stroke="#939598" stroke-width="0.8"/>
<line x1="164.55" y1="646.60" x2="167.45" y2="646.60" stroke="#939598" stroke-width="0.8"/>
<rect x="163.35" y="657.10" width="5.30" height="67.20" fill="#ea5a5d" stroke="#58595b" stroke-width="0.5"/>
<circle cx="166.00" cy="649.50" r="1.75" fill="#231f20"/>
<circle cx="166.00" cy="653.50" r="1.75" fill="#231f20"/>
<circle cx="166.00" cy="669.50" r="1.75" fill="#231f20"/>
<line x1="173.95" y1="656.00" x2="173.95" y2="661.70" stroke="#939598" stroke-width="0.8"/>
<line x1="172.50" y1="656.00" x2="175.40" y2="656.00" stroke="#939598" stroke-width="0.8"/>
<rect x="171.30" y="661.70" width="5.30" height="62.60" fill="#e8262b" stroke="#58595b" stroke-width="0.5"/>
<circle cx="173.95" cy="657.10" r="1.75" fill="#231f20"/>
<circle cx="173.95" cy="658.60" r="1.75" fill="#231f20"/>
<circle cx="173.95" cy="669.90" r="1.75" fill="#231f20"/>
<circle cx="141.50" cy="636.50" r="1.75" fill="#231f20"/>
<text x="67.30" y="741.60" font-size="9.2" text-anchor="middle" fill="#2f2d2e" textLength="41.00" lengthAdjust="spacingAndGlyphs">Controls</text>
<text x="67.30" y="752.10" font-size="9.2" text-anchor="middle" fill="#2f2d2e" textLength="33.50" lengthAdjust="spacingAndGlyphs">WT/WT</text>
<text x="112.10" y="741.60" font-size="9.2" text-anchor="middle" fill="#2f2d2e" textLength="30.20" lengthAdjust="spacingAndGlyphs">Father</text>
<text x="112.10" y="752.10" font-size="9.2" text-anchor="middle" fill="#2f2d2e" textLength="27.00" lengthAdjust="spacingAndGlyphs">M/WT</text>
<text x="158.10" y="741.60" font-size="9.2" text-anchor="middle" fill="#2f2d2e">P1, P2,</text>
<text x="158.10" y="752.10" font-size="9.2" text-anchor="middle" fill="#2f2d2e" textLength="11.70" lengthAdjust="spacingAndGlyphs">P3</text>
<text x="189.00" y="590.90" font-size="14" text-anchor="start" fill="#000" font-weight="bold">e</text>
<text x="198.00" y="668.00" font-size="9.6" text-anchor="middle" fill="#2f2d2e" textLength="87.10" lengthAdjust="spacingAndGlyphs" transform="rotate(-90 198.00 668.00)">Cell division index</text>
<text x="281.50" y="592.30" font-size="9.3" text-anchor="start" fill="#2f2d2e" textLength="18.03" lengthAdjust="spacingAndGlyphs">CD4</text>
<text x="299.53" y="588.58" font-size="6.138000000000001" text-anchor="start" fill="#2f2d2e" textLength="3.47" lengthAdjust="spacingAndGlyphs">+</text>
<line x1="218.40" y1="612.30" x2="218.40" y2="723.60" stroke="#6d6e71" stroke-width="0.8"/>
<line x1="218.40" y1="723.60" x2="369.00" y2="723.60" stroke="#6d6e71" stroke-width="0.8"/>
<line x1="215.00" y1="723.60" x2="218.40" y2="723.60" stroke="#6d6e71" stroke-width="0.8"/>
<text x="209.80" y="726.50" font-size="8.3" text-anchor="end" fill="#2f2d2e" textLength="5.31" lengthAdjust="spacingAndGlyphs">0</text>
<line x1="215.00" y1="695.77" x2="218.40" y2="695.77" stroke="#6d6e71" stroke-width="0.8"/>
<text x="209.80" y="698.67" font-size="8.3" text-anchor="end" fill="#2f2d2e" textLength="3.49" lengthAdjust="spacingAndGlyphs">1</text>
<line x1="215.00" y1="667.94" x2="218.40" y2="667.94" stroke="#6d6e71" stroke-width="0.8"/>
<text x="209.80" y="670.84" font-size="8.3" text-anchor="end" fill="#2f2d2e" textLength="5.31" lengthAdjust="spacingAndGlyphs">2</text>
<line x1="215.00" y1="640.11" x2="218.40" y2="640.11" stroke="#6d6e71" stroke-width="0.8"/>
<text x="209.80" y="643.01" font-size="8.3" text-anchor="end" fill="#2f2d2e" textLength="5.31" lengthAdjust="spacingAndGlyphs">3</text>
<line x1="215.00" y1="612.28" x2="218.40" y2="612.28" stroke="#6d6e71" stroke-width="0.8"/>
<text x="209.80" y="615.18" font-size="8.3" text-anchor="end" fill="#2f2d2e" textLength="5.31" lengthAdjust="spacingAndGlyphs">4</text>
<line x1="238.20" y1="723.60" x2="238.20" y2="727.10" stroke="#6d6e71" stroke-width="0.8"/>
<line x1="293.20" y1="723.60" x2="293.20" y2="727.10" stroke="#6d6e71" stroke-width="0.8"/>
<line x1="348.20" y1="723.60" x2="348.20" y2="727.10" stroke="#6d6e71" stroke-width="0.8"/>
<ellipse cx="223.90" cy="723.60" rx="3.0" ry="2.1" fill="#231f20"/>
<rect x="228.40" y="658.10" width="6.50" height="65.50" fill="#f3a8aa" stroke="#58595b" stroke-width="0.5"/>
<circle cx="231.60" cy="654.00" r="1.95" fill="#231f20"/>
<circle cx="231.60" cy="661.70" r="1.95" fill="#231f20"/>
<rect x="235.65" y="657.00" width="6.50" height="66.60" fill="#ec8486" stroke="#58595b" stroke-width="0.5"/>
<circle cx="238.85" cy="656.80" r="1.95" fill="#231f20"/>
<circle cx="237.35" cy="658.80" r="1.95" fill="#231f20"/>
<line x1="246.10" y1="651.50" x2="246.10" y2="662.40" stroke="#6d6e71" stroke-width="0.8"/>
<line x1="244.50" y1="651.50" x2="247.70" y2="651.50" stroke="#6d6e71" stroke-width="0.8"/>
<rect x="242.90" y="662.40" width="6.50" height="61.20" fill="#ea5a5d" stroke="#58595b" stroke-width="0.5"/>
<circle cx="246.10" cy="655.50" r="1.95" fill="#231f20"/>
<circle cx="246.10" cy="670.30" r="1.95" fill="#231f20"/>
<line x1="253.35" y1="653.50" x2="253.35" y2="666.90" stroke="#6d6e71" stroke-width="0.8"/>
<line x1="251.75" y1="653.50" x2="254.95" y2="653.50" stroke="#6d6e71" stroke-width="0.8"/>
<rect x="250.15" y="666.90" width="6.50" height="56.70" fill="#e8262b" stroke="#58595b" stroke-width="0.5"/>
<circle cx="253.35" cy="659.50" r="1.95" fill="#231f20"/>
<circle cx="253.35" cy="674.00" r="1.95" fill="#231f20"/>
<ellipse cx="279.10" cy="723.60" rx="3.0" ry="2.1" fill="#231f20"/>
<rect x="283.60" y="667.50" width="6.50" height="56.10" fill="#f3a8aa" stroke="#58595b" stroke-width="0.5"/>
<circle cx="286.80" cy="667.50" r="1.95" fill="#231f20"/>
<rect x="290.85" y="662.80" width="6.50" height="60.80" fill="#ec8486" stroke="#58595b" stroke-width="0.5"/>
<circle cx="294.05" cy="662.80" r="1.95" fill="#231f20"/>
<rect x="298.10" y="664.80" width="6.50" height="58.80" fill="#ea5a5d" stroke="#58595b" stroke-width="0.5"/>
<circle cx="301.30" cy="664.80" r="1.95" fill="#231f20"/>
<rect x="305.35" y="666.90" width="6.50" height="56.70" fill="#e8262b" stroke="#58595b" stroke-width="0.5"/>
<circle cx="308.55" cy="666.90" r="1.95" fill="#231f20"/>
<ellipse cx="333.20" cy="723.60" rx="3.0" ry="2.1" fill="#231f20"/>
<rect x="337.70" y="663.90" width="6.50" height="59.70" fill="#f3a8aa" stroke="#58595b" stroke-width="0.5"/>
<circle cx="340.90" cy="656.60" r="1.95" fill="#231f20"/>
<circle cx="340.90" cy="661.70" r="1.95" fill="#231f20"/>
<circle cx="340.90" cy="673.10" r="1.95" fill="#231f20"/>
<rect x="344.95" y="669.80" width="6.50" height="53.80" fill="#ec8486" stroke="#58595b" stroke-width="0.5"/>
<circle cx="348.15" cy="664.60" r="1.95" fill="#231f20"/>
<circle cx="347.15" cy="671.20" r="1.95" fill="#231f20"/>
<circle cx="349.15" cy="672.50" r="1.95" fill="#231f20"/>
<rect x="352.20" y="670.20" width="6.50" height="53.40" fill="#ea5a5d" stroke="#58595b" stroke-width="0.5"/>
<circle cx="355.40" cy="662.30" r="1.95" fill="#231f20"/>
<circle cx="354.40" cy="672.50" r="1.95" fill="#231f20"/>
<circle cx="356.40" cy="673.30" r="1.95" fill="#231f20"/>
<rect x="359.45" y="672.00" width="6.50" height="51.60" fill="#e8262b" stroke="#58595b" stroke-width="0.5"/>
<circle cx="362.65" cy="667.50" r="1.95" fill="#231f20"/>
<circle cx="361.65" cy="673.30" r="1.95" fill="#231f20"/>
<circle cx="363.65" cy="674.50" r="1.95" fill="#231f20"/>
<text x="238.20" y="741.60" font-size="9.2" text-anchor="middle" fill="#2f2d2e" textLength="41.00" lengthAdjust="spacingAndGlyphs">Controls</text>
<text x="238.20" y="752.10" font-size="9.2" text-anchor="middle" fill="#2f2d2e" textLength="33.50" lengthAdjust="spacingAndGlyphs">WT/WT</text>
<text x="293.20" y="741.60" font-size="9.2" text-anchor="middle" fill="#2f2d2e" textLength="30.20" lengthAdjust="spacingAndGlyphs">Father</text>
<text x="293.20" y="752.10" font-size="9.2" text-anchor="middle" fill="#2f2d2e" textLength="27.00" lengthAdjust="spacingAndGlyphs">M/WT</text>
<text x="348.20" y="741.00" font-size="9.2" text-anchor="middle" fill="#2f2d2e" textLength="43.60" lengthAdjust="spacingAndGlyphs">P1, P2, P3</text>
<text x="444.00" y="591.00" font-size="14" text-anchor="start" fill="#000" font-weight="bold">f</text>
<text x="516.80" y="592.30" font-size="9.3" text-anchor="start" fill="#2f2d2e" textLength="18.03" lengthAdjust="spacingAndGlyphs">CD8</text>
<text x="534.83" y="588.58" font-size="6.138000000000001" text-anchor="start" fill="#2f2d2e" textLength="3.47" lengthAdjust="spacingAndGlyphs">+</text>
<line x1="457.20" y1="612.30" x2="457.20" y2="723.60" stroke="#6d6e71" stroke-width="0.8"/>
<line x1="457.20" y1="723.60" x2="607.00" y2="723.60" stroke="#6d6e71" stroke-width="0.8"/>
<line x1="453.80" y1="723.60" x2="457.20" y2="723.60" stroke="#6d6e71" stroke-width="0.8"/>
<text x="448.60" y="726.50" font-size="8.3" text-anchor="end" fill="#2f2d2e" textLength="5.31" lengthAdjust="spacingAndGlyphs">0</text>
<line x1="453.80" y1="695.77" x2="457.20" y2="695.77" stroke="#6d6e71" stroke-width="0.8"/>
<text x="448.60" y="698.67" font-size="8.3" text-anchor="end" fill="#2f2d2e" textLength="3.49" lengthAdjust="spacingAndGlyphs">1</text>
<line x1="453.80" y1="667.94" x2="457.20" y2="667.94" stroke="#6d6e71" stroke-width="0.8"/>
<text x="448.60" y="670.84" font-size="8.3" text-anchor="end" fill="#2f2d2e" textLength="5.31" lengthAdjust="spacingAndGlyphs">2</text>
<line x1="453.80" y1="640.11" x2="457.20" y2="640.11" stroke="#6d6e71" stroke-width="0.8"/>
<text x="448.60" y="643.01" font-size="8.3" text-anchor="end" fill="#2f2d2e" textLength="5.31" lengthAdjust="spacingAndGlyphs">3</text>
<line x1="453.80" y1="612.28" x2="457.20" y2="612.28" stroke="#6d6e71" stroke-width="0.8"/>
<text x="448.60" y="615.18" font-size="8.3" text-anchor="end" fill="#2f2d2e" textLength="5.31" lengthAdjust="spacingAndGlyphs">4</text>
<line x1="477.40" y1="723.60" x2="477.40" y2="727.10" stroke="#6d6e71" stroke-width="0.8"/>
<line x1="532.10" y1="723.60" x2="532.10" y2="727.10" stroke="#6d6e71" stroke-width="0.8"/>
<line x1="586.70" y1="723.60" x2="586.70" y2="727.10" stroke="#6d6e71" stroke-width="0.8"/>
<ellipse cx="463.10" cy="723.60" rx="3.0" ry="2.1" fill="#231f20"/>
<rect x="467.50" y="664.70" width="6.50" height="58.90" fill="#f9c690" stroke="#58595b" stroke-width="0.5"/>
<circle cx="469.20" cy="664.40" r="1.95" fill="#231f20"/>
<circle cx="472.20" cy="663.50" r="1.95" fill="#231f20"/>
<rect x="474.75" y="662.50" width="6.50" height="61.10" fill="#f6aa5e" stroke="#58595b" stroke-width="0.5"/>
<circle cx="477.95" cy="658.30" r="1.95" fill="#231f20"/>
<circle cx="477.95" cy="666.30" r="1.95" fill="#231f20"/>
<rect x="482.00" y="633.60" width="6.50" height="90.00" fill="#f39131" stroke="#58595b" stroke-width="0.5"/>
<circle cx="483.20" cy="633.80" r="1.95" fill="#231f20"/>
<circle cx="485.20" cy="633.80" r="1.95" fill="#231f20"/>
<circle cx="487.20" cy="633.80" r="1.95" fill="#231f20"/>
<rect x="489.25" y="640.20" width="6.50" height="83.40" fill="#ef7b31" stroke="#58595b" stroke-width="0.5"/>
<circle cx="491.45" cy="640.30" r="1.95" fill="#231f20"/>
<circle cx="493.95" cy="639.20" r="1.95" fill="#231f20"/>
<ellipse cx="517.40" cy="723.60" rx="3.0" ry="2.1" fill="#231f20"/>
<rect x="521.80" y="671.50" width="6.50" height="52.10" fill="#f9c690" stroke="#58595b" stroke-width="0.5"/>
<circle cx="525.00" cy="671.50" r="1.95" fill="#231f20"/>
<rect x="529.05" y="669.30" width="6.50" height="54.30" fill="#f6aa5e" stroke="#58595b" stroke-width="0.5"/>
<circle cx="532.25" cy="669.30" r="1.95" fill="#231f20"/>
<rect x="536.30" y="637.40" width="6.50" height="86.20" fill="#f39131" stroke="#58595b" stroke-width="0.5"/>
<circle cx="539.50" cy="637.40" r="1.95" fill="#231f20"/>
<rect x="543.55" y="642.40" width="6.50" height="81.20" fill="#ef7b31" stroke="#58595b" stroke-width="0.5"/>
<circle cx="546.75" cy="642.40" r="1.95" fill="#231f20"/>
<ellipse cx="572.10" cy="723.60" rx="3.0" ry="2.1" fill="#231f20"/>
<rect x="576.40" y="671.80" width="6.50" height="51.80" fill="#f9c690" stroke="#58595b" stroke-width="0.5"/>
<circle cx="579.60" cy="665.10" r="1.95" fill="#231f20"/>
<circle cx="579.60" cy="670.80" r="1.95" fill="#231f20"/>
<circle cx="579.60" cy="679.50" r="1.95" fill="#231f20"/>
<rect x="583.65" y="678.50" width="6.50" height="45.10" fill="#f6aa5e" stroke="#58595b" stroke-width="0.5"/>
<circle cx="586.85" cy="671.80" r="1.95" fill="#231f20"/>
<circle cx="586.85" cy="677.00" r="1.95" fill="#231f20"/>
<circle cx="586.85" cy="687.10" r="1.95" fill="#231f20"/>
<rect x="590.90" y="651.00" width="6.50" height="72.60" fill="#f39131" stroke="#58595b" stroke-width="0.5"/>
<circle cx="594.10" cy="644.90" r="1.95" fill="#231f20"/>
<circle cx="594.10" cy="652.00" r="1.95" fill="#231f20"/>
<circle cx="593.10" cy="654.90" r="1.95" fill="#231f20"/>
<rect x="598.15" y="654.50" width="6.50" height="69.10" fill="#ef7b31" stroke="#58595b" stroke-width="0.5"/>
<circle cx="601.35" cy="648.20" r="1.95" fill="#231f20"/>
<circle cx="601.35" cy="656.20" r="1.95" fill="#231f20"/>
<circle cx="600.35" cy="659.30" r="1.95" fill="#231f20"/>
<text x="477.40" y="741.60" font-size="9.2" text-anchor="middle" fill="#2f2d2e" textLength="41.00" lengthAdjust="spacingAndGlyphs">Controls</text>
<text x="477.40" y="752.10" font-size="9.2" text-anchor="middle" fill="#2f2d2e" textLength="33.50" lengthAdjust="spacingAndGlyphs">WT/WT</text>
<text x="532.10" y="741.60" font-size="9.2" text-anchor="middle" fill="#2f2d2e" textLength="30.20" lengthAdjust="spacingAndGlyphs">Father</text>
<text x="532.10" y="752.10" font-size="9.2" text-anchor="middle" fill="#2f2d2e" textLength="27.00" lengthAdjust="spacingAndGlyphs">M/WT</text>
<text x="586.70" y="740.60" font-size="9.2" text-anchor="middle" fill="#2f2d2e" textLength="43.60" lengthAdjust="spacingAndGlyphs">P1, P2, P3</text>
<text x="364.50" y="606.40" font-size="9.6" text-anchor="start" fill="#2f2d2e" textLength="66.20" lengthAdjust="spacingAndGlyphs">Anti-CD2/CD3</text>
<text x="364.50" y="618.00" font-size="9.6" text-anchor="start" fill="#2f2d2e" textLength="57.34" lengthAdjust="spacingAndGlyphs">/CD28 (µl ml</text>
<text x="421.84" y="614.16" font-size="6.336" text-anchor="start" fill="#2f2d2e" textLength="7.74" lengthAdjust="spacingAndGlyphs">−1</text>
<text x="429.58" y="618.00" font-size="9.6" text-anchor="start" fill="#2f2d2e" textLength="3.42" lengthAdjust="spacingAndGlyphs">)</text>
<rect x="377.50" y="625.80" width="9.20" height="8.74" fill="#f3a8aa" stroke="#58595b" stroke-width="0.5"/>
<text x="391.70" y="633.00" font-size="8.2" text-anchor="start" fill="#2f2d2e" textLength="23.60" lengthAdjust="spacingAndGlyphs">3.125</text>
<rect x="377.50" y="642.50" width="9.20" height="8.74" fill="#ec8486" stroke="#58595b" stroke-width="0.5"/>
<text x="391.70" y="649.70" font-size="8.2" text-anchor="start" fill="#2f2d2e" textLength="18.35" lengthAdjust="spacingAndGlyphs">6.25</text>
<rect x="377.50" y="661.00" width="9.20" height="8.74" fill="#ea5a5d" stroke="#58595b" stroke-width="0.5"/>
<text x="391.70" y="668.20" font-size="8.2" text-anchor="start" fill="#2f2d2e" textLength="18.35" lengthAdjust="spacingAndGlyphs">12.5</text>
<rect x="377.50" y="677.70" width="9.20" height="8.74" fill="#e8262b" stroke="#58595b" stroke-width="0.5"/>
<text x="391.70" y="684.90" font-size="8.2" text-anchor="start" fill="#2f2d2e" textLength="10.49" lengthAdjust="spacingAndGlyphs">25</text>
<rect x="377.50" y="695.00" width="9.20" height="8.74" fill="#8d8e90" stroke="#58595b" stroke-width="0.5"/>
<text x="391.70" y="702.20" font-size="8.2" text-anchor="start" fill="#2f2d2e" textLength="13.10" lengthAdjust="spacingAndGlyphs">NS</text>
<text x="605.70" y="601.50" font-size="9.6" text-anchor="start" fill="#2f2d2e" textLength="66.20" lengthAdjust="spacingAndGlyphs">Anti-CD2/CD3</text>
<text x="605.70" y="613.10" font-size="9.6" text-anchor="start" fill="#2f2d2e" textLength="57.34" lengthAdjust="spacingAndGlyphs">/CD28 (µl ml</text>
<text x="663.04" y="609.26" font-size="6.336" text-anchor="start" fill="#2f2d2e" textLength="7.74" lengthAdjust="spacingAndGlyphs">−1</text>
<text x="670.78" y="613.10" font-size="9.6" text-anchor="start" fill="#2f2d2e" textLength="3.42" lengthAdjust="spacingAndGlyphs">)</text>
<rect x="615.30" y="623.80" width="9.00" height="8.55" fill="#f9c690" stroke="#58595b" stroke-width="0.5"/>
<text x="629.50" y="631.00" font-size="8.2" text-anchor="start" fill="#2f2d2e" textLength="23.60" lengthAdjust="spacingAndGlyphs">3.125</text>
<rect x="615.30" y="641.00" width="9.00" height="8.55" fill="#f6aa5e" stroke="#58595b" stroke-width="0.5"/>
<text x="629.50" y="648.20" font-size="8.2" text-anchor="start" fill="#2f2d2e" textLength="18.35" lengthAdjust="spacingAndGlyphs">6.25</text>
<rect x="615.30" y="658.30" width="9.00" height="8.55" fill="#f39131" stroke="#58595b" stroke-width="0.5"/>
<text x="629.50" y="665.50" font-size="8.2" text-anchor="start" fill="#2f2d2e" textLength="18.35" lengthAdjust="spacingAndGlyphs">12.5</text>
<rect x="615.30" y="675.40" width="9.00" height="8.55" fill="#ef7b31" stroke="#58595b" stroke-width="0.5"/>
<text x="629.50" y="682.60" font-size="8.2" text-anchor="start" fill="#2f2d2e" textLength="10.49" lengthAdjust="spacingAndGlyphs">25</text>
<rect x="615.30" y="692.90" width="9.00" height="8.55" fill="#8d8e90" stroke="#58595b" stroke-width="0.5"/>
<text x="629.50" y="700.10" font-size="8.2" text-anchor="start" fill="#2f2d2e" textLength="13.10" lengthAdjust="spacingAndGlyphs">NS</text>
<text x="0.00" y="773.30" font-size="14" text-anchor="start" fill="#000" font-weight="bold">g</text>
<text x="141.50" y="775.50" font-size="9.3" text-anchor="start" fill="#2f2d2e" textLength="19.70" lengthAdjust="spacingAndGlyphs">Bulk</text>
<line x1="94.60" y1="776.00" x2="94.60" y2="877.90" stroke="#6d6e71" stroke-width="0.8"/>
<line x1="94.60" y1="877.90" x2="207.70" y2="877.90" stroke="#6d6e71" stroke-width="0.8"/>
<line x1="91.20" y1="776.00" x2="94.60" y2="776.00" stroke="#6d6e71" stroke-width="0.8"/>
<text x="86.00" y="779.00" font-size="8.7" text-anchor="end" fill="#2f2d2e" textLength="28.28" lengthAdjust="spacingAndGlyphs">10,000</text>
<line x1="91.20" y1="796.38" x2="94.60" y2="796.38" stroke="#6d6e71" stroke-width="0.8"/>
<text x="86.00" y="799.38" font-size="8.7" text-anchor="end" fill="#2f2d2e" textLength="24.62" lengthAdjust="spacingAndGlyphs">8,000</text>
<line x1="91.20" y1="816.76" x2="94.60" y2="816.76" stroke="#6d6e71" stroke-width="0.8"/>
<text x="86.00" y="819.76" font-size="8.7" text-anchor="end" fill="#2f2d2e" textLength="24.62" lengthAdjust="spacingAndGlyphs">6,000</text>
<line x1="91.20" y1="837.14" x2="94.60" y2="837.14" stroke="#6d6e71" stroke-width="0.8"/>
<text x="86.00" y="840.14" font-size="8.7" text-anchor="end" fill="#2f2d2e" textLength="24.62" lengthAdjust="spacingAndGlyphs">4,000</text>
<line x1="91.20" y1="857.52" x2="94.60" y2="857.52" stroke="#6d6e71" stroke-width="0.8"/>
<text x="86.00" y="860.52" font-size="8.7" text-anchor="end" fill="#2f2d2e" textLength="24.62" lengthAdjust="spacingAndGlyphs">2,000</text>
<line x1="91.20" y1="877.90" x2="94.60" y2="877.90" stroke="#6d6e71" stroke-width="0.8"/>
<text x="86.00" y="880.90" font-size="8.7" text-anchor="end" fill="#2f2d2e" textLength="5.57" lengthAdjust="spacingAndGlyphs">0</text>
<text x="52.20" y="827.40" font-size="9.6" text-anchor="middle" fill="#2f2d2e" textLength="56.20" lengthAdjust="spacingAndGlyphs" transform="rotate(-90 52.20 827.40)">MFI pSTAT5</text>
<line x1="103.10" y1="877.90" x2="103.10" y2="881.40" stroke="#6d6e71" stroke-width="0.8"/>
<line x1="122.50" y1="877.90" x2="122.50" y2="881.40" stroke="#6d6e71" stroke-width="0.8"/>
<line x1="141.60" y1="877.90" x2="141.60" y2="881.40" stroke="#6d6e71" stroke-width="0.8"/>
<line x1="160.80" y1="877.90" x2="160.80" y2="881.40" stroke="#6d6e71" stroke-width="0.8"/>
<line x1="180.00" y1="877.90" x2="180.00" y2="881.40" stroke="#6d6e71" stroke-width="0.8"/>
<line x1="199.10" y1="877.90" x2="199.10" y2="881.40" stroke="#6d6e71" stroke-width="0.8"/>
<circle cx="97.80" cy="863.00" r="1.85" fill="#231f20"/>
<circle cx="97.80" cy="865.80" r="1.85" fill="#231f20"/>
<circle cx="97.80" cy="868.50" r="1.85" fill="#231f20"/>
<circle cx="103.10" cy="866.70" r="1.85" fill="#bcbec0"/>
<circle cx="108.20" cy="864.90" r="1.85" fill="#ec2227"/>
<circle cx="108.20" cy="866.70" r="1.85" fill="#ec2227"/>
<line x1="120.30" y1="837.50" x2="124.70" y2="837.50" stroke="#231f20" stroke-width="0.8"/>
<line x1="125.40" y1="850.30" x2="129.80" y2="850.30" stroke="#231f20" stroke-width="0.8"/>
<circle cx="117.20" cy="794.60" r="1.85" fill="#231f20"/>
<circle cx="117.20" cy="833.00" r="1.85" fill="#231f20"/>
<circle cx="117.20" cy="835.30" r="1.85" fill="#231f20"/>
<circle cx="117.20" cy="849.70" r="1.85" fill="#231f20"/>
<circle cx="117.20" cy="858.90" r="1.85" fill="#231f20"/>
<circle cx="122.50" cy="828.90" r="1.85" fill="#bcbec0"/>
<circle cx="122.50" cy="845.20" r="1.85" fill="#bcbec0"/>
<circle cx="127.60" cy="837.90" r="1.85" fill="#ec2227"/>
<circle cx="127.60" cy="853.00" r="1.85" fill="#ec2227"/>
<circle cx="127.60" cy="855.40" r="1.85" fill="#ec2227"/>
<circle cx="127.60" cy="857.20" r="1.85" fill="#ec2227"/>
<circle cx="136.30" cy="864.00" r="1.85" fill="#231f20"/>
<circle cx="136.30" cy="866.70" r="1.85" fill="#231f20"/>
<circle cx="136.30" cy="869.50" r="1.85" fill="#231f20"/>
<circle cx="136.30" cy="871.30" r="1.85" fill="#231f20"/>
<circle cx="141.60" cy="867.50" r="1.85" fill="#bcbec0"/>
<circle cx="141.60" cy="869.00" r="1.85" fill="#bcbec0"/>
<circle cx="146.70" cy="865.80" r="1.85" fill="#ec2227"/>
<circle cx="146.70" cy="868.50" r="1.85" fill="#ec2227"/>
<circle cx="146.70" cy="870.90" r="1.85" fill="#ec2227"/>
<line x1="153.30" y1="844.30" x2="157.70" y2="844.30" stroke="#231f20" stroke-width="0.8"/>
<circle cx="155.50" cy="835.30" r="1.85" fill="#231f20"/>
<circle cx="155.50" cy="840.80" r="1.85" fill="#231f20"/>
<circle cx="155.50" cy="848.80" r="1.85" fill="#231f20"/>
<circle cx="155.50" cy="860.30" r="1.85" fill="#231f20"/>
<circle cx="160.80" cy="847.60" r="1.85" fill="#bcbec0"/>
<circle cx="160.80" cy="849.90" r="1.85" fill="#bcbec0"/>
<circle cx="165.90" cy="839.30" r="1.85" fill="#ec2227"/>
<circle cx="165.90" cy="850.30" r="1.85" fill="#ec2227"/>
<circle cx="165.90" cy="854.90" r="1.85" fill="#ec2227"/>
<line x1="172.50" y1="814.30" x2="176.90" y2="814.30" stroke="#231f20" stroke-width="0.8"/>
<line x1="177.80" y1="819.30" x2="182.20" y2="819.30" stroke="#231f20" stroke-width="0.8"/>
<line x1="182.90" y1="816.50" x2="187.30" y2="816.50" stroke="#231f20" stroke-width="0.8"/>
<circle cx="174.70" cy="804.30" r="1.85" fill="#231f20"/>
<circle cx="174.70" cy="808.00" r="1.85" fill="#231f20"/>
<circle cx="174.70" cy="824.40" r="1.85" fill="#231f20"/>
<circle cx="174.70" cy="827.50" r="1.85" fill="#231f20"/>
<circle cx="180.00" cy="816.00" r="1.85" fill="#bcbec0"/>
<circle cx="180.00" cy="822.90" r="1.85" fill="#bcbec0"/>
<circle cx="185.10" cy="806.10" r="1.85" fill="#ec2227"/>
<circle cx="185.10" cy="808.90" r="1.85" fill="#ec2227"/>
<circle cx="185.10" cy="811.60" r="1.85" fill="#ec2227"/>
<circle cx="185.10" cy="813.20" r="1.85" fill="#ec2227"/>
<circle cx="185.10" cy="838.80" r="1.85" fill="#ec2227"/>
<line x1="191.60" y1="808.90" x2="196.00" y2="808.90" stroke="#231f20" stroke-width="0.8"/>
<line x1="196.90" y1="815.10" x2="201.30" y2="815.10" stroke="#231f20" stroke-width="0.8"/>
<circle cx="193.80" cy="801.00" r="1.85" fill="#231f20"/>
<circle cx="193.80" cy="804.30" r="1.85" fill="#231f20"/>
<circle cx="193.80" cy="813.40" r="1.85" fill="#231f20"/>
<circle cx="193.80" cy="822.00" r="1.85" fill="#231f20"/>
<circle cx="199.10" cy="810.70" r="1.85" fill="#bcbec0"/>
<circle cx="199.10" cy="819.60" r="1.85" fill="#bcbec0"/>
<circle cx="204.20" cy="802.50" r="1.85" fill="#ec2227"/>
<circle cx="204.20" cy="805.60" r="1.85" fill="#ec2227"/>
<circle cx="204.20" cy="808.90" r="1.85" fill="#ec2227"/>
<circle cx="204.20" cy="824.70" r="1.85" fill="#ec2227"/>
<text x="107.90" y="891.00" font-size="9.4" text-anchor="end" fill="#2f2d2e" textLength="15.41" lengthAdjust="spacingAndGlyphs" transform="rotate(-45 107.90 891.00)">NS</text>
<text x="127.30" y="891.00" font-size="9.4" text-anchor="end" fill="#2f2d2e" textLength="25.28" lengthAdjust="spacingAndGlyphs" transform="rotate(-45 127.30 891.00)">IL-27</text>
<text x="146.40" y="891.00" font-size="9.4" text-anchor="end" fill="#2f2d2e" textLength="27.76" lengthAdjust="spacingAndGlyphs" transform="rotate(-45 146.40 891.00)">0.005</text>
<text x="165.60" y="891.00" font-size="9.4" text-anchor="end" fill="#2f2d2e" textLength="21.59" lengthAdjust="spacingAndGlyphs" transform="rotate(-45 165.60 891.00)">0.05</text>
<text x="184.80" y="891.00" font-size="9.4" text-anchor="end" fill="#2f2d2e" textLength="15.42" lengthAdjust="spacingAndGlyphs" transform="rotate(-45 184.80 891.00)">0.5</text>
<text x="203.90" y="891.00" font-size="9.4" text-anchor="end" fill="#2f2d2e" textLength="6.17" lengthAdjust="spacingAndGlyphs" transform="rotate(-45 203.90 891.00)">5</text>
<line x1="126.90" y1="914.50" x2="207.50" y2="914.50" stroke="#6d6e71" stroke-width="0.8"/>
<text x="137.70" y="927.00" font-size="9.6" text-anchor="start" fill="#2f2d2e" textLength="47.84" lengthAdjust="spacingAndGlyphs">IL-2 (ng ml</text>
<text x="185.54" y="923.16" font-size="6.336" text-anchor="start" fill="#2f2d2e" textLength="7.53" lengthAdjust="spacingAndGlyphs">−1</text>
<text x="193.07" y="927.00" font-size="9.6" text-anchor="start" fill="#2f2d2e" textLength="3.33" lengthAdjust="spacingAndGlyphs">)</text>
<text x="305.00" y="775.10" font-size="9.3" text-anchor="start" fill="#2f2d2e" textLength="19.70" lengthAdjust="spacingAndGlyphs">CD4</text>
<text x="324.70" y="771.38" font-size="6.138000000000001" text-anchor="start" fill="#2f2d2e" textLength="3.80" lengthAdjust="spacingAndGlyphs">+</text>
<line x1="260.90" y1="776.40" x2="260.90" y2="877.10" stroke="#6d6e71" stroke-width="0.8"/>
<line x1="260.90" y1="877.10" x2="372.80" y2="877.10" stroke="#6d6e71" stroke-width="0.8"/>
<line x1="257.50" y1="776.40" x2="260.90" y2="776.40" stroke="#6d6e71" stroke-width="0.8"/>
<text x="251.10" y="779.40" font-size="8.7" text-anchor="end" fill="#2f2d2e" textLength="9.22" lengthAdjust="spacingAndGlyphs">10</text>
<text x="251.90" y="775.00" font-size="5.0" text-anchor="start" fill="#2f2d2e" textLength="2.92" lengthAdjust="spacingAndGlyphs">2</text>
<line x1="257.50" y1="801.58" x2="260.90" y2="801.58" stroke="#6d6e71" stroke-width="0.8"/>
<text x="251.10" y="804.58" font-size="8.7" text-anchor="end" fill="#2f2d2e" textLength="9.22" lengthAdjust="spacingAndGlyphs">10</text>
<text x="251.90" y="800.18" font-size="5.0" text-anchor="start" fill="#2f2d2e" textLength="2.92" lengthAdjust="spacingAndGlyphs">1</text>
<line x1="257.50" y1="826.75" x2="260.90" y2="826.75" stroke="#6d6e71" stroke-width="0.8"/>
<text x="251.10" y="829.75" font-size="8.7" text-anchor="end" fill="#2f2d2e" textLength="9.22" lengthAdjust="spacingAndGlyphs">10</text>
<text x="251.90" y="825.35" font-size="5.0" text-anchor="start" fill="#2f2d2e" textLength="2.92" lengthAdjust="spacingAndGlyphs">0</text>
<line x1="257.50" y1="851.92" x2="260.90" y2="851.92" stroke="#6d6e71" stroke-width="0.8"/>
<text x="251.10" y="854.92" font-size="8.7" text-anchor="end" fill="#2f2d2e" textLength="9.22" lengthAdjust="spacingAndGlyphs">10</text>
<text x="251.90" y="850.52" font-size="5.0" text-anchor="start" fill="#2f2d2e" textLength="5.99" lengthAdjust="spacingAndGlyphs">−1</text>
<line x1="257.50" y1="877.10" x2="260.90" y2="877.10" stroke="#6d6e71" stroke-width="0.8"/>
<text x="251.10" y="880.10" font-size="8.7" text-anchor="end" fill="#2f2d2e" textLength="9.22" lengthAdjust="spacingAndGlyphs">10</text>
<text x="251.90" y="875.70" font-size="5.0" text-anchor="start" fill="#2f2d2e" textLength="5.99" lengthAdjust="spacingAndGlyphs">−2</text>
<line x1="273.30" y1="877.10" x2="273.30" y2="880.60" stroke="#6d6e71" stroke-width="0.8"/>
<line x1="302.30" y1="877.10" x2="302.30" y2="880.60" stroke="#6d6e71" stroke-width="0.8"/>
<line x1="331.40" y1="877.10" x2="331.40" y2="880.60" stroke="#6d6e71" stroke-width="0.8"/>
<line x1="360.40" y1="877.10" x2="360.40" y2="880.60" stroke="#6d6e71" stroke-width="0.8"/>
<g transform="rotate(-90 230.6 826.3)">
<text x="176.30" y="826.30" font-size="9.6" text-anchor="start" fill="#2f2d2e" textLength="61.66" lengthAdjust="spacingAndGlyphs">Percent IFNγ</text>
<text x="237.96" y="822.46" font-size="6.336" text-anchor="start" fill="#2f2d2e" textLength="4.07" lengthAdjust="spacingAndGlyphs">+</text>
<text x="244.97" y="826.30" font-size="9.6" text-anchor="start" fill="#2f2d2e" textLength="39.93" lengthAdjust="spacingAndGlyphs">live cells</text>
</g>
<line x1="263.60" y1="855.20" x2="268.00" y2="855.20" stroke="#231f20" stroke-width="0.8"/>
<line x1="271.10" y1="868.40" x2="275.50" y2="868.40" stroke="#231f20" stroke-width="0.8"/>
<line x1="279.00" y1="846.50" x2="283.40" y2="846.50" stroke="#bcbec0" stroke-width="0.8"/>
<circle cx="264.90" cy="841.60" r="1.85" fill="#231f20"/>
<circle cx="265.50" cy="853.00" r="1.85" fill="#231f20"/>
<circle cx="264.90" cy="864.90" r="1.85" fill="#231f20"/>
<circle cx="273.30" cy="860.50" r="1.85" fill="#bcbec0"/>
<circle cx="281.20" cy="836.80" r="1.85" fill="#ec2227"/>
<circle cx="281.20" cy="843.80" r="1.85" fill="#ec2227"/>
<circle cx="281.20" cy="862.20" r="1.85" fill="#ec2227"/>
<circle cx="281.20" cy="871.30" r="1.85" fill="#ec2227"/>
<line x1="300.10" y1="860.10" x2="304.50" y2="860.10" stroke="#231f20" stroke-width="0.8"/>
<line x1="308.00" y1="848.70" x2="312.40" y2="848.70" stroke="#bcbec0" stroke-width="0.8"/>
<circle cx="293.90" cy="840.70" r="1.85" fill="#231f20"/>
<circle cx="294.50" cy="842.40" r="1.85" fill="#231f20"/>
<circle cx="293.90" cy="846.50" r="1.85" fill="#231f20"/>
<circle cx="294.50" cy="860.50" r="1.85" fill="#231f20"/>
<circle cx="293.90" cy="865.20" r="1.85" fill="#231f20"/>
<circle cx="302.30" cy="852.60" r="1.85" fill="#bcbec0"/>
<circle cx="310.20" cy="845.60" r="1.85" fill="#ec2227"/>
<circle cx="310.20" cy="846.80" r="1.85" fill="#ec2227"/>
<circle cx="310.20" cy="852.60" r="1.85" fill="#ec2227"/>
<circle cx="310.20" cy="854.30" r="1.85" fill="#ec2227"/>
<circle cx="323.00" cy="824.00" r="1.85" fill="#231f20"/>
<circle cx="323.60" cy="833.00" r="1.85" fill="#231f20"/>
<circle cx="323.00" cy="838.60" r="1.85" fill="#231f20"/>
<circle cx="323.60" cy="841.20" r="1.85" fill="#231f20"/>
<circle cx="323.00" cy="844.70" r="1.85" fill="#231f20"/>
<circle cx="331.40" cy="836.00" r="1.85" fill="#bcbec0"/>
<circle cx="331.40" cy="838.20" r="1.85" fill="#bcbec0"/>
<circle cx="339.30" cy="814.90" r="1.85" fill="#ec2227"/>
<circle cx="339.30" cy="817.60" r="1.85" fill="#ec2227"/>
<circle cx="339.30" cy="818.40" r="1.85" fill="#ec2227"/>
<circle cx="339.30" cy="825.40" r="1.85" fill="#ec2227"/>
<line x1="349.80" y1="805.60" x2="354.20" y2="805.60" stroke="#231f20" stroke-width="0.8"/>
<line x1="358.20" y1="807.60" x2="362.60" y2="807.60" stroke="#231f20" stroke-width="0.8"/>
<circle cx="352.00" cy="798.30" r="1.85" fill="#231f20"/>
<circle cx="352.60" cy="799.70" r="1.85" fill="#231f20"/>
<circle cx="352.00" cy="809.30" r="1.85" fill="#231f20"/>
<circle cx="352.60" cy="818.10" r="1.85" fill="#231f20"/>
<circle cx="352.00" cy="819.70" r="1.85" fill="#231f20"/>
<circle cx="360.40" cy="801.80" r="1.85" fill="#bcbec0"/>
<circle cx="360.40" cy="823.30" r="1.85" fill="#bcbec0"/>
<circle cx="368.30" cy="800.00" r="1.85" fill="#ec2227"/>
<circle cx="368.30" cy="800.90" r="1.85" fill="#ec2227"/>
<circle cx="368.30" cy="809.30" r="1.85" fill="#ec2227"/>
<text x="279.60" y="889.50" font-size="9.4" text-anchor="end" fill="#2f2d2e" textLength="15.41" lengthAdjust="spacingAndGlyphs" transform="rotate(-45 279.60 889.50)">NS</text>
<text x="308.60" y="889.50" font-size="9.4" text-anchor="end" fill="#2f2d2e" textLength="22.81" lengthAdjust="spacingAndGlyphs" transform="rotate(-45 308.60 889.50)">PHA</text>
<text x="333.99" y="885.79" font-size="9.4" text-anchor="end" fill="#2f2d2e" textLength="70.27" lengthAdjust="spacingAndGlyphs" transform="rotate(-45 333.99 885.79)">Anti-CD2/CD3</text>
<text x="341.41" y="893.21" font-size="9.4" text-anchor="end" fill="#2f2d2e" textLength="31.44" lengthAdjust="spacingAndGlyphs" transform="rotate(-45 341.41 893.21)">/CD28</text>
<text x="362.99" y="885.79" font-size="9.4" text-anchor="end" fill="#2f2d2e" textLength="32.98" lengthAdjust="spacingAndGlyphs" transform="rotate(-45 362.99 885.79)">PMA +</text>
<text x="370.41" y="893.21" font-size="9.4" text-anchor="end" fill="#2f2d2e" textLength="49.94" lengthAdjust="spacingAndGlyphs" transform="rotate(-45 370.41 893.21)">ionomycin</text>
<text x="455.80" y="775.50" font-size="9.3" text-anchor="start" fill="#2f2d2e" textLength="19.87" lengthAdjust="spacingAndGlyphs">CD8</text>
<text x="475.67" y="771.78" font-size="6.138000000000001" text-anchor="start" fill="#2f2d2e" textLength="3.83" lengthAdjust="spacingAndGlyphs">+</text>
<line x1="411.80" y1="776.40" x2="411.80" y2="877.10" stroke="#6d6e71" stroke-width="0.8"/>
<line x1="411.80" y1="877.10" x2="524.00" y2="877.10" stroke="#6d6e71" stroke-width="0.8"/>
<line x1="408.40" y1="776.40" x2="411.80" y2="776.40" stroke="#6d6e71" stroke-width="0.8"/>
<text x="402.00" y="779.40" font-size="8.7" text-anchor="end" fill="#2f2d2e" textLength="9.22" lengthAdjust="spacingAndGlyphs">10</text>
<text x="402.80" y="775.00" font-size="5.0" text-anchor="start" fill="#2f2d2e" textLength="2.92" lengthAdjust="spacingAndGlyphs">2</text>
<line x1="408.40" y1="801.58" x2="411.80" y2="801.58" stroke="#6d6e71" stroke-width="0.8"/>
<text x="402.00" y="804.58" font-size="8.7" text-anchor="end" fill="#2f2d2e" textLength="9.22" lengthAdjust="spacingAndGlyphs">10</text>
<text x="402.80" y="800.18" font-size="5.0" text-anchor="start" fill="#2f2d2e" textLength="2.92" lengthAdjust="spacingAndGlyphs">1</text>
<line x1="408.40" y1="826.75" x2="411.80" y2="826.75" stroke="#6d6e71" stroke-width="0.8"/>
<text x="402.00" y="829.75" font-size="8.7" text-anchor="end" fill="#2f2d2e" textLength="9.22" lengthAdjust="spacingAndGlyphs">10</text>
<text x="402.80" y="825.35" font-size="5.0" text-anchor="start" fill="#2f2d2e" textLength="2.92" lengthAdjust="spacingAndGlyphs">0</text>
<line x1="408.40" y1="851.92" x2="411.80" y2="851.92" stroke="#6d6e71" stroke-width="0.8"/>
<text x="402.00" y="854.92" font-size="8.7" text-anchor="end" fill="#2f2d2e" textLength="9.22" lengthAdjust="spacingAndGlyphs">10</text>
<text x="402.80" y="850.52" font-size="5.0" text-anchor="start" fill="#2f2d2e" textLength="5.99" lengthAdjust="spacingAndGlyphs">−1</text>
<line x1="408.40" y1="877.10" x2="411.80" y2="877.10" stroke="#6d6e71" stroke-width="0.8"/>
<text x="402.00" y="880.10" font-size="8.7" text-anchor="end" fill="#2f2d2e" textLength="9.22" lengthAdjust="spacingAndGlyphs">10</text>
<text x="402.80" y="875.70" font-size="5.0" text-anchor="start" fill="#2f2d2e" textLength="5.99" lengthAdjust="spacingAndGlyphs">−2</text>
<line x1="424.30" y1="877.10" x2="424.30" y2="880.60" stroke="#6d6e71" stroke-width="0.8"/>
<line x1="452.80" y1="877.10" x2="452.80" y2="880.60" stroke="#6d6e71" stroke-width="0.8"/>
<line x1="481.60" y1="877.10" x2="481.60" y2="880.60" stroke="#6d6e71" stroke-width="0.8"/>
<line x1="510.10" y1="877.10" x2="510.10" y2="880.60" stroke="#6d6e71" stroke-width="0.8"/>
<line x1="422.10" y1="873.30" x2="426.50" y2="873.30" stroke="#231f20" stroke-width="0.8"/>
<line x1="430.00" y1="847.30" x2="434.40" y2="847.30" stroke="#231f20" stroke-width="0.8"/>
<circle cx="416.70" cy="838.90" r="1.85" fill="#231f20"/>
<circle cx="417.30" cy="852.10" r="1.85" fill="#231f20"/>
<circle cx="416.70" cy="859.60" r="1.85" fill="#231f20"/>
<circle cx="417.30" cy="865.20" r="1.85" fill="#231f20"/>
<circle cx="416.70" cy="869.80" r="1.85" fill="#231f20"/>
<circle cx="424.60" cy="866.10" r="1.85" fill="#bcbec0"/>
<circle cx="432.20" cy="836.00" r="1.85" fill="#ec2227"/>
<circle cx="432.20" cy="852.10" r="1.85" fill="#ec2227"/>
<circle cx="432.20" cy="857.90" r="1.85" fill="#ec2227"/>
<line x1="443.10" y1="834.60" x2="447.50" y2="834.60" stroke="#231f20" stroke-width="0.8"/>
<line x1="458.50" y1="844.20" x2="462.90" y2="844.20" stroke="#231f20" stroke-width="0.8"/>
<circle cx="445.20" cy="822.80" r="1.85" fill="#231f20"/>
<circle cx="445.80" cy="840.00" r="1.85" fill="#231f20"/>
<circle cx="445.20" cy="840.90" r="1.85" fill="#231f20"/>
<circle cx="445.80" cy="847.70" r="1.85" fill="#231f20"/>
<circle cx="453.10" cy="838.60" r="1.85" fill="#bcbec0"/>
<circle cx="453.10" cy="840.70" r="1.85" fill="#bcbec0"/>
<circle cx="460.70" cy="837.70" r="1.85" fill="#ec2227"/>
<circle cx="460.70" cy="838.60" r="1.85" fill="#ec2227"/>
<circle cx="460.70" cy="857.30" r="1.85" fill="#ec2227"/>
<circle cx="460.70" cy="859.60" r="1.85" fill="#ec2227"/>
<circle cx="474.00" cy="814.40" r="1.85" fill="#231f20"/>
<circle cx="474.60" cy="817.20" r="1.85" fill="#231f20"/>
<circle cx="474.00" cy="819.70" r="1.85" fill="#231f20"/>
<circle cx="474.60" cy="821.90" r="1.85" fill="#231f20"/>
<circle cx="481.90" cy="819.30" r="1.85" fill="#bcbec0"/>
<circle cx="481.90" cy="821.90" r="1.85" fill="#bcbec0"/>
<circle cx="489.50" cy="812.30" r="1.85" fill="#ec2227"/>
<circle cx="489.50" cy="816.30" r="1.85" fill="#ec2227"/>
<circle cx="489.50" cy="819.00" r="1.85" fill="#ec2227"/>
<line x1="507.90" y1="804.40" x2="512.30" y2="804.40" stroke="#231f20" stroke-width="0.8"/>
<circle cx="502.50" cy="796.50" r="1.85" fill="#231f20"/>
<circle cx="503.10" cy="797.90" r="1.85" fill="#231f20"/>
<circle cx="502.50" cy="803.20" r="1.85" fill="#231f20"/>
<circle cx="503.10" cy="808.40" r="1.85" fill="#231f20"/>
<circle cx="502.50" cy="810.90" r="1.85" fill="#231f20"/>
<circle cx="510.40" cy="800.00" r="1.85" fill="#bcbec0"/>
<circle cx="510.40" cy="810.00" r="1.85" fill="#bcbec0"/>
<circle cx="518.00" cy="794.30" r="1.85" fill="#ec2227"/>
<circle cx="518.00" cy="798.60" r="1.85" fill="#ec2227"/>
<circle cx="518.00" cy="799.70" r="1.85" fill="#ec2227"/>
<circle cx="518.00" cy="802.30" r="1.85" fill="#ec2227"/>
<text x="430.60" y="889.50" font-size="9.4" text-anchor="end" fill="#2f2d2e" textLength="15.41" lengthAdjust="spacingAndGlyphs" transform="rotate(-45 430.60 889.50)">NS</text>
<text x="459.10" y="889.50" font-size="9.4" text-anchor="end" fill="#2f2d2e" textLength="22.81" lengthAdjust="spacingAndGlyphs" transform="rotate(-45 459.10 889.50)">PHA</text>
<text x="484.19" y="885.79" font-size="9.4" text-anchor="end" fill="#2f2d2e" textLength="70.27" lengthAdjust="spacingAndGlyphs" transform="rotate(-45 484.19 885.79)">Anti-CD2/CD3</text>
<text x="491.61" y="893.21" font-size="9.4" text-anchor="end" fill="#2f2d2e" textLength="31.44" lengthAdjust="spacingAndGlyphs" transform="rotate(-45 491.61 893.21)">/CD28</text>
<text x="512.69" y="885.79" font-size="9.4" text-anchor="end" fill="#2f2d2e" textLength="32.98" lengthAdjust="spacingAndGlyphs" transform="rotate(-45 512.69 885.79)">PMA +</text>
<text x="520.11" y="893.21" font-size="9.4" text-anchor="end" fill="#2f2d2e" textLength="49.94" lengthAdjust="spacingAndGlyphs" transform="rotate(-45 520.11 893.21)">ionomycin</text>
<text x="553.00" y="806.00" font-size="9.6" text-anchor="start" fill="#2f2d2e" textLength="36.10" lengthAdjust="spacingAndGlyphs">T blasts</text>
<circle cx="554.90" cy="821.40" r="1.8" fill="#231f20"/>
<text x="561.40" y="824.50" font-size="8.3" text-anchor="start" fill="#2f2d2e" textLength="66.50" lengthAdjust="spacingAndGlyphs">Healthy controls</text>
<circle cx="554.90" cy="836.45" r="1.8" fill="#bcbec0"/>
<text x="561.40" y="839.55" font-size="8.3" text-anchor="start" fill="#2f2d2e" textLength="89.40" lengthAdjust="spacingAndGlyphs">P4, P11 (heterozygous)</text>
<circle cx="554.90" cy="851.50" r="1.8" fill="#ec2227"/>
<text x="561.40" y="854.60" font-size="8.3" text-anchor="start" fill="#2f2d2e" textLength="111.60" lengthAdjust="spacingAndGlyphs">P1, P2, P8, P9 (homozygous)</text>
</svg></body></html>
